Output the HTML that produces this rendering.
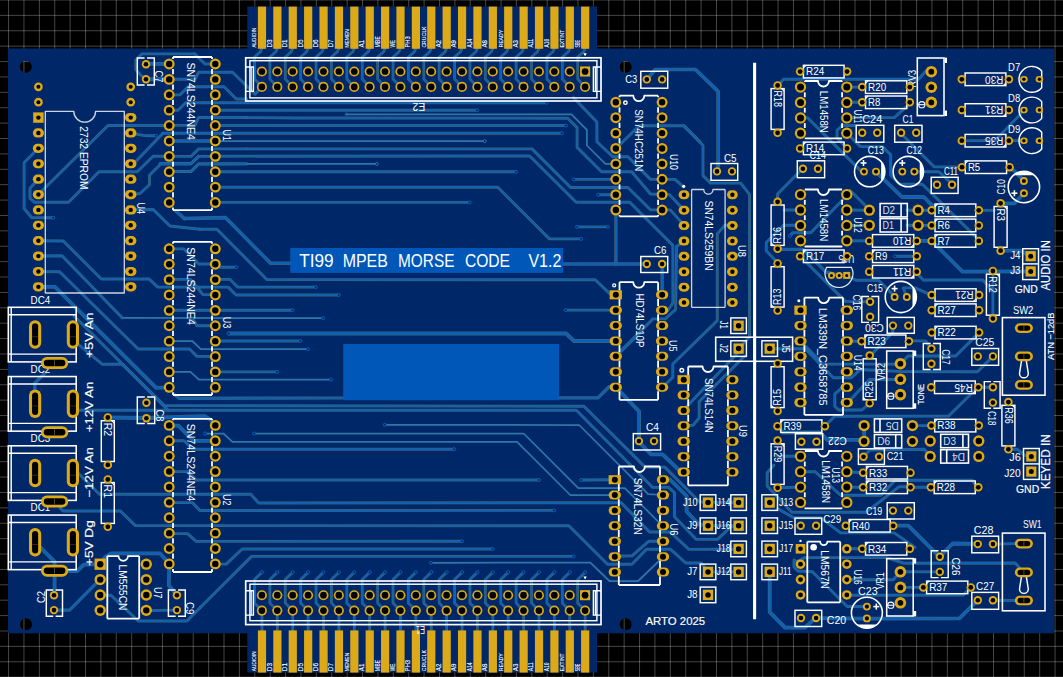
<!DOCTYPE html>
<html lang="en"><head><meta charset="utf-8"><title>TI99 MPEB MORSE CODE V1.2 - PCB</title>
<style>html,body{margin:0;padding:0;background:#000;overflow:hidden}svg{display:block}</style>
</head><body>
<svg width="1063" height="677" viewBox="0 0 1063 677">
<rect width="1063" height="677" fill="#000"/>
<g stroke="#fff" stroke-opacity="0.27" stroke-width="1">
<line x1="8.55" y1="0" x2="8.55" y2="677"/>
<line x1="23.94" y1="0" x2="23.94" y2="677"/>
<line x1="39.33" y1="0" x2="39.33" y2="677"/>
<line x1="54.72" y1="0" x2="54.72" y2="677"/>
<line x1="70.11" y1="0" x2="70.11" y2="677"/>
<line x1="85.5" y1="0" x2="85.5" y2="677"/>
<line x1="100.89" y1="0" x2="100.89" y2="677"/>
<line x1="116.28" y1="0" x2="116.28" y2="677"/>
<line x1="131.67" y1="0" x2="131.67" y2="677"/>
<line x1="147.06" y1="0" x2="147.06" y2="677"/>
<line x1="162.45" y1="0" x2="162.45" y2="677"/>
<line x1="177.84" y1="0" x2="177.84" y2="677"/>
<line x1="193.23" y1="0" x2="193.23" y2="677"/>
<line x1="208.62" y1="0" x2="208.62" y2="677"/>
<line x1="224.01" y1="0" x2="224.01" y2="677"/>
<line x1="239.4" y1="0" x2="239.4" y2="677"/>
<line x1="254.79" y1="0" x2="254.79" y2="677"/>
<line x1="270.18" y1="0" x2="270.18" y2="677"/>
<line x1="285.57" y1="0" x2="285.57" y2="677"/>
<line x1="300.96" y1="0" x2="300.96" y2="677"/>
<line x1="316.35" y1="0" x2="316.35" y2="677"/>
<line x1="331.74" y1="0" x2="331.74" y2="677"/>
<line x1="347.13" y1="0" x2="347.13" y2="677"/>
<line x1="362.52" y1="0" x2="362.52" y2="677"/>
<line x1="377.91" y1="0" x2="377.91" y2="677"/>
<line x1="393.3" y1="0" x2="393.3" y2="677"/>
<line x1="408.69" y1="0" x2="408.69" y2="677"/>
<line x1="424.08" y1="0" x2="424.08" y2="677"/>
<line x1="439.47" y1="0" x2="439.47" y2="677"/>
<line x1="454.86" y1="0" x2="454.86" y2="677"/>
<line x1="470.25" y1="0" x2="470.25" y2="677"/>
<line x1="485.64" y1="0" x2="485.64" y2="677"/>
<line x1="501.03" y1="0" x2="501.03" y2="677"/>
<line x1="516.42" y1="0" x2="516.42" y2="677"/>
<line x1="531.81" y1="0" x2="531.81" y2="677"/>
<line x1="547.2" y1="0" x2="547.2" y2="677"/>
<line x1="562.59" y1="0" x2="562.59" y2="677"/>
<line x1="577.98" y1="0" x2="577.98" y2="677"/>
<line x1="593.37" y1="0" x2="593.37" y2="677"/>
<line x1="608.76" y1="0" x2="608.76" y2="677"/>
<line x1="624.15" y1="0" x2="624.15" y2="677"/>
<line x1="639.54" y1="0" x2="639.54" y2="677"/>
<line x1="654.93" y1="0" x2="654.93" y2="677"/>
<line x1="670.32" y1="0" x2="670.32" y2="677"/>
<line x1="685.71" y1="0" x2="685.71" y2="677"/>
<line x1="701.1" y1="0" x2="701.1" y2="677"/>
<line x1="716.49" y1="0" x2="716.49" y2="677"/>
<line x1="731.88" y1="0" x2="731.88" y2="677"/>
<line x1="747.27" y1="0" x2="747.27" y2="677"/>
<line x1="762.66" y1="0" x2="762.66" y2="677"/>
<line x1="778.05" y1="0" x2="778.05" y2="677"/>
<line x1="793.44" y1="0" x2="793.44" y2="677"/>
<line x1="808.83" y1="0" x2="808.83" y2="677"/>
<line x1="824.22" y1="0" x2="824.22" y2="677"/>
<line x1="839.61" y1="0" x2="839.61" y2="677"/>
<line x1="855" y1="0" x2="855" y2="677"/>
<line x1="870.39" y1="0" x2="870.39" y2="677"/>
<line x1="885.78" y1="0" x2="885.78" y2="677"/>
<line x1="901.17" y1="0" x2="901.17" y2="677"/>
<line x1="916.56" y1="0" x2="916.56" y2="677"/>
<line x1="931.95" y1="0" x2="931.95" y2="677"/>
<line x1="947.34" y1="0" x2="947.34" y2="677"/>
<line x1="962.73" y1="0" x2="962.73" y2="677"/>
<line x1="978.12" y1="0" x2="978.12" y2="677"/>
<line x1="993.51" y1="0" x2="993.51" y2="677"/>
<line x1="1008.9" y1="0" x2="1008.9" y2="677"/>
<line x1="1024.29" y1="0" x2="1024.29" y2="677"/>
<line x1="1039.68" y1="0" x2="1039.68" y2="677"/>
<line x1="1055.07" y1="0" x2="1055.07" y2="677"/>
<line x1="0" y1="0" x2="1063" y2="0"/>
<line x1="0" y1="15.39" x2="1063" y2="15.39"/>
<line x1="0" y1="30.78" x2="1063" y2="30.78"/>
<line x1="0" y1="46.17" x2="1063" y2="46.17"/>
<line x1="0" y1="61.56" x2="1063" y2="61.56"/>
<line x1="0" y1="76.95" x2="1063" y2="76.95"/>
<line x1="0" y1="92.34" x2="1063" y2="92.34"/>
<line x1="0" y1="107.73" x2="1063" y2="107.73"/>
<line x1="0" y1="123.12" x2="1063" y2="123.12"/>
<line x1="0" y1="138.51" x2="1063" y2="138.51"/>
<line x1="0" y1="153.9" x2="1063" y2="153.9"/>
<line x1="0" y1="169.29" x2="1063" y2="169.29"/>
<line x1="0" y1="184.68" x2="1063" y2="184.68"/>
<line x1="0" y1="200.07" x2="1063" y2="200.07"/>
<line x1="0" y1="215.46" x2="1063" y2="215.46"/>
<line x1="0" y1="230.85" x2="1063" y2="230.85"/>
<line x1="0" y1="246.24" x2="1063" y2="246.24"/>
<line x1="0" y1="261.63" x2="1063" y2="261.63"/>
<line x1="0" y1="277.02" x2="1063" y2="277.02"/>
<line x1="0" y1="292.41" x2="1063" y2="292.41"/>
<line x1="0" y1="307.8" x2="1063" y2="307.8"/>
<line x1="0" y1="323.19" x2="1063" y2="323.19"/>
<line x1="0" y1="338.58" x2="1063" y2="338.58"/>
<line x1="0" y1="353.97" x2="1063" y2="353.97"/>
<line x1="0" y1="369.36" x2="1063" y2="369.36"/>
<line x1="0" y1="384.75" x2="1063" y2="384.75"/>
<line x1="0" y1="400.14" x2="1063" y2="400.14"/>
<line x1="0" y1="415.53" x2="1063" y2="415.53"/>
<line x1="0" y1="430.92" x2="1063" y2="430.92"/>
<line x1="0" y1="446.31" x2="1063" y2="446.31"/>
<line x1="0" y1="461.7" x2="1063" y2="461.7"/>
<line x1="0" y1="477.09" x2="1063" y2="477.09"/>
<line x1="0" y1="492.48" x2="1063" y2="492.48"/>
<line x1="0" y1="507.87" x2="1063" y2="507.87"/>
<line x1="0" y1="523.26" x2="1063" y2="523.26"/>
<line x1="0" y1="538.65" x2="1063" y2="538.65"/>
<line x1="0" y1="554.04" x2="1063" y2="554.04"/>
<line x1="0" y1="569.43" x2="1063" y2="569.43"/>
<line x1="0" y1="584.82" x2="1063" y2="584.82"/>
<line x1="0" y1="600.21" x2="1063" y2="600.21"/>
<line x1="0" y1="615.6" x2="1063" y2="615.6"/>
<line x1="0" y1="630.99" x2="1063" y2="630.99"/>
<line x1="0" y1="646.38" x2="1063" y2="646.38"/>
<line x1="0" y1="661.77" x2="1063" y2="661.77"/>
<line x1="0" y1="677.16" x2="1063" y2="677.16"/>
</g>
<path d="M8 48.6 H247.3 V6.6 H597 V48.6 H1054.2 V633.2 H597 V672.6 H247.3 V633.2 H8 Z" fill="#002868"/>
<g id="halo" fill="none" stroke="#4a7886" stroke-opacity="0.75" stroke-linejoin="round" stroke-linecap="round">
<polyline points="146.38,79.24 140.73,75.1 135.84,69.46 135.84,60.05 142.05,53.84 194.73,53.84" stroke-width="2.9"/>
<polyline points="194.7,53.8 205,64 215.3,64" stroke-width="2.9"/>
<polyline points="146.38,63.81 169.33,63.81" stroke-width="3.8"/>
<polyline points="146.38,79.24 169.33,79.24" stroke-width="3.8"/>
<polyline points="169.13,79.24 194.91,79.24 198.67,72.28 232.54,72.28 255.12,94.29 261.7,87.14" stroke-width="2.9"/>
<polyline points="169.13,94.86 179.86,94.86 188.33,86.77 224.07,86.77 236.3,99 246.65,99" stroke-width="2.9"/>
<polyline points="169.13,110.29 177.98,110.29 185.69,102.69 246.65,102.69" stroke-width="2.9"/>
<polyline points="169.13,125.34 194.91,125.34 198.67,117.44 246.65,117.44" stroke-width="2.9"/>
<polyline points="169.13,156.38 191.15,156.38 198.67,148.86 246.65,148.86" stroke-width="2.9"/>
<polyline points="160.1,163.53 191.15,163.53 198.67,156.38 215.61,156.38" stroke-width="2.9"/>
<polyline points="169.13,171.43 191.15,171.43 198.67,163.91 246.65,163.91" stroke-width="2.9"/>
<polyline points="169.13,140.95 215.61,140.95" stroke-width="2.9"/>
<polyline points="262,48 260.5,51.8 254.5,57 254.5,79 261.9,86.9" stroke-width="2.76"/>
<polyline points="262,572.2 254.5,579.5 254.5,603 261.9,610.6 262,631" stroke-width="2.76"/>
<polyline points="277.39,48 275.89,51.8 269.89,57 269.89,79 277.29,86.9" stroke-width="2.76"/>
<polyline points="277.39,572.2 269.89,579.5 269.89,603 277.29,610.6 277.39,631" stroke-width="2.76"/>
<polyline points="292.78,48 291.28,51.8 285.28,57 285.28,79 292.68,86.9" stroke-width="2.76"/>
<polyline points="292.78,572.2 285.28,579.5 285.28,603 292.68,610.6 292.78,631" stroke-width="2.76"/>
<polyline points="308.17,48 306.67,51.8 300.67,57 300.67,79 308.07,86.9" stroke-width="2.76"/>
<polyline points="308.17,572.2 300.67,579.5 300.67,603 308.07,610.6 308.17,631" stroke-width="2.76"/>
<polyline points="323.56,48 322.06,51.8 316.06,57 316.06,79 323.46,86.9" stroke-width="2.76"/>
<polyline points="323.56,572.2 316.06,579.5 316.06,603 323.46,610.6 323.56,631" stroke-width="2.76"/>
<polyline points="338.95,48 337.45,51.8 331.45,57 331.45,79 338.85,86.9" stroke-width="2.76"/>
<polyline points="338.95,572.2 331.45,579.5 331.45,603 338.85,610.6 338.95,631" stroke-width="2.76"/>
<polyline points="354.34,48 352.84,51.8 346.84,57 346.84,79 354.24,86.9" stroke-width="2.76"/>
<polyline points="354.34,572.2 346.84,579.5 346.84,603 354.24,610.6 354.34,631" stroke-width="2.76"/>
<polyline points="369.73,48 368.23,51.8 362.23,57 362.23,79 369.63,86.9" stroke-width="2.76"/>
<polyline points="369.73,572.2 362.23,579.5 362.23,603 369.63,610.6 369.73,631" stroke-width="2.76"/>
<polyline points="385.12,48 383.62,51.8 377.62,57 377.62,79 385.02,86.9" stroke-width="2.76"/>
<polyline points="385.12,572.2 377.62,579.5 377.62,603 385.02,610.6 385.12,631" stroke-width="2.76"/>
<polyline points="400.51,48 399.01,51.8 393.01,57 393.01,79 400.41,86.9" stroke-width="2.76"/>
<polyline points="400.51,572.2 393.01,579.5 393.01,603 400.41,610.6 400.51,631" stroke-width="2.76"/>
<polyline points="415.9,48 414.4,51.8 408.4,57 408.4,79 415.8,86.9" stroke-width="2.76"/>
<polyline points="415.9,572.2 408.4,579.5 408.4,603 415.8,610.6 415.9,631" stroke-width="2.76"/>
<polyline points="431.29,48 429.79,51.8 423.79,57 423.79,79 431.19,86.9" stroke-width="2.76"/>
<polyline points="431.29,572.2 423.79,579.5 423.79,603 431.19,610.6 431.29,631" stroke-width="2.76"/>
<polyline points="446.68,48 445.18,51.8 439.18,57 439.18,79 446.58,86.9" stroke-width="2.76"/>
<polyline points="446.68,572.2 439.18,579.5 439.18,603 446.58,610.6 446.68,631" stroke-width="2.76"/>
<polyline points="462.07,48 460.57,51.8 454.57,57 454.57,79 461.97,86.9" stroke-width="2.76"/>
<polyline points="462.07,572.2 454.57,579.5 454.57,603 461.97,610.6 462.07,631" stroke-width="2.76"/>
<polyline points="477.46,48 475.96,51.8 469.96,57 469.96,79 477.36,86.9" stroke-width="2.76"/>
<polyline points="477.46,572.2 469.96,579.5 469.96,603 477.36,610.6 477.46,631" stroke-width="2.76"/>
<polyline points="492.85,48 491.35,51.8 485.35,57 485.35,79 492.75,86.9" stroke-width="2.76"/>
<polyline points="492.85,572.2 485.35,579.5 485.35,603 492.75,610.6 492.85,631" stroke-width="2.76"/>
<polyline points="508.24,48 506.74,51.8 500.74,57 500.74,79 508.14,86.9" stroke-width="2.76"/>
<polyline points="508.24,572.2 500.74,579.5 500.74,603 508.14,610.6 508.24,631" stroke-width="2.76"/>
<polyline points="523.63,48 522.13,51.8 516.13,57 516.13,79 523.53,86.9" stroke-width="2.76"/>
<polyline points="523.63,572.2 516.13,579.5 516.13,603 523.53,610.6 523.63,631" stroke-width="2.76"/>
<polyline points="539.02,48 537.52,51.8 531.52,57 531.52,79 538.92,86.9" stroke-width="2.76"/>
<polyline points="539.02,572.2 531.52,579.5 531.52,603 538.92,610.6 539.02,631" stroke-width="2.76"/>
<polyline points="554.41,48 552.91,51.8 546.91,57 546.91,79 554.31,86.9" stroke-width="2.76"/>
<polyline points="554.41,572.2 546.91,579.5 546.91,603 554.31,610.6 554.41,631" stroke-width="2.76"/>
<polyline points="569.8,48 568.3,51.8 562.3,57 562.3,79 569.7,86.9" stroke-width="2.76"/>
<polyline points="569.8,572.2 562.3,579.5 562.3,603 569.7,610.6 569.8,631" stroke-width="2.76"/>
<polyline points="585.19,48 583.69,51.8 577.69,57 577.69,79 585.09,86.9" stroke-width="2.76"/>
<polyline points="585.19,572.2 577.69,579.5 577.69,603 585.09,610.6 585.19,631" stroke-width="2.76"/>
<polyline points="246.6,102.7 546.7,102.7" stroke-width="2.9"/>
<polyline points="215.3,110.3 477,110.3" stroke-width="2.9"/>
<polyline points="215.3,125.5 565.9,125.5" stroke-width="2.9"/>
<polyline points="162.9,133.2 561.7,133.2" stroke-width="2.9"/>
<polyline points="215.3,171.8 516,171.8" stroke-width="2.9"/>
<polyline points="215.3,202.4 469.6,202.4" stroke-width="2.9"/>
<polyline points="573.38,97.53 596.9,121.98 596.9,141.74 612.89,156.79 627.94,156.79 650.52,179.37 662.18,179.37" stroke-width="2.9"/>
<polyline points="246.6,117.6 300,118 567.7,118.2 577.1,127.6 577.1,147.4 601.6,171.8 631.7,171.8 650.5,194 662.1,194.4" stroke-width="2.9"/>
<polyline points="246.6,148.9 532,148.9 570.6,187.5 627.9,187.5 650.5,209.8 662.1,209.9" stroke-width="2.9"/>
<polyline points="215.3,156.2 529.7,156 576.2,202.3 629.8,202.3 672.9,245.4 672.9,303 667.8,310.5 662.1,310.5" stroke-width="2.9"/>
<polyline points="215.3,187.3 497.8,187.3 549.4,238.9 581.1,238.9" stroke-width="2.9"/>
<polyline points="573.94,179.37 615.71,179.37" stroke-width="2.9"/>
<polyline points="598.21,194.8 615.71,194.8" stroke-width="2.9"/>
<polyline points="615.71,148.7 639.23,125.75 683.44,125.75 700,141.74" stroke-width="2.9"/>
<polyline points="662.18,179.37 674.98,179.37 683.44,186.9" stroke-width="2.9"/>
<polyline points="662.18,194.42 669.33,194.42 683.44,209.47" stroke-width="2.9"/>
<polyline points="662.18,209.85 670.27,209.85 683.44,224.52" stroke-width="2.9"/>
<polyline points="577,226.9 608,226.9" stroke-width="2.9"/>
<polyline points="615.9,209.8 615.9,264" stroke-width="3.34"/>
<polyline points="563.2,264 646.8,264" stroke-width="3.57"/>
<polyline points="184.3,218.5 225.4,217.6 270.6,263.2 290.3,263.2" stroke-width="3.57"/>
<polyline points="175.8,211 184.3,218.5" stroke-width="3.57"/>
<polyline points="200,229.2 216.9,229.2 266.8,279.6 595.2,279.8 610.3,294.1 615.8,294.8" stroke-width="2.9"/>
<polyline points="215.3,264.2 220,267.2 236.3,267.2" stroke-width="2.9"/>
<polyline points="215.4,279.4 230.1,279.4 237.6,287.1 315.7,287.1" stroke-width="2.9"/>
<polyline points="200,287.1 228.2,287.1 236.1,295 338.9,295" stroke-width="2.9"/>
<polyline points="215.4,310.2 292.6,310.2" stroke-width="2.9"/>
<polyline points="565.7,310.1 615.9,310.1" stroke-width="2.9"/>
<polyline points="228.6,333.5 566.1,333.5 574,341 615.9,341" stroke-width="3.8"/>
<polyline points="215.4,341 300.3,341" stroke-width="2.9"/>
<polyline points="192,318.2 195.2,322.6 197,325.8 215.5,325.8" stroke-width="2.9"/>
<polyline points="215.4,371.9 277.1,371.9" stroke-width="2.9"/>
<polyline points="173.7,394 179.4,398.4 343.2,398" stroke-width="3.22"/>
<polyline points="558.9,397.8 598,397.8 609.3,386.5 615.9,387.1" stroke-width="3.22"/>
<polyline points="615.9,387.1 628.1,400 639.1,411.3 639.1,440" stroke-width="3.8"/>
<polyline points="615.9,356.4 620.6,351.7 640,333" stroke-width="2.9"/>
<polyline points="74,316 164.3,405.6 583.9,406.2 645.2,467.1 664.8,467.1 699.4,501.7 708,502.6" stroke-width="2.9"/>
<polyline points="73,340 102.5,364.3 122.3,364.3 168.2,410.2 576.4,410.2 652.7,487.4 668.5,487.4 674.5,492.7 674.5,516.8 696.4,539.4 717.5,539.4 731,526.6 738.6,525.7" stroke-width="2.9"/>
<polyline points="73,410.2 168.2,410.2" stroke-width="3"/>
<polyline points="169.2,440.8 184.1,440.8 192.5,449.2 454.1,449.2" stroke-width="2.9"/>
<polyline points="169.2,471.6 187.8,471.6 196.3,480 538.8,480" stroke-width="2.9"/>
<polyline points="581.1,480 614.8,479.7" stroke-width="2.9"/>
<polyline points="74,469 99.4,494.2 250.8,494.2 258.6,503 621,502.6 649.6,532 670.3,532 688.9,549.4 738.6,549.2" stroke-width="2.9"/>
<polyline points="169.4,502.6 192.3,502.6 199.9,510.5 554.2,510.4" stroke-width="2.9"/>
<polyline points="60.2,508.2 63,511 120.4,511 135.5,525.6 568.9,525.7 607.5,564.3 631.9,564.3 646.5,549.2 670.3,549.2 685.8,563 701.3,563 708,571.7" stroke-width="2.9"/>
<polyline points="169.4,533.6 187.6,533.6 196.1,541.4 462,541.3" stroke-width="2.9"/>
<polyline points="215.5,564.1 226.2,564.1 242.2,549 492.7,549" stroke-width="2.9"/>
<polyline points="200.8,607 251.6,556.4 573.6,556.4" stroke-width="2.9"/>
<polyline points="614.9,556.2 632,555.8 648.6,541.3 663,541.3" stroke-width="2.9"/>
<polyline points="107.8,417.5 146.4,418 204.8,416.2 211,420 215.4,425.8" stroke-width="3.8"/>
<polyline points="169.2,425.7 178.4,425.7 193.5,440.8 215.4,440.8" stroke-width="3.8"/>
<polyline points="99.9,564.2 105.4,557 111,553.3 159.9,553.3 169.4,564.1 168.8,585.4 176.9,595.2" stroke-width="3.8"/>
<polyline points="38.3,194.5 108,125.5 169.2,125.5" stroke-width="2.9"/>
<polyline points="38.3,179.3 30,188.2 30,198.4 34.3,202.2 68.5,202.2 99,171.7 137.2,171.7 153.2,156.2 169.2,156.3" stroke-width="2.9"/>
<polyline points="38.3,148.3 24.1,162.8 24.1,208.5 31.7,217.6 53.3,217.8" stroke-width="2.9"/>
<polyline points="130.8,133.2 145,135.6 156,135.7" stroke-width="2.9"/>
<polyline points="130.8,163.8 136.3,161 162.9,133.2" stroke-width="2.9"/>
<polyline points="130.8,194.6 140,193.5 149.5,184.7 149.5,175.3 160.8,164 190.9,164 198.4,156.4" stroke-width="2.9"/>
<polyline points="169.2,171.6 190.9,171.6 198.4,164 246.6,163.9" stroke-width="2.9"/>
<polyline points="169.2,141 215.3,141" stroke-width="2.9"/>
<polyline points="130.8,209.8 153.2,209.5 170,226 200,229.2" stroke-width="2.9"/>
<polyline points="38.3,240.8 63.3,241 101.3,279 149.1,279 157.7,287.1 200,287.1" stroke-width="2.9"/>
<polyline points="169.4,279.4 190.5,279.4 200,291 203,294.6 215.5,294.6" stroke-width="2.9"/>
<polyline points="169.4,248.9 183.9,248.9 198.9,264 215.5,264" stroke-width="2.9"/>
<polyline points="169.4,310.2 215.5,310.2" stroke-width="2.9"/>
<polyline points="38.3,256 62,255.8 122.2,317.8" stroke-width="2.9"/>
<polyline points="38.3,271.6 59.6,271.7 138.1,349 189.6,349 197,356.4 215.3,356.5" stroke-width="2.9"/>
<polyline points="38.3,286.9 55,286.9 156.2,387.8 169.2,387.3" stroke-width="3.8"/>
<polyline points="45.2,372.8 34.8,383.1 34.8,392" stroke-width="3.18"/>
<polyline points="40.5,547.6 54.6,561.7 54.6,591" stroke-width="3.8"/>
<polyline points="68.1,571.1 77.1,571.1 83.7,564.6 99.9,564.2" stroke-width="3.8"/>
<polyline points="54,610.1 69.6,610.1 94.1,585.3 99.9,580.5" stroke-width="3.18"/>
<polyline points="99.9,595.2 111,595.2 138.3,621 187,621 200.8,607" stroke-width="2.9"/>
<polyline points="146.4,610.6 176.9,610.1" stroke-width="2.9"/>
<polyline points="647,79.4 655.3,69.5 695.5,69.5 718.1,91.4 718.1,171.8" stroke-width="3.68"/>
<polyline points="684.2,125.8 703,145.4 703,175.6 710.6,183.1 740.7,183.1 749.5,194.4 749.5,337 744,343 738.6,348.6" stroke-width="2.9"/>
<polyline points="662.1,264 662.1,294.8" stroke-width="3.34"/>
<polyline points="615.8,356.4 620.1,351.8 653,318.9 665.3,318.9 675.6,309.5 676.6,246.5 684.2,241" stroke-width="2.9"/>
<polyline points="732.4,225.1 724.9,225.1 717.3,233.9 717.3,320.6 672.8,364 672.8,377.2 668,382 662.1,387.1" stroke-width="2.9"/>
<polyline points="738.6,352 689.2,404 683.7,410.3" stroke-width="2.9"/>
<polyline points="744.5,356.3 699.2,401.5 699.2,417.8 693,425.4 683.7,425.4" stroke-width="2.9"/>
<polyline points="639.2,442.3 651.2,454.3 662.5,454.3 678.3,469.4 683.6,471.6" stroke-width="3.8"/>
<polyline points="663,479.5 670,479.5 686.6,496 686.6,511.5 698.6,524.3 708.1,525.5" stroke-width="3.8"/>
<polyline points="708,502.4 738.6,502.4" stroke-width="2.76"/>
<polyline points="708,525.6 738.6,525.6" stroke-width="2.76"/>
<polyline points="708,571.8 738.6,571.8" stroke-width="2.76"/>
<polyline points="777.6,85.9 783.6,79.1 918.6,79.2 926.2,70.7 931.3,71.7" stroke-width="2.9"/>
<polyline points="846.8,87.1 862.2,87.1" stroke-width="2.9"/>
<polyline points="846.8,102.3 862.2,102.3" stroke-width="2.9"/>
<polyline points="846.6,117.6 894.3,117.6 907.1,106.2 909.8,102.3" stroke-width="2.9"/>
<polyline points="800.5,117.7 807.6,117.7 850,160.1 861.5,171.6" stroke-width="2.9"/>
<polyline points="854.4,125.5 842.3,125.5 837.1,130.3 837.1,137.8 847.1,148.4" stroke-width="2.9"/>
<polyline points="846.6,133 860.5,146.6 882.4,146.6 890.7,154.8 890.7,175.2 899.7,184.2 922.3,184.2 975.3,236.4 978.8,240.9" stroke-width="2.9"/>
<polyline points="900.5,133 934.3,166.9 962.2,166.9" stroke-width="2.9"/>
<polyline points="914.5,171.7 938.9,171.7 952.4,184.2" stroke-width="2.9"/>
<polyline points="875.9,171.7 902,197 923.8,197 934.3,207.6 931.3,209.8" stroke-width="3.8"/>
<polyline points="802.6,168.6 777.6,194 777.6,201.5" stroke-width="2.9"/>
<polyline points="850,190.2 866.6,206.8 869.3,210.2" stroke-width="2.9"/>
<polyline points="916.8,240.9 931.7,240.9 962.5,271.7 1030.7,271.4" stroke-width="3.8"/>
<polyline points="800.2,225.2 783.6,225.2 766.3,242.5 766.3,250.8 777.6,262.8" stroke-width="2.9"/>
<polyline points="800.5,210 784,210" stroke-width="2.9"/>
<polyline points="789.9,236 792.7,232.7 810.7,232.7 841.6,201.1 846.6,194.6" stroke-width="2.9"/>
<polyline points="777.6,249.3 803.2,249.3 825.8,271.9 839.2,275.4" stroke-width="3.22"/>
<polyline points="800.2,256.1 806.2,262.3 845.4,301.4 869.5,301.9" stroke-width="2.9"/>
<polyline points="846.8,210 869.3,210.2" stroke-width="2.9"/>
<polyline points="846.8,225.4 869.3,225.3" stroke-width="2.9"/>
<polyline points="846.8,240.8 869.2,240.9" stroke-width="2.9"/>
<polyline points="907,210.2 931.7,210.3" stroke-width="2.9"/>
<polyline points="907,225.3 931.7,225.4" stroke-width="2.9"/>
<polyline points="895.1,256.3 916.8,256.3" stroke-width="2.9"/>
<polyline points="846.9,275.5 855.9,280.3 878.5,280.3 893.6,295.4" stroke-width="2.9"/>
<polyline points="906.7,296.9 903.3,287.9 915,287.9 931.7,295.1" stroke-width="2.9"/>
<polyline points="846.8,341.2 861.6,341.3" stroke-width="2.9"/>
<polyline points="892.8,325.8 892.8,332.3 874,351.9 869.8,356.4" stroke-width="2.9"/>
<polyline points="769.6,348.7 803.2,348.7" stroke-width="2.9"/>
<polyline points="800.2,341.5 805.5,346 822.8,364.1 899.6,364.1" stroke-width="2.9"/>
<polyline points="805.5,349 833.3,377.7 851.4,377.7 860.4,369.5 903,371.6 977.5,371.8 992.9,356.4" stroke-width="2.9"/>
<polyline points="869.8,403 861.9,410 838.6,410 834.8,406.3 834.8,394.2 843.1,386.7 846.6,387.1" stroke-width="2.9"/>
<polyline points="846.6,402.2 851.4,398.7 869.5,379.5 899.6,379.5" stroke-width="2.9"/>
<polyline points="824.6,426.3 834.8,416.2 948.7,416 973.8,391.3 978.3,387.3" stroke-width="2.9"/>
<polyline points="777.5,426.2 783,432.5 820,432.5 827.4,439.8 864.1,439.8" stroke-width="3.8"/>
<polyline points="864.1,425.6 864.1,441.3" stroke-width="3.8"/>
<polyline points="773.8,465.2 767.2,472.7 767.2,485.9 791.7,512.2 866,512.2 898.9,486.8 910.2,486.8" stroke-width="2.9"/>
<polyline points="800.2,471.7 815.2,471.7 840.6,495.3 881.1,495.3 895.2,480.2 972.3,480.1 975.3,484.6" stroke-width="2.9"/>
<polyline points="863.7,456.7 869.8,450.1 924.3,449.2 930,455.7" stroke-width="2.9"/>
<polyline points="846.8,471.7 863.1,472.7" stroke-width="2.9"/>
<polyline points="846.8,487.1 863.1,487.3" stroke-width="2.9"/>
<polyline points="910.5,487.3 930.9,487.3" stroke-width="2.9"/>
<polyline points="912.4,425.6 931.4,425.6" stroke-width="2.9"/>
<polyline points="800.5,456.3 777.6,456.3" stroke-width="2.9"/>
<polyline points="800.5,487.1 777.6,487.8" stroke-width="2.9"/>
<polyline points="893.7,525.7 908.3,525.7 930,547.4 939.9,556.9" stroke-width="3.8"/>
<polyline points="777.6,508.4 793.6,517.8 820.9,517.8 840.6,532.9 894.2,532.9 915,547.4" stroke-width="2.9"/>
<polyline points="769.7,571.7 769.7,612.2 785.1,627.6 804.9,627.6 815.6,617.8" stroke-width="3.8"/>
<polyline points="815.6,618.2 866.9,618.6 959.5,618.4 973.8,604 977.8,600.2" stroke-width="3.8"/>
<polyline points="800.5,564.2 794,560 794,567 798,571 812.4,571.7 847.2,606.5 866.9,606.5" stroke-width="2.9"/>
<polyline points="798,561 804.9,557.6 886.7,557.6 903.6,563.2 1015.2,563 1019.7,567.9" stroke-width="2.9"/>
<polyline points="846.6,579.8 893.3,579.8 898,574.6" stroke-width="2.9"/>
<polyline points="846.6,595.2 963.2,595 967.8,590.5" stroke-width="2.9"/>
<polyline points="900.4,571.8 939.8,571.9" stroke-width="2.9"/>
<polyline points="900.4,587.4 923.3,587.4" stroke-width="2.9"/>
<polyline points="846.8,548.8 862.2,548.8" stroke-width="2.9"/>
<polyline points="939.8,556.7 952.7,543.5 977.8,543.8" stroke-width="3.8"/>
<polyline points="992.9,544.1 1015,543.6" stroke-width="2.9"/>
<polyline points="992.9,600.2 1015,600.5" stroke-width="2.9"/>
<polyline points="966.3,140.6 994.9,140.6 1019.7,115 1023.5,110" stroke-width="2.76"/>
<polyline points="1008.9,140.7 1023.5,140.7" stroke-width="2.76"/>
<polyline points="1009.6,167.2 1015,171.5 1023.9,181" stroke-width="3.8"/>
<polyline points="1023.9,193.2 1014.5,203.3 1000.6,203.3" stroke-width="3.8"/>
<polyline points="978.8,210.4 994.4,210.4" stroke-width="2.9"/>
<polyline points="1000.6,250.7 1020.5,250.7 1030.7,256.2" stroke-width="3.8"/>
<polyline points="992.9,274.8 992.9,318.6" stroke-width="2.76"/>
<polyline points="915.8,271.7 923.3,280 982.8,280 992.9,291.3" stroke-width="2.9"/>
<polyline points="909,340.9 925.6,340.9 930.9,348.5" stroke-width="2.9"/>
<polyline points="900.4,363.7 908,356 955.7,356 975.3,336.4 978.8,332.6" stroke-width="2.9"/>
<polyline points="978.3,387.3 992.9,387.2" stroke-width="2.9"/>
<polyline points="1008.4,449.3 1017.4,449.3 1025,455.3 1031.3,456.4" stroke-width="2.9"/>
</g>
<g id="traces">
<rect x="290.2" y="248" width="272.9" height="24.9" fill="#0057b8"/>
<rect x="343.2" y="344" width="215.9" height="56.2" fill="#0057b8"/>
<polyline points="146.38,79.24 140.73,75.1 135.84,69.46 135.84,60.05 142.05,53.84 194.73,53.84" fill="none" stroke="#0a60ba" stroke-width="1.4" stroke-linejoin="round" stroke-linecap="round"/>
<polyline points="194.7,53.8 205,64 215.3,64" fill="none" stroke="#0a60ba" stroke-width="1.4" stroke-linejoin="round" stroke-linecap="round"/>
<polyline points="146.38,63.81 169.33,63.81" fill="none" stroke="#0a60ba" stroke-width="2.3" stroke-linejoin="round" stroke-linecap="round"/>
<polyline points="146.38,79.24 169.33,79.24" fill="none" stroke="#0a60ba" stroke-width="2.3" stroke-linejoin="round" stroke-linecap="round"/>
<polyline points="169.13,79.24 194.91,79.24 198.67,72.28 232.54,72.28 255.12,94.29 261.7,87.14" fill="none" stroke="#0a60ba" stroke-width="1.4" stroke-linejoin="round" stroke-linecap="round"/>
<polyline points="169.13,94.86 179.86,94.86 188.33,86.77 224.07,86.77 236.3,99 246.65,99" fill="none" stroke="#0a60ba" stroke-width="1.4" stroke-linejoin="round" stroke-linecap="round"/>
<polyline points="169.13,110.29 177.98,110.29 185.69,102.69 246.65,102.69" fill="none" stroke="#0a60ba" stroke-width="1.4" stroke-linejoin="round" stroke-linecap="round"/>
<polyline points="169.13,125.34 194.91,125.34 198.67,117.44 246.65,117.44" fill="none" stroke="#0a60ba" stroke-width="1.4" stroke-linejoin="round" stroke-linecap="round"/>
<polyline points="169.13,156.38 191.15,156.38 198.67,148.86 246.65,148.86" fill="none" stroke="#0a60ba" stroke-width="1.4" stroke-linejoin="round" stroke-linecap="round"/>
<polyline points="160.1,163.53 191.15,163.53 198.67,156.38 215.61,156.38" fill="none" stroke="#0a60ba" stroke-width="1.4" stroke-linejoin="round" stroke-linecap="round"/>
<polyline points="169.13,171.43 191.15,171.43 198.67,163.91 246.65,163.91" fill="none" stroke="#0a60ba" stroke-width="1.4" stroke-linejoin="round" stroke-linecap="round"/>
<polyline points="169.13,140.95 215.61,140.95" fill="none" stroke="#0a60ba" stroke-width="1.4" stroke-linejoin="round" stroke-linecap="round"/>
<polyline points="262,48 260.5,51.8 254.5,57 254.5,79 261.9,86.9" fill="none" stroke="#0a60ba" stroke-width="1.26" stroke-linejoin="round" stroke-linecap="round"/>
<polyline points="262,572.2 254.5,579.5 254.5,603 261.9,610.6 262,631" fill="none" stroke="#0a60ba" stroke-width="1.26" stroke-linejoin="round" stroke-linecap="round"/>
<circle cx="262" cy="572.2" r="1.5" fill="#002868" stroke="#0a60ba" stroke-width="0.9"/>
<polyline points="277.39,48 275.89,51.8 269.89,57 269.89,79 277.29,86.9" fill="none" stroke="#0a60ba" stroke-width="1.26" stroke-linejoin="round" stroke-linecap="round"/>
<polyline points="277.39,572.2 269.89,579.5 269.89,603 277.29,610.6 277.39,631" fill="none" stroke="#0a60ba" stroke-width="1.26" stroke-linejoin="round" stroke-linecap="round"/>
<circle cx="277.39" cy="572.2" r="1.5" fill="#002868" stroke="#0a60ba" stroke-width="0.9"/>
<polyline points="292.78,48 291.28,51.8 285.28,57 285.28,79 292.68,86.9" fill="none" stroke="#0a60ba" stroke-width="1.26" stroke-linejoin="round" stroke-linecap="round"/>
<polyline points="292.78,572.2 285.28,579.5 285.28,603 292.68,610.6 292.78,631" fill="none" stroke="#0a60ba" stroke-width="1.26" stroke-linejoin="round" stroke-linecap="round"/>
<circle cx="292.78" cy="572.2" r="1.5" fill="#002868" stroke="#0a60ba" stroke-width="0.9"/>
<polyline points="308.17,48 306.67,51.8 300.67,57 300.67,79 308.07,86.9" fill="none" stroke="#0a60ba" stroke-width="1.26" stroke-linejoin="round" stroke-linecap="round"/>
<polyline points="308.17,572.2 300.67,579.5 300.67,603 308.07,610.6 308.17,631" fill="none" stroke="#0a60ba" stroke-width="1.26" stroke-linejoin="round" stroke-linecap="round"/>
<circle cx="308.17" cy="572.2" r="1.5" fill="#002868" stroke="#0a60ba" stroke-width="0.9"/>
<polyline points="323.56,48 322.06,51.8 316.06,57 316.06,79 323.46,86.9" fill="none" stroke="#0a60ba" stroke-width="1.26" stroke-linejoin="round" stroke-linecap="round"/>
<polyline points="323.56,572.2 316.06,579.5 316.06,603 323.46,610.6 323.56,631" fill="none" stroke="#0a60ba" stroke-width="1.26" stroke-linejoin="round" stroke-linecap="round"/>
<circle cx="323.56" cy="572.2" r="1.5" fill="#002868" stroke="#0a60ba" stroke-width="0.9"/>
<polyline points="338.95,48 337.45,51.8 331.45,57 331.45,79 338.85,86.9" fill="none" stroke="#0a60ba" stroke-width="1.26" stroke-linejoin="round" stroke-linecap="round"/>
<polyline points="338.95,572.2 331.45,579.5 331.45,603 338.85,610.6 338.95,631" fill="none" stroke="#0a60ba" stroke-width="1.26" stroke-linejoin="round" stroke-linecap="round"/>
<circle cx="338.95" cy="572.2" r="1.5" fill="#002868" stroke="#0a60ba" stroke-width="0.9"/>
<polyline points="354.34,48 352.84,51.8 346.84,57 346.84,79 354.24,86.9" fill="none" stroke="#0a60ba" stroke-width="1.26" stroke-linejoin="round" stroke-linecap="round"/>
<polyline points="354.34,572.2 346.84,579.5 346.84,603 354.24,610.6 354.34,631" fill="none" stroke="#0a60ba" stroke-width="1.26" stroke-linejoin="round" stroke-linecap="round"/>
<circle cx="354.34" cy="572.2" r="1.5" fill="#002868" stroke="#0a60ba" stroke-width="0.9"/>
<polyline points="369.73,48 368.23,51.8 362.23,57 362.23,79 369.63,86.9" fill="none" stroke="#0a60ba" stroke-width="1.26" stroke-linejoin="round" stroke-linecap="round"/>
<polyline points="369.73,572.2 362.23,579.5 362.23,603 369.63,610.6 369.73,631" fill="none" stroke="#0a60ba" stroke-width="1.26" stroke-linejoin="round" stroke-linecap="round"/>
<circle cx="369.73" cy="572.2" r="1.5" fill="#002868" stroke="#0a60ba" stroke-width="0.9"/>
<polyline points="385.12,48 383.62,51.8 377.62,57 377.62,79 385.02,86.9" fill="none" stroke="#0a60ba" stroke-width="1.26" stroke-linejoin="round" stroke-linecap="round"/>
<polyline points="385.12,572.2 377.62,579.5 377.62,603 385.02,610.6 385.12,631" fill="none" stroke="#0a60ba" stroke-width="1.26" stroke-linejoin="round" stroke-linecap="round"/>
<circle cx="385.12" cy="572.2" r="1.5" fill="#002868" stroke="#0a60ba" stroke-width="0.9"/>
<polyline points="400.51,48 399.01,51.8 393.01,57 393.01,79 400.41,86.9" fill="none" stroke="#0a60ba" stroke-width="1.26" stroke-linejoin="round" stroke-linecap="round"/>
<polyline points="400.51,572.2 393.01,579.5 393.01,603 400.41,610.6 400.51,631" fill="none" stroke="#0a60ba" stroke-width="1.26" stroke-linejoin="round" stroke-linecap="round"/>
<circle cx="400.51" cy="572.2" r="1.5" fill="#002868" stroke="#0a60ba" stroke-width="0.9"/>
<polyline points="415.9,48 414.4,51.8 408.4,57 408.4,79 415.8,86.9" fill="none" stroke="#0a60ba" stroke-width="1.26" stroke-linejoin="round" stroke-linecap="round"/>
<polyline points="415.9,572.2 408.4,579.5 408.4,603 415.8,610.6 415.9,631" fill="none" stroke="#0a60ba" stroke-width="1.26" stroke-linejoin="round" stroke-linecap="round"/>
<circle cx="415.9" cy="572.2" r="1.5" fill="#002868" stroke="#0a60ba" stroke-width="0.9"/>
<polyline points="431.29,48 429.79,51.8 423.79,57 423.79,79 431.19,86.9" fill="none" stroke="#0a60ba" stroke-width="1.26" stroke-linejoin="round" stroke-linecap="round"/>
<polyline points="431.29,572.2 423.79,579.5 423.79,603 431.19,610.6 431.29,631" fill="none" stroke="#0a60ba" stroke-width="1.26" stroke-linejoin="round" stroke-linecap="round"/>
<circle cx="431.29" cy="572.2" r="1.5" fill="#002868" stroke="#0a60ba" stroke-width="0.9"/>
<polyline points="446.68,48 445.18,51.8 439.18,57 439.18,79 446.58,86.9" fill="none" stroke="#0a60ba" stroke-width="1.26" stroke-linejoin="round" stroke-linecap="round"/>
<polyline points="446.68,572.2 439.18,579.5 439.18,603 446.58,610.6 446.68,631" fill="none" stroke="#0a60ba" stroke-width="1.26" stroke-linejoin="round" stroke-linecap="round"/>
<circle cx="446.68" cy="572.2" r="1.5" fill="#002868" stroke="#0a60ba" stroke-width="0.9"/>
<polyline points="462.07,48 460.57,51.8 454.57,57 454.57,79 461.97,86.9" fill="none" stroke="#0a60ba" stroke-width="1.26" stroke-linejoin="round" stroke-linecap="round"/>
<polyline points="462.07,572.2 454.57,579.5 454.57,603 461.97,610.6 462.07,631" fill="none" stroke="#0a60ba" stroke-width="1.26" stroke-linejoin="round" stroke-linecap="round"/>
<circle cx="462.07" cy="572.2" r="1.5" fill="#002868" stroke="#0a60ba" stroke-width="0.9"/>
<polyline points="477.46,48 475.96,51.8 469.96,57 469.96,79 477.36,86.9" fill="none" stroke="#0a60ba" stroke-width="1.26" stroke-linejoin="round" stroke-linecap="round"/>
<polyline points="477.46,572.2 469.96,579.5 469.96,603 477.36,610.6 477.46,631" fill="none" stroke="#0a60ba" stroke-width="1.26" stroke-linejoin="round" stroke-linecap="round"/>
<circle cx="477.46" cy="572.2" r="1.5" fill="#002868" stroke="#0a60ba" stroke-width="0.9"/>
<polyline points="492.85,48 491.35,51.8 485.35,57 485.35,79 492.75,86.9" fill="none" stroke="#0a60ba" stroke-width="1.26" stroke-linejoin="round" stroke-linecap="round"/>
<polyline points="492.85,572.2 485.35,579.5 485.35,603 492.75,610.6 492.85,631" fill="none" stroke="#0a60ba" stroke-width="1.26" stroke-linejoin="round" stroke-linecap="round"/>
<circle cx="492.85" cy="572.2" r="1.5" fill="#002868" stroke="#0a60ba" stroke-width="0.9"/>
<polyline points="508.24,48 506.74,51.8 500.74,57 500.74,79 508.14,86.9" fill="none" stroke="#0a60ba" stroke-width="1.26" stroke-linejoin="round" stroke-linecap="round"/>
<polyline points="508.24,572.2 500.74,579.5 500.74,603 508.14,610.6 508.24,631" fill="none" stroke="#0a60ba" stroke-width="1.26" stroke-linejoin="round" stroke-linecap="round"/>
<circle cx="508.24" cy="572.2" r="1.5" fill="#002868" stroke="#0a60ba" stroke-width="0.9"/>
<polyline points="523.63,48 522.13,51.8 516.13,57 516.13,79 523.53,86.9" fill="none" stroke="#0a60ba" stroke-width="1.26" stroke-linejoin="round" stroke-linecap="round"/>
<polyline points="523.63,572.2 516.13,579.5 516.13,603 523.53,610.6 523.63,631" fill="none" stroke="#0a60ba" stroke-width="1.26" stroke-linejoin="round" stroke-linecap="round"/>
<circle cx="523.63" cy="572.2" r="1.5" fill="#002868" stroke="#0a60ba" stroke-width="0.9"/>
<polyline points="539.02,48 537.52,51.8 531.52,57 531.52,79 538.92,86.9" fill="none" stroke="#0a60ba" stroke-width="1.26" stroke-linejoin="round" stroke-linecap="round"/>
<polyline points="539.02,572.2 531.52,579.5 531.52,603 538.92,610.6 539.02,631" fill="none" stroke="#0a60ba" stroke-width="1.26" stroke-linejoin="round" stroke-linecap="round"/>
<circle cx="539.02" cy="572.2" r="1.5" fill="#002868" stroke="#0a60ba" stroke-width="0.9"/>
<polyline points="554.41,48 552.91,51.8 546.91,57 546.91,79 554.31,86.9" fill="none" stroke="#0a60ba" stroke-width="1.26" stroke-linejoin="round" stroke-linecap="round"/>
<polyline points="554.41,572.2 546.91,579.5 546.91,603 554.31,610.6 554.41,631" fill="none" stroke="#0a60ba" stroke-width="1.26" stroke-linejoin="round" stroke-linecap="round"/>
<circle cx="554.41" cy="572.2" r="1.5" fill="#002868" stroke="#0a60ba" stroke-width="0.9"/>
<polyline points="569.8,48 568.3,51.8 562.3,57 562.3,79 569.7,86.9" fill="none" stroke="#0a60ba" stroke-width="1.26" stroke-linejoin="round" stroke-linecap="round"/>
<polyline points="569.8,572.2 562.3,579.5 562.3,603 569.7,610.6 569.8,631" fill="none" stroke="#0a60ba" stroke-width="1.26" stroke-linejoin="round" stroke-linecap="round"/>
<circle cx="569.8" cy="572.2" r="1.5" fill="#002868" stroke="#0a60ba" stroke-width="0.9"/>
<polyline points="585.19,48 583.69,51.8 577.69,57 577.69,79 585.09,86.9" fill="none" stroke="#0a60ba" stroke-width="1.26" stroke-linejoin="round" stroke-linecap="round"/>
<polyline points="585.19,572.2 577.69,579.5 577.69,603 585.09,610.6 585.19,631" fill="none" stroke="#0a60ba" stroke-width="1.26" stroke-linejoin="round" stroke-linecap="round"/>
<circle cx="585.19" cy="572.2" r="1.5" fill="#002868" stroke="#0a60ba" stroke-width="0.9"/>
<polyline points="246.6,102.7 546.7,102.7" fill="none" stroke="#0a60ba" stroke-width="1.4" stroke-linejoin="round" stroke-linecap="round"/>
<circle cx="546.7" cy="102.7" r="1.5" fill="#002868" stroke="#0a60ba" stroke-width="0.9"/>
<polyline points="215.3,110.3 477,110.3" fill="none" stroke="#0a60ba" stroke-width="1.4" stroke-linejoin="round" stroke-linecap="round"/>
<circle cx="477" cy="110.3" r="1.5" fill="#002868" stroke="#0a60ba" stroke-width="0.9"/>
<polyline points="215.3,125.5 565.9,125.5" fill="none" stroke="#0a60ba" stroke-width="1.4" stroke-linejoin="round" stroke-linecap="round"/>
<circle cx="565.9" cy="125.5" r="1.5" fill="#002868" stroke="#0a60ba" stroke-width="0.9"/>
<polyline points="162.9,133.2 561.7,133.2" fill="none" stroke="#0a60ba" stroke-width="1.4" stroke-linejoin="round" stroke-linecap="round"/>
<circle cx="561.7" cy="133.2" r="1.5" fill="#002868" stroke="#0a60ba" stroke-width="0.9"/>
<polyline points="215.3,141.1 484.7,141.1" fill="none" stroke="#3175a6" stroke-width="1.75" stroke-linejoin="round" stroke-linecap="round"/>
<circle cx="484.7" cy="141.1" r="1.5" fill="#002868" stroke="#3175a6" stroke-width="0.9"/>
<polyline points="246.6,163.9 376.9,163.9" fill="none" stroke="#3175a6" stroke-width="1.75" stroke-linejoin="round" stroke-linecap="round"/>
<circle cx="376.9" cy="163.9" r="1.5" fill="#002868" stroke="#3175a6" stroke-width="0.9"/>
<polyline points="215.3,171.8 516,171.8" fill="none" stroke="#0a60ba" stroke-width="1.4" stroke-linejoin="round" stroke-linecap="round"/>
<circle cx="516" cy="171.8" r="1.5" fill="#002868" stroke="#0a60ba" stroke-width="0.9"/>
<polyline points="215.3,202.4 469.6,202.4" fill="none" stroke="#0a60ba" stroke-width="1.4" stroke-linejoin="round" stroke-linecap="round"/>
<circle cx="469.6" cy="202.4" r="1.5" fill="#002868" stroke="#0a60ba" stroke-width="0.9"/>
<circle cx="346.4" cy="114.2" r="1.5" fill="#002868" stroke="#0a60ba" stroke-width="0.9"/>
<polyline points="573.38,97.53 596.9,121.98 596.9,141.74 612.89,156.79 627.94,156.79 650.52,179.37 662.18,179.37" fill="none" stroke="#0a60ba" stroke-width="1.4" stroke-linejoin="round" stroke-linecap="round"/>
<polyline points="346.4,114.4 571.5,114.4 586.9,129.9 586.9,145.5 605.4,163.9 615.8,163.9" fill="none" stroke="#3175a6" stroke-width="1.75" stroke-linejoin="round" stroke-linecap="round"/>
<polyline points="246.6,117.6 300,118 567.7,118.2 577.1,127.6 577.1,147.4 601.6,171.8 631.7,171.8 650.5,194 662.1,194.4" fill="none" stroke="#0a60ba" stroke-width="1.4" stroke-linejoin="round" stroke-linecap="round"/>
<polyline points="246.6,148.9 532,148.9 570.6,187.5 627.9,187.5 650.5,209.8 662.1,209.9" fill="none" stroke="#0a60ba" stroke-width="1.4" stroke-linejoin="round" stroke-linecap="round"/>
<polyline points="215.3,156.2 529.7,156 576.2,202.3 629.8,202.3 672.9,245.4 672.9,303 667.8,310.5 662.1,310.5" fill="none" stroke="#0a60ba" stroke-width="1.4" stroke-linejoin="round" stroke-linecap="round"/>
<polyline points="215.3,187.3 497.8,187.3 549.4,238.9 581.1,238.9" fill="none" stroke="#0a60ba" stroke-width="1.4" stroke-linejoin="round" stroke-linecap="round"/>
<polyline points="573.94,179.37 615.71,179.37" fill="none" stroke="#0a60ba" stroke-width="1.4" stroke-linejoin="round" stroke-linecap="round"/>
<circle cx="573.9" cy="179.4" r="1.5" fill="#002868" stroke="#0a60ba" stroke-width="0.9"/>
<polyline points="598.21,194.8 615.71,194.8" fill="none" stroke="#0a60ba" stroke-width="1.4" stroke-linejoin="round" stroke-linecap="round"/>
<circle cx="598.2" cy="194.8" r="1.5" fill="#002868" stroke="#0a60ba" stroke-width="0.9"/>
<polyline points="615.71,148.7 639.23,125.75 683.44,125.75 700,141.74" fill="none" stroke="#0a60ba" stroke-width="1.4" stroke-linejoin="round" stroke-linecap="round"/>
<polyline points="662.18,179.37 674.98,179.37 683.44,186.9" fill="none" stroke="#0a60ba" stroke-width="1.4" stroke-linejoin="round" stroke-linecap="round"/>
<polyline points="662.18,194.42 669.33,194.42 683.44,209.47" fill="none" stroke="#0a60ba" stroke-width="1.4" stroke-linejoin="round" stroke-linecap="round"/>
<polyline points="662.18,209.85 670.27,209.85 683.44,224.52" fill="none" stroke="#0a60ba" stroke-width="1.4" stroke-linejoin="round" stroke-linecap="round"/>
<circle cx="581.1" cy="238.9" r="1.5" fill="#002868" stroke="#0a60ba" stroke-width="0.9"/>
<polyline points="577,226.9 608,226.9" fill="none" stroke="#0a60ba" stroke-width="1.4" stroke-linejoin="round" stroke-linecap="round"/>
<circle cx="577" cy="226.9" r="1.5" fill="#002868" stroke="#0a60ba" stroke-width="0.9"/>
<circle cx="608" cy="226.9" r="1.5" fill="#002868" stroke="#0a60ba" stroke-width="0.9"/>
<polyline points="615.9,209.8 615.9,264" fill="none" stroke="#0a60ba" stroke-width="1.84" stroke-linejoin="round" stroke-linecap="round"/>
<polyline points="563.2,264 646.8,264" fill="none" stroke="#0a60ba" stroke-width="2.07" stroke-linejoin="round" stroke-linecap="round"/>
<polyline points="184.3,218.5 225.4,217.6 270.6,263.2 290.3,263.2" fill="none" stroke="#0a60ba" stroke-width="2.07" stroke-linejoin="round" stroke-linecap="round"/>
<polyline points="175.8,211 184.3,218.5" fill="none" stroke="#0a60ba" stroke-width="2.07" stroke-linejoin="round" stroke-linecap="round"/>
<polyline points="200,229.2 216.9,229.2 266.8,279.6 595.2,279.8 610.3,294.1 615.8,294.8" fill="none" stroke="#0a60ba" stroke-width="1.4" stroke-linejoin="round" stroke-linecap="round"/>
<polyline points="215.3,264.2 220,267.2 236.3,267.2" fill="none" stroke="#0a60ba" stroke-width="1.4" stroke-linejoin="round" stroke-linecap="round"/>
<circle cx="236.3" cy="267.2" r="1.5" fill="#002868" stroke="#0a60ba" stroke-width="0.9"/>
<polyline points="215.4,279.4 230.1,279.4 237.6,287.1 315.7,287.1" fill="none" stroke="#0a60ba" stroke-width="1.4" stroke-linejoin="round" stroke-linecap="round"/>
<circle cx="315.7" cy="287.1" r="1.5" fill="#002868" stroke="#0a60ba" stroke-width="0.9"/>
<polyline points="200,287.1 228.2,287.1 236.1,295 338.9,295" fill="none" stroke="#0a60ba" stroke-width="1.4" stroke-linejoin="round" stroke-linecap="round"/>
<circle cx="338.9" cy="295" r="1.5" fill="#002868" stroke="#0a60ba" stroke-width="0.9"/>
<polyline points="215.4,310.2 292.6,310.2" fill="none" stroke="#0a60ba" stroke-width="1.4" stroke-linejoin="round" stroke-linecap="round"/>
<circle cx="292.6" cy="310.2" r="1.5" fill="#002868" stroke="#0a60ba" stroke-width="0.9"/>
<polyline points="122.2,317.8 323.2,318.2" fill="none" stroke="#3175a6" stroke-width="1.75" stroke-linejoin="round" stroke-linecap="round"/>
<circle cx="323.2" cy="318.2" r="1.5" fill="#002868" stroke="#0a60ba" stroke-width="0.9"/>
<polyline points="565.7,310.1 615.9,310.1" fill="none" stroke="#0a60ba" stroke-width="1.4" stroke-linejoin="round" stroke-linecap="round"/>
<circle cx="565.7" cy="310.1" r="1.5" fill="#002868" stroke="#0a60ba" stroke-width="0.9"/>
<polyline points="228.6,333.5 566.1,333.5 574,341 615.9,341" fill="none" stroke="#0a60ba" stroke-width="2.3" stroke-linejoin="round" stroke-linecap="round"/>
<circle cx="228.6" cy="333.5" r="1.5" fill="#002868" stroke="#0a60ba" stroke-width="0.9"/>
<polyline points="215.4,341 300.3,341" fill="none" stroke="#0a60ba" stroke-width="1.4" stroke-linejoin="round" stroke-linecap="round"/>
<circle cx="300.3" cy="341" r="1.5" fill="#002868" stroke="#0a60ba" stroke-width="0.9"/>
<polyline points="169.4,341 192.3,341 200.8,349.2 307.8,349.2" fill="none" stroke="#3175a6" stroke-width="1.75" stroke-linejoin="round" stroke-linecap="round"/>
<circle cx="307.8" cy="349.2" r="1.5" fill="#002868" stroke="#0a60ba" stroke-width="0.9"/>
<polyline points="192,318.2 195.2,322.6 197,325.8 215.5,325.8" fill="none" stroke="#0a60ba" stroke-width="1.4" stroke-linejoin="round" stroke-linecap="round"/>
<polyline points="215.4,371.9 277.1,371.9" fill="none" stroke="#0a60ba" stroke-width="1.4" stroke-linejoin="round" stroke-linecap="round"/>
<circle cx="277.1" cy="371.9" r="1.5" fill="#002868" stroke="#0a60ba" stroke-width="0.9"/>
<polyline points="169.4,371.9 190.5,371.9 198.9,379.6 331.1,379.6" fill="none" stroke="#3175a6" stroke-width="1.75" stroke-linejoin="round" stroke-linecap="round"/>
<circle cx="331.1" cy="379.6" r="1.5" fill="#002868" stroke="#0a60ba" stroke-width="0.9"/>
<polyline points="173.7,394 179.4,398.4 343.2,398" fill="none" stroke="#0a60ba" stroke-width="1.72" stroke-linejoin="round" stroke-linecap="round"/>
<polyline points="558.9,397.8 598,397.8 609.3,386.5 615.9,387.1" fill="none" stroke="#0a60ba" stroke-width="1.72" stroke-linejoin="round" stroke-linecap="round"/>
<polyline points="615.9,387.1 628.1,400 639.1,411.3 639.1,440" fill="none" stroke="#0a60ba" stroke-width="2.3" stroke-linejoin="round" stroke-linecap="round"/>
<polyline points="615.9,356.4 620.6,351.7 640,333" fill="none" stroke="#0a60ba" stroke-width="1.4" stroke-linejoin="round" stroke-linecap="round"/>
<polyline points="74,316 164.3,405.6 583.9,406.2 645.2,467.1 664.8,467.1 699.4,501.7 708,502.6" fill="none" stroke="#0a60ba" stroke-width="1.4" stroke-linejoin="round" stroke-linecap="round"/>
<polyline points="73,340 102.5,364.3 122.3,364.3 168.2,410.2 576.4,410.2 652.7,487.4 668.5,487.4 674.5,492.7 674.5,516.8 696.4,539.4 717.5,539.4 731,526.6 738.6,525.7" fill="none" stroke="#0a60ba" stroke-width="1.4" stroke-linejoin="round" stroke-linecap="round"/>
<polyline points="73,410.2 168.2,410.2" fill="none" stroke="#0a60ba" stroke-width="1.49" stroke-linejoin="round" stroke-linecap="round"/>
<polyline points="384.8,424.8 579.2,425 648.2,494.2 663,495" fill="none" stroke="#3175a6" stroke-width="1.75" stroke-linejoin="round" stroke-linecap="round"/>
<circle cx="384.8" cy="424.8" r="1.5" fill="#002868" stroke="#0a60ba" stroke-width="0.9"/>
<polyline points="254,433.5 523.7,433.5 578.3,488.1 624.8,488.2 658.7,522.1 663,525.9" fill="none" stroke="#3175a6" stroke-width="1.75" stroke-linejoin="round" stroke-linecap="round"/>
<circle cx="254" cy="433.5" r="1.5" fill="#002868" stroke="#0a60ba" stroke-width="0.9"/>
<polyline points="205.1,433.5 223.5,433.5 232.4,441.8 517.1,441.8 570.2,495 615,495" fill="none" stroke="#3175a6" stroke-width="1.75" stroke-linejoin="round" stroke-linecap="round"/>
<circle cx="205.1" cy="433.5" r="1.5" fill="#002868" stroke="#0a60ba" stroke-width="0.9"/>
<polyline points="169.2,440.8 184.1,440.8 192.5,449.2 454.1,449.2" fill="none" stroke="#0a60ba" stroke-width="1.4" stroke-linejoin="round" stroke-linecap="round"/>
<circle cx="454.1" cy="449.2" r="1.5" fill="#002868" stroke="#0a60ba" stroke-width="0.9"/>
<polyline points="169.2,471.6 187.8,471.6 196.3,480 538.8,480" fill="none" stroke="#0a60ba" stroke-width="1.4" stroke-linejoin="round" stroke-linecap="round"/>
<circle cx="538.8" cy="480" r="1.5" fill="#002868" stroke="#0a60ba" stroke-width="0.9"/>
<polyline points="581.1,480 614.8,479.7" fill="none" stroke="#0a60ba" stroke-width="1.4" stroke-linejoin="round" stroke-linecap="round"/>
<circle cx="581.1" cy="480" r="1.5" fill="#002868" stroke="#0a60ba" stroke-width="0.9"/>
<polyline points="74,469 99.4,494.2 250.8,494.2 258.6,503 621,502.6 649.6,532 670.3,532 688.9,549.4 738.6,549.2" fill="none" stroke="#0a60ba" stroke-width="1.4" stroke-linejoin="round" stroke-linecap="round"/>
<polyline points="169.4,502.6 192.3,502.6 199.9,510.5 554.2,510.4" fill="none" stroke="#0a60ba" stroke-width="1.4" stroke-linejoin="round" stroke-linecap="round"/>
<circle cx="554.2" cy="510.4" r="1.5" fill="#002868" stroke="#0a60ba" stroke-width="0.9"/>
<polyline points="60.2,508.2 63,511 120.4,511 135.5,525.6 568.9,525.7 607.5,564.3 631.9,564.3 646.5,549.2 670.3,549.2 685.8,563 701.3,563 708,571.7" fill="none" stroke="#0a60ba" stroke-width="1.4" stroke-linejoin="round" stroke-linecap="round"/>
<polyline points="169.4,533.6 187.6,533.6 196.1,541.4 462,541.3" fill="none" stroke="#0a60ba" stroke-width="1.4" stroke-linejoin="round" stroke-linecap="round"/>
<circle cx="462" cy="541.3" r="1.5" fill="#002868" stroke="#0a60ba" stroke-width="0.9"/>
<polyline points="215.5,564.1 226.2,564.1 242.2,549 492.7,549" fill="none" stroke="#0a60ba" stroke-width="1.4" stroke-linejoin="round" stroke-linecap="round"/>
<circle cx="492.7" cy="549" r="1.5" fill="#002868" stroke="#0a60ba" stroke-width="0.9"/>
<polyline points="200.8,607 251.6,556.4 573.6,556.4" fill="none" stroke="#0a60ba" stroke-width="1.4" stroke-linejoin="round" stroke-linecap="round"/>
<circle cx="573.6" cy="556.4" r="1.5" fill="#002868" stroke="#0a60ba" stroke-width="0.9"/>
<polyline points="430.9,562.8 590.3,562.6 609.5,581 638.2,581 660,560 663,556.2" fill="none" stroke="#3175a6" stroke-width="1.75" stroke-linejoin="round" stroke-linecap="round"/>
<circle cx="430.9" cy="562.8" r="1.5" fill="#002868" stroke="#0a60ba" stroke-width="0.9"/>
<polyline points="614.9,556.2 632,555.8 648.6,541.3 663,541.3" fill="none" stroke="#0a60ba" stroke-width="1.4" stroke-linejoin="round" stroke-linecap="round"/>
<polyline points="107.8,417.5 146.4,418 204.8,416.2 211,420 215.4,425.8" fill="none" stroke="#0a60ba" stroke-width="2.3" stroke-linejoin="round" stroke-linecap="round"/>
<polyline points="169.2,425.7 178.4,425.7 193.5,440.8 215.4,440.8" fill="none" stroke="#0a60ba" stroke-width="2.3" stroke-linejoin="round" stroke-linecap="round"/>
<polyline points="99.9,564.2 105.4,557 111,553.3 159.9,553.3 169.4,564.1 168.8,585.4 176.9,595.2" fill="none" stroke="#0a60ba" stroke-width="2.3" stroke-linejoin="round" stroke-linecap="round"/>
<polyline points="38.3,194.5 108,125.5 169.2,125.5" fill="none" stroke="#0a60ba" stroke-width="1.4" stroke-linejoin="round" stroke-linecap="round"/>
<polyline points="38.3,179.3 30,188.2 30,198.4 34.3,202.2 68.5,202.2 99,171.7 137.2,171.7 153.2,156.2 169.2,156.3" fill="none" stroke="#0a60ba" stroke-width="1.4" stroke-linejoin="round" stroke-linecap="round"/>
<polyline points="38.3,148.3 24.1,162.8 24.1,208.5 31.7,217.6 53.3,217.8" fill="none" stroke="#0a60ba" stroke-width="1.4" stroke-linejoin="round" stroke-linecap="round"/>
<circle cx="53.3" cy="217.8" r="1.5" fill="#002868" stroke="#0a60ba" stroke-width="0.9"/>
<polyline points="130.8,133.2 145,135.6 156,135.7" fill="none" stroke="#0a60ba" stroke-width="1.4" stroke-linejoin="round" stroke-linecap="round"/>
<circle cx="156" cy="135.7" r="1.5" fill="#002868" stroke="#0a60ba" stroke-width="0.9"/>
<polyline points="130.8,163.8 136.3,161 162.9,133.2" fill="none" stroke="#0a60ba" stroke-width="1.4" stroke-linejoin="round" stroke-linecap="round"/>
<polyline points="130.8,194.6 140,193.5 149.5,184.7 149.5,175.3 160.8,164 190.9,164 198.4,156.4" fill="none" stroke="#0a60ba" stroke-width="1.4" stroke-linejoin="round" stroke-linecap="round"/>
<polyline points="169.2,171.6 190.9,171.6 198.4,164 246.6,163.9" fill="none" stroke="#0a60ba" stroke-width="1.4" stroke-linejoin="round" stroke-linecap="round"/>
<polyline points="169.2,141 215.3,141" fill="none" stroke="#0a60ba" stroke-width="1.4" stroke-linejoin="round" stroke-linecap="round"/>
<polyline points="130.8,209.8 153.2,209.5 170,226 200,229.2" fill="none" stroke="#0a60ba" stroke-width="1.4" stroke-linejoin="round" stroke-linecap="round"/>
<polyline points="38.3,240.8 63.3,241 101.3,279 149.1,279 157.7,287.1 200,287.1" fill="none" stroke="#0a60ba" stroke-width="1.4" stroke-linejoin="round" stroke-linecap="round"/>
<polyline points="169.4,279.4 190.5,279.4 200,291 203,294.6 215.5,294.6" fill="none" stroke="#0a60ba" stroke-width="1.4" stroke-linejoin="round" stroke-linecap="round"/>
<polyline points="169.4,248.9 183.9,248.9 198.9,264 215.5,264" fill="none" stroke="#0a60ba" stroke-width="1.4" stroke-linejoin="round" stroke-linecap="round"/>
<polyline points="169.4,310.2 215.5,310.2" fill="none" stroke="#0a60ba" stroke-width="1.4" stroke-linejoin="round" stroke-linecap="round"/>
<polyline points="38.3,256 62,255.8 122.2,317.8" fill="none" stroke="#0a60ba" stroke-width="1.4" stroke-linejoin="round" stroke-linecap="round"/>
<polyline points="38.3,271.6 59.6,271.7 138.1,349 189.6,349 197,356.4 215.3,356.5" fill="none" stroke="#0a60ba" stroke-width="1.4" stroke-linejoin="round" stroke-linecap="round"/>
<polyline points="38.3,286.9 55,286.9 156.2,387.8 169.2,387.3" fill="none" stroke="#0a60ba" stroke-width="2.3" stroke-linejoin="round" stroke-linecap="round"/>
<polyline points="45.2,372.8 34.8,383.1 34.8,392" fill="none" stroke="#0a60ba" stroke-width="1.68" stroke-linejoin="round" stroke-linecap="round"/>
<polyline points="40.5,547.6 54.6,561.7 54.6,591" fill="none" stroke="#0a60ba" stroke-width="2.3" stroke-linejoin="round" stroke-linecap="round"/>
<polyline points="68.1,571.1 77.1,571.1 83.7,564.6 99.9,564.2" fill="none" stroke="#0a60ba" stroke-width="2.3" stroke-linejoin="round" stroke-linecap="round"/>
<polyline points="54,610.1 69.6,610.1 94.1,585.3 99.9,580.5" fill="none" stroke="#0a60ba" stroke-width="1.68" stroke-linejoin="round" stroke-linecap="round"/>
<polyline points="99.9,595.2 111,595.2 138.3,621 187,621 200.8,607" fill="none" stroke="#0a60ba" stroke-width="1.4" stroke-linejoin="round" stroke-linecap="round"/>
<polyline points="146.4,610.6 176.9,610.1" fill="none" stroke="#0a60ba" stroke-width="1.4" stroke-linejoin="round" stroke-linecap="round"/>
<polyline points="647,79.4 655.3,69.5 695.5,69.5 718.1,91.4 718.1,171.8" fill="none" stroke="#0a60ba" stroke-width="2.18" stroke-linejoin="round" stroke-linecap="round"/>
<polyline points="684.2,125.8 703,145.4 703,175.6 710.6,183.1 740.7,183.1 749.5,194.4 749.5,337 744,343 738.6,348.6" fill="none" stroke="#0a60ba" stroke-width="1.4" stroke-linejoin="round" stroke-linecap="round"/>
<polyline points="662.1,264 662.1,294.8" fill="none" stroke="#0a60ba" stroke-width="1.84" stroke-linejoin="round" stroke-linecap="round"/>
<polyline points="615.8,356.4 620.1,351.8 653,318.9 665.3,318.9 675.6,309.5 676.6,246.5 684.2,241" fill="none" stroke="#0a60ba" stroke-width="1.4" stroke-linejoin="round" stroke-linecap="round"/>
<polyline points="732.4,225.1 724.9,225.1 717.3,233.9 717.3,320.6 672.8,364 672.8,377.2 668,382 662.1,387.1" fill="none" stroke="#0a60ba" stroke-width="1.4" stroke-linejoin="round" stroke-linecap="round"/>
<polyline points="738.6,352 689.2,404 683.7,410.3" fill="none" stroke="#0a60ba" stroke-width="1.4" stroke-linejoin="round" stroke-linecap="round"/>
<polyline points="744.5,356.3 699.2,401.5 699.2,417.8 693,425.4 683.7,425.4" fill="none" stroke="#0a60ba" stroke-width="1.4" stroke-linejoin="round" stroke-linecap="round"/>
<polyline points="639.2,442.3 651.2,454.3 662.5,454.3 678.3,469.4 683.6,471.6" fill="none" stroke="#0a60ba" stroke-width="2.3" stroke-linejoin="round" stroke-linecap="round"/>
<polyline points="663,479.5 670,479.5 686.6,496 686.6,511.5 698.6,524.3 708.1,525.5" fill="none" stroke="#0a60ba" stroke-width="2.3" stroke-linejoin="round" stroke-linecap="round"/>
<polyline points="708,502.4 738.6,502.4" fill="none" stroke="#0a60ba" stroke-width="1.26" stroke-linejoin="round" stroke-linecap="round"/>
<polyline points="708,525.6 738.6,525.6" fill="none" stroke="#0a60ba" stroke-width="1.26" stroke-linejoin="round" stroke-linecap="round"/>
<polyline points="708,571.8 738.6,571.8" fill="none" stroke="#0a60ba" stroke-width="1.26" stroke-linejoin="round" stroke-linecap="round"/>
<polyline points="777.6,85.9 783.6,79.1 918.6,79.2 926.2,70.7 931.3,71.7" fill="none" stroke="#0a60ba" stroke-width="1.4" stroke-linejoin="round" stroke-linecap="round"/>
<polyline points="846.8,87.1 862.2,87.1" fill="none" stroke="#0a60ba" stroke-width="1.4" stroke-linejoin="round" stroke-linecap="round"/>
<polyline points="846.8,102.3 862.2,102.3" fill="none" stroke="#0a60ba" stroke-width="1.4" stroke-linejoin="round" stroke-linecap="round"/>
<polyline points="846.6,117.6 894.3,117.6 907.1,106.2 909.8,102.3" fill="none" stroke="#0a60ba" stroke-width="1.4" stroke-linejoin="round" stroke-linecap="round"/>
<polyline points="800.5,117.7 807.6,117.7 850,160.1 861.5,171.6" fill="none" stroke="#0a60ba" stroke-width="1.4" stroke-linejoin="round" stroke-linecap="round"/>
<polyline points="854.4,125.5 842.3,125.5 837.1,130.3 837.1,137.8 847.1,148.4" fill="none" stroke="#0a60ba" stroke-width="1.4" stroke-linejoin="round" stroke-linecap="round"/>
<polyline points="846.6,133 860.5,146.6 882.4,146.6 890.7,154.8 890.7,175.2 899.7,184.2 922.3,184.2 975.3,236.4 978.8,240.9" fill="none" stroke="#0a60ba" stroke-width="1.4" stroke-linejoin="round" stroke-linecap="round"/>
<polyline points="900.5,133 934.3,166.9 962.2,166.9" fill="none" stroke="#0a60ba" stroke-width="1.4" stroke-linejoin="round" stroke-linecap="round"/>
<polyline points="914.5,171.7 938.9,171.7 952.4,184.2" fill="none" stroke="#0a60ba" stroke-width="1.4" stroke-linejoin="round" stroke-linecap="round"/>
<polyline points="875.9,171.7 902,197 923.8,197 934.3,207.6 931.3,209.8" fill="none" stroke="#0a60ba" stroke-width="2.3" stroke-linejoin="round" stroke-linecap="round"/>
<polyline points="802.6,168.6 777.6,194 777.6,201.5" fill="none" stroke="#0a60ba" stroke-width="1.4" stroke-linejoin="round" stroke-linecap="round"/>
<polyline points="850,190.2 866.6,206.8 869.3,210.2" fill="none" stroke="#0a60ba" stroke-width="1.4" stroke-linejoin="round" stroke-linecap="round"/>
<polyline points="916.8,240.9 931.7,240.9 962.5,271.7 1030.7,271.4" fill="none" stroke="#0a60ba" stroke-width="2.3" stroke-linejoin="round" stroke-linecap="round"/>
<polyline points="800.2,225.2 783.6,225.2 766.3,242.5 766.3,250.8 777.6,262.8" fill="none" stroke="#0a60ba" stroke-width="1.4" stroke-linejoin="round" stroke-linecap="round"/>
<polyline points="800.5,210 784,210" fill="none" stroke="#0a60ba" stroke-width="1.4" stroke-linejoin="round" stroke-linecap="round"/>
<polyline points="789.9,236 792.7,232.7 810.7,232.7 841.6,201.1 846.6,194.6" fill="none" stroke="#0a60ba" stroke-width="1.4" stroke-linejoin="round" stroke-linecap="round"/>
<circle cx="789.9" cy="236" r="1.5" fill="#002868" stroke="#0a60ba" stroke-width="0.9"/>
<polyline points="777.6,249.3 803.2,249.3 825.8,271.9 839.2,275.4" fill="none" stroke="#0a60ba" stroke-width="1.72" stroke-linejoin="round" stroke-linecap="round"/>
<polyline points="800.2,256.1 806.2,262.3 845.4,301.4 869.5,301.9" fill="none" stroke="#0a60ba" stroke-width="1.4" stroke-linejoin="round" stroke-linecap="round"/>
<polyline points="846.8,210 869.3,210.2" fill="none" stroke="#0a60ba" stroke-width="1.4" stroke-linejoin="round" stroke-linecap="round"/>
<polyline points="846.8,225.4 869.3,225.3" fill="none" stroke="#0a60ba" stroke-width="1.4" stroke-linejoin="round" stroke-linecap="round"/>
<polyline points="846.8,240.8 869.2,240.9" fill="none" stroke="#0a60ba" stroke-width="1.4" stroke-linejoin="round" stroke-linecap="round"/>
<polyline points="907,210.2 931.7,210.3" fill="none" stroke="#0a60ba" stroke-width="1.4" stroke-linejoin="round" stroke-linecap="round"/>
<polyline points="907,225.3 931.7,225.4" fill="none" stroke="#0a60ba" stroke-width="1.4" stroke-linejoin="round" stroke-linecap="round"/>
<polyline points="895.1,256.3 916.8,256.3" fill="none" stroke="#0a60ba" stroke-width="1.4" stroke-linejoin="round" stroke-linecap="round"/>
<circle cx="895.1" cy="256.3" r="1.5" fill="#002868" stroke="#0a60ba" stroke-width="0.9"/>
<polyline points="846.9,275.5 855.9,280.3 878.5,280.3 893.6,295.4" fill="none" stroke="#0a60ba" stroke-width="1.4" stroke-linejoin="round" stroke-linecap="round"/>
<polyline points="906.7,296.9 903.3,287.9 915,287.9 931.7,295.1" fill="none" stroke="#0a60ba" stroke-width="1.4" stroke-linejoin="round" stroke-linecap="round"/>
<polyline points="846.8,341.2 861.6,341.3" fill="none" stroke="#0a60ba" stroke-width="1.4" stroke-linejoin="round" stroke-linecap="round"/>
<polyline points="892.8,325.8 892.8,332.3 874,351.9 869.8,356.4" fill="none" stroke="#0a60ba" stroke-width="1.4" stroke-linejoin="round" stroke-linecap="round"/>
<polyline points="769.6,348.7 803.2,348.7" fill="none" stroke="#0a60ba" stroke-width="1.4" stroke-linejoin="round" stroke-linecap="round"/>
<polyline points="800.2,341.5 805.5,346 822.8,364.1 899.6,364.1" fill="none" stroke="#0a60ba" stroke-width="1.4" stroke-linejoin="round" stroke-linecap="round"/>
<polyline points="805.5,349 833.3,377.7 851.4,377.7 860.4,369.5 903,371.6 977.5,371.8 992.9,356.4" fill="none" stroke="#0a60ba" stroke-width="1.4" stroke-linejoin="round" stroke-linecap="round"/>
<polyline points="869.8,403 861.9,410 838.6,410 834.8,406.3 834.8,394.2 843.1,386.7 846.6,387.1" fill="none" stroke="#0a60ba" stroke-width="1.4" stroke-linejoin="round" stroke-linecap="round"/>
<polyline points="846.6,402.2 851.4,398.7 869.5,379.5 899.6,379.5" fill="none" stroke="#0a60ba" stroke-width="1.4" stroke-linejoin="round" stroke-linecap="round"/>
<polyline points="824.6,426.3 834.8,416.2 948.7,416 973.8,391.3 978.3,387.3" fill="none" stroke="#0a60ba" stroke-width="1.4" stroke-linejoin="round" stroke-linecap="round"/>
<polyline points="777.5,426.2 783,432.5 820,432.5 827.4,439.8 864.1,439.8" fill="none" stroke="#0a60ba" stroke-width="2.3" stroke-linejoin="round" stroke-linecap="round"/>
<polyline points="864.1,425.6 864.1,441.3" fill="none" stroke="#0a60ba" stroke-width="2.3" stroke-linejoin="round" stroke-linecap="round"/>
<polyline points="773.8,465.2 767.2,472.7 767.2,485.9 791.7,512.2 866,512.2 898.9,486.8 910.2,486.8" fill="none" stroke="#0a60ba" stroke-width="1.4" stroke-linejoin="round" stroke-linecap="round"/>
<polyline points="800.2,471.7 815.2,471.7 840.6,495.3 881.1,495.3 895.2,480.2 972.3,480.1 975.3,484.6" fill="none" stroke="#0a60ba" stroke-width="1.4" stroke-linejoin="round" stroke-linecap="round"/>
<polyline points="863.7,456.7 869.8,450.1 924.3,449.2 930,455.7" fill="none" stroke="#0a60ba" stroke-width="1.4" stroke-linejoin="round" stroke-linecap="round"/>
<polyline points="846.8,471.7 863.1,472.7" fill="none" stroke="#0a60ba" stroke-width="1.4" stroke-linejoin="round" stroke-linecap="round"/>
<polyline points="846.8,487.1 863.1,487.3" fill="none" stroke="#0a60ba" stroke-width="1.4" stroke-linejoin="round" stroke-linecap="round"/>
<polyline points="910.5,487.3 930.9,487.3" fill="none" stroke="#0a60ba" stroke-width="1.4" stroke-linejoin="round" stroke-linecap="round"/>
<polyline points="912.4,425.6 931.4,425.6" fill="none" stroke="#0a60ba" stroke-width="1.4" stroke-linejoin="round" stroke-linecap="round"/>
<polyline points="800.5,456.3 777.6,456.3" fill="none" stroke="#0a60ba" stroke-width="1.4" stroke-linejoin="round" stroke-linecap="round"/>
<polyline points="800.5,487.1 777.6,487.8" fill="none" stroke="#0a60ba" stroke-width="1.4" stroke-linejoin="round" stroke-linecap="round"/>
<polyline points="893.7,525.7 908.3,525.7 930,547.4 939.9,556.9" fill="none" stroke="#0a60ba" stroke-width="2.3" stroke-linejoin="round" stroke-linecap="round"/>
<polyline points="777.6,508.4 793.6,517.8 820.9,517.8 840.6,532.9 894.2,532.9 915,547.4" fill="none" stroke="#0a60ba" stroke-width="1.4" stroke-linejoin="round" stroke-linecap="round"/>
<polyline points="769.7,571.7 769.7,612.2 785.1,627.6 804.9,627.6 815.6,617.8" fill="none" stroke="#0a60ba" stroke-width="2.3" stroke-linejoin="round" stroke-linecap="round"/>
<polyline points="815.6,618.2 866.9,618.6 959.5,618.4 973.8,604 977.8,600.2" fill="none" stroke="#0a60ba" stroke-width="2.3" stroke-linejoin="round" stroke-linecap="round"/>
<polyline points="800.5,564.2 794,560 794,567 798,571 812.4,571.7 847.2,606.5 866.9,606.5" fill="none" stroke="#0a60ba" stroke-width="1.4" stroke-linejoin="round" stroke-linecap="round"/>
<polyline points="798,561 804.9,557.6 886.7,557.6 903.6,563.2 1015.2,563 1019.7,567.9" fill="none" stroke="#0a60ba" stroke-width="1.4" stroke-linejoin="round" stroke-linecap="round"/>
<polyline points="846.6,579.8 893.3,579.8 898,574.6" fill="none" stroke="#0a60ba" stroke-width="1.4" stroke-linejoin="round" stroke-linecap="round"/>
<polyline points="846.6,595.2 963.2,595 967.8,590.5" fill="none" stroke="#0a60ba" stroke-width="1.4" stroke-linejoin="round" stroke-linecap="round"/>
<polyline points="900.4,571.8 939.8,571.9" fill="none" stroke="#0a60ba" stroke-width="1.4" stroke-linejoin="round" stroke-linecap="round"/>
<polyline points="900.4,587.4 923.3,587.4" fill="none" stroke="#0a60ba" stroke-width="1.4" stroke-linejoin="round" stroke-linecap="round"/>
<polyline points="846.8,548.8 862.2,548.8" fill="none" stroke="#0a60ba" stroke-width="1.4" stroke-linejoin="round" stroke-linecap="round"/>
<polyline points="939.8,556.7 952.7,543.5 977.8,543.8" fill="none" stroke="#0a60ba" stroke-width="2.3" stroke-linejoin="round" stroke-linecap="round"/>
<polyline points="992.9,544.1 1015,543.6" fill="none" stroke="#0a60ba" stroke-width="1.4" stroke-linejoin="round" stroke-linecap="round"/>
<polyline points="992.9,600.2 1015,600.5" fill="none" stroke="#0a60ba" stroke-width="1.4" stroke-linejoin="round" stroke-linecap="round"/>
<polyline points="966.3,140.6 994.9,140.6 1019.7,115 1023.5,110" fill="none" stroke="#0a60ba" stroke-width="1.26" stroke-linejoin="round" stroke-linecap="round"/>
<polyline points="1008.9,140.7 1023.5,140.7" fill="none" stroke="#0a60ba" stroke-width="1.26" stroke-linejoin="round" stroke-linecap="round"/>
<polyline points="1009.6,167.2 1015,171.5 1023.9,181" fill="none" stroke="#0a60ba" stroke-width="2.3" stroke-linejoin="round" stroke-linecap="round"/>
<polyline points="1023.9,193.2 1014.5,203.3 1000.6,203.3" fill="none" stroke="#0a60ba" stroke-width="2.3" stroke-linejoin="round" stroke-linecap="round"/>
<polyline points="978.8,210.4 994.4,210.4" fill="none" stroke="#0a60ba" stroke-width="1.4" stroke-linejoin="round" stroke-linecap="round"/>
<polyline points="1000.6,250.7 1020.5,250.7 1030.7,256.2" fill="none" stroke="#0a60ba" stroke-width="2.3" stroke-linejoin="round" stroke-linecap="round"/>
<polyline points="992.9,274.8 992.9,318.6" fill="none" stroke="#0a60ba" stroke-width="1.26" stroke-linejoin="round" stroke-linecap="round"/>
<polyline points="915.8,271.7 923.3,280 982.8,280 992.9,291.3" fill="none" stroke="#0a60ba" stroke-width="1.4" stroke-linejoin="round" stroke-linecap="round"/>
<polyline points="909,340.9 925.6,340.9 930.9,348.5" fill="none" stroke="#0a60ba" stroke-width="1.4" stroke-linejoin="round" stroke-linecap="round"/>
<polyline points="900.4,363.7 908,356 955.7,356 975.3,336.4 978.8,332.6" fill="none" stroke="#0a60ba" stroke-width="1.4" stroke-linejoin="round" stroke-linecap="round"/>
<polyline points="978.3,387.3 992.9,387.2" fill="none" stroke="#0a60ba" stroke-width="1.4" stroke-linejoin="round" stroke-linecap="round"/>
<polyline points="1008.4,449.3 1017.4,449.3 1025,455.3 1031.3,456.4" fill="none" stroke="#0a60ba" stroke-width="1.4" stroke-linejoin="round" stroke-linecap="round"/>
</g>
<g id="silk">
<rect x="245.7" y="57.8" width="355.3" height="43.2" fill="none" stroke="#ffffff" stroke-width="1.68"/>
<rect x="249.9" y="60.7" width="347" height="37.2" fill="none" stroke="#ffffff" stroke-width="1.44"/>
<path d="M245.7 67 H253.4 V91.4 H245.7" fill="none" stroke="#ffffff" stroke-width="1.44" stroke-linejoin="miter"/>
<line x1="251.2" y1="67" x2="251.2" y2="91.4" stroke="#ffffff" stroke-width="1.2"/>
<path d="M601 67 H593.4 V91.4 H601" fill="none" stroke="#ffffff" stroke-width="1.44" stroke-linejoin="miter"/>
<line x1="595.4" y1="67" x2="595.4" y2="91.4" stroke="#ffffff" stroke-width="1.2"/>
<path d="M583.39 53.2 h3.4 l-1.7 3 z" fill="#fff"/>
<rect x="245.7" y="581" width="355.3" height="43.6" fill="none" stroke="#ffffff" stroke-width="1.68"/>
<rect x="249.9" y="584.2" width="347" height="36.5" fill="none" stroke="#ffffff" stroke-width="1.44"/>
<path d="M245.7 590.7 H253.4 V615.1 H245.7" fill="none" stroke="#ffffff" stroke-width="1.44" stroke-linejoin="miter"/>
<line x1="251.2" y1="590.7" x2="251.2" y2="615.1" stroke="#ffffff" stroke-width="1.2"/>
<path d="M601 590.7 H593.4 V615.1 H601" fill="none" stroke="#ffffff" stroke-width="1.44" stroke-linejoin="miter"/>
<line x1="595.4" y1="590.7" x2="595.4" y2="615.1" stroke="#ffffff" stroke-width="1.2"/>
<path d="M583.39 576.4 h3.4 l-1.7 3 z" fill="#fff"/>
<path d="M45.3 293 V111.3 H73.8 A10.9 10.9 0 0 0 95.6 111.3 H124.3 V293 Z" fill="none" stroke="#ffffff" stroke-width="1.32" stroke-linejoin="round" stroke-opacity="0.8"/>
<path d="M144.6 58 H137.3 V85 H144.6 M147 58 H154.3 V85 H147" fill="none" stroke="#ffffff" stroke-width="1.44" stroke-linejoin="miter"/>
<line x1="173" y1="57" x2="212" y2="57" stroke="#ffffff" stroke-width="1.8"/>
<line x1="173" y1="210.2" x2="212" y2="210.2" stroke="#ffffff" stroke-width="1.8"/>
<line x1="173" y1="57" x2="173" y2="58.95" stroke="#ffffff" stroke-width="1.8"/>
<line x1="173" y1="69.05" x2="173" y2="74.34" stroke="#ffffff" stroke-width="1.8"/>
<line x1="173" y1="84.44" x2="173" y2="89.73" stroke="#ffffff" stroke-width="1.8"/>
<line x1="173" y1="99.83" x2="173" y2="105.12" stroke="#ffffff" stroke-width="1.8"/>
<line x1="173" y1="115.22" x2="173" y2="120.51" stroke="#ffffff" stroke-width="1.8"/>
<line x1="173" y1="130.61" x2="173" y2="135.9" stroke="#ffffff" stroke-width="1.8"/>
<line x1="173" y1="146" x2="173" y2="151.29" stroke="#ffffff" stroke-width="1.8"/>
<line x1="173" y1="161.39" x2="173" y2="166.68" stroke="#ffffff" stroke-width="1.8"/>
<line x1="173" y1="176.78" x2="173" y2="182.07" stroke="#ffffff" stroke-width="1.8"/>
<line x1="173" y1="192.17" x2="173" y2="197.46" stroke="#ffffff" stroke-width="1.8"/>
<line x1="173" y1="207.56" x2="173" y2="210.2" stroke="#ffffff" stroke-width="1.8"/>
<line x1="212" y1="57" x2="212" y2="58.95" stroke="#ffffff" stroke-width="1.8"/>
<line x1="212" y1="69.05" x2="212" y2="74.34" stroke="#ffffff" stroke-width="1.8"/>
<line x1="212" y1="84.44" x2="212" y2="89.73" stroke="#ffffff" stroke-width="1.8"/>
<line x1="212" y1="99.83" x2="212" y2="105.12" stroke="#ffffff" stroke-width="1.8"/>
<line x1="212" y1="115.22" x2="212" y2="120.51" stroke="#ffffff" stroke-width="1.8"/>
<line x1="212" y1="130.61" x2="212" y2="135.9" stroke="#ffffff" stroke-width="1.8"/>
<line x1="212" y1="146" x2="212" y2="151.29" stroke="#ffffff" stroke-width="1.8"/>
<line x1="212" y1="161.39" x2="212" y2="166.68" stroke="#ffffff" stroke-width="1.8"/>
<line x1="212" y1="176.78" x2="212" y2="182.07" stroke="#ffffff" stroke-width="1.8"/>
<line x1="212" y1="192.17" x2="212" y2="197.46" stroke="#ffffff" stroke-width="1.8"/>
<line x1="212" y1="207.56" x2="212" y2="210.2" stroke="#ffffff" stroke-width="1.8"/>
<line x1="173" y1="241.8" x2="212" y2="241.8" stroke="#ffffff" stroke-width="1.8"/>
<line x1="173" y1="395" x2="212" y2="395" stroke="#ffffff" stroke-width="1.8"/>
<line x1="173" y1="241.8" x2="173" y2="243.75" stroke="#ffffff" stroke-width="1.8"/>
<line x1="173" y1="253.85" x2="173" y2="259.14" stroke="#ffffff" stroke-width="1.8"/>
<line x1="173" y1="269.24" x2="173" y2="274.53" stroke="#ffffff" stroke-width="1.8"/>
<line x1="173" y1="284.63" x2="173" y2="289.92" stroke="#ffffff" stroke-width="1.8"/>
<line x1="173" y1="300.02" x2="173" y2="305.31" stroke="#ffffff" stroke-width="1.8"/>
<line x1="173" y1="315.41" x2="173" y2="320.7" stroke="#ffffff" stroke-width="1.8"/>
<line x1="173" y1="330.8" x2="173" y2="336.09" stroke="#ffffff" stroke-width="1.8"/>
<line x1="173" y1="346.19" x2="173" y2="351.48" stroke="#ffffff" stroke-width="1.8"/>
<line x1="173" y1="361.58" x2="173" y2="366.87" stroke="#ffffff" stroke-width="1.8"/>
<line x1="173" y1="376.97" x2="173" y2="382.26" stroke="#ffffff" stroke-width="1.8"/>
<line x1="173" y1="392.36" x2="173" y2="395" stroke="#ffffff" stroke-width="1.8"/>
<line x1="212" y1="241.8" x2="212" y2="243.75" stroke="#ffffff" stroke-width="1.8"/>
<line x1="212" y1="253.85" x2="212" y2="259.14" stroke="#ffffff" stroke-width="1.8"/>
<line x1="212" y1="269.24" x2="212" y2="274.53" stroke="#ffffff" stroke-width="1.8"/>
<line x1="212" y1="284.63" x2="212" y2="289.92" stroke="#ffffff" stroke-width="1.8"/>
<line x1="212" y1="300.02" x2="212" y2="305.31" stroke="#ffffff" stroke-width="1.8"/>
<line x1="212" y1="315.41" x2="212" y2="320.7" stroke="#ffffff" stroke-width="1.8"/>
<line x1="212" y1="330.8" x2="212" y2="336.09" stroke="#ffffff" stroke-width="1.8"/>
<line x1="212" y1="346.19" x2="212" y2="351.48" stroke="#ffffff" stroke-width="1.8"/>
<line x1="212" y1="361.58" x2="212" y2="366.87" stroke="#ffffff" stroke-width="1.8"/>
<line x1="212" y1="376.97" x2="212" y2="382.26" stroke="#ffffff" stroke-width="1.8"/>
<line x1="212" y1="392.36" x2="212" y2="395" stroke="#ffffff" stroke-width="1.8"/>
<line x1="173" y1="418.8" x2="212" y2="418.8" stroke="#ffffff" stroke-width="1.8"/>
<line x1="173" y1="572" x2="212" y2="572" stroke="#ffffff" stroke-width="1.8"/>
<line x1="173" y1="418.8" x2="173" y2="420.35" stroke="#ffffff" stroke-width="1.8"/>
<line x1="173" y1="430.45" x2="173" y2="435.74" stroke="#ffffff" stroke-width="1.8"/>
<line x1="173" y1="445.84" x2="173" y2="451.13" stroke="#ffffff" stroke-width="1.8"/>
<line x1="173" y1="461.23" x2="173" y2="466.52" stroke="#ffffff" stroke-width="1.8"/>
<line x1="173" y1="476.62" x2="173" y2="481.91" stroke="#ffffff" stroke-width="1.8"/>
<line x1="173" y1="492.01" x2="173" y2="497.3" stroke="#ffffff" stroke-width="1.8"/>
<line x1="173" y1="507.4" x2="173" y2="512.69" stroke="#ffffff" stroke-width="1.8"/>
<line x1="173" y1="522.79" x2="173" y2="528.08" stroke="#ffffff" stroke-width="1.8"/>
<line x1="173" y1="538.18" x2="173" y2="543.47" stroke="#ffffff" stroke-width="1.8"/>
<line x1="173" y1="553.57" x2="173" y2="558.86" stroke="#ffffff" stroke-width="1.8"/>
<line x1="173" y1="568.96" x2="173" y2="572" stroke="#ffffff" stroke-width="1.8"/>
<line x1="212" y1="418.8" x2="212" y2="420.35" stroke="#ffffff" stroke-width="1.8"/>
<line x1="212" y1="430.45" x2="212" y2="435.74" stroke="#ffffff" stroke-width="1.8"/>
<line x1="212" y1="445.84" x2="212" y2="451.13" stroke="#ffffff" stroke-width="1.8"/>
<line x1="212" y1="461.23" x2="212" y2="466.52" stroke="#ffffff" stroke-width="1.8"/>
<line x1="212" y1="476.62" x2="212" y2="481.91" stroke="#ffffff" stroke-width="1.8"/>
<line x1="212" y1="492.01" x2="212" y2="497.3" stroke="#ffffff" stroke-width="1.8"/>
<line x1="212" y1="507.4" x2="212" y2="512.69" stroke="#ffffff" stroke-width="1.8"/>
<line x1="212" y1="522.79" x2="212" y2="528.08" stroke="#ffffff" stroke-width="1.8"/>
<line x1="212" y1="538.18" x2="212" y2="543.47" stroke="#ffffff" stroke-width="1.8"/>
<line x1="212" y1="553.57" x2="212" y2="558.86" stroke="#ffffff" stroke-width="1.8"/>
<line x1="212" y1="568.96" x2="212" y2="572" stroke="#ffffff" stroke-width="1.8"/>
<rect x="8.3" y="307.3" width="67.9" height="54.6" fill="none" stroke="#ffffff" stroke-width="1.56"/>
<line x1="11.2" y1="307.3" x2="11.2" y2="361.9" stroke="#ffffff" stroke-width="1.44"/>
<line x1="8.3" y1="314.7" x2="76.2" y2="314.7" stroke="#ffffff" stroke-width="1.44"/>
<line x1="8.3" y1="354.1" x2="76.2" y2="354.1" stroke="#ffffff" stroke-width="1.44"/>
<rect x="8.3" y="376.55" width="67.9" height="54.6" fill="none" stroke="#ffffff" stroke-width="1.56"/>
<line x1="11.2" y1="376.55" x2="11.2" y2="431.15" stroke="#ffffff" stroke-width="1.44"/>
<line x1="8.3" y1="383.95" x2="76.2" y2="383.95" stroke="#ffffff" stroke-width="1.44"/>
<line x1="8.3" y1="423.35" x2="76.2" y2="423.35" stroke="#ffffff" stroke-width="1.44"/>
<rect x="8.3" y="445.8" width="67.9" height="54.6" fill="none" stroke="#ffffff" stroke-width="1.56"/>
<line x1="11.2" y1="445.8" x2="11.2" y2="500.4" stroke="#ffffff" stroke-width="1.44"/>
<line x1="8.3" y1="453.2" x2="76.2" y2="453.2" stroke="#ffffff" stroke-width="1.44"/>
<line x1="8.3" y1="492.6" x2="76.2" y2="492.6" stroke="#ffffff" stroke-width="1.44"/>
<rect x="8.3" y="515.05" width="67.9" height="54.6" fill="none" stroke="#ffffff" stroke-width="1.56"/>
<line x1="11.2" y1="515.05" x2="11.2" y2="569.65" stroke="#ffffff" stroke-width="1.44"/>
<line x1="8.3" y1="522.45" x2="76.2" y2="522.45" stroke="#ffffff" stroke-width="1.44"/>
<line x1="8.3" y1="561.85" x2="76.2" y2="561.85" stroke="#ffffff" stroke-width="1.44"/>
<rect x="101.3" y="420.7" width="13" height="40.8" fill="none" stroke="#ffffff" stroke-width="1.44"/>
<line x1="111.8" y1="420.7" x2="114.3" y2="423.2" stroke="#ffffff" stroke-width="1.2"/>
<rect x="101.3" y="482.6" width="13" height="40.8" fill="none" stroke="#ffffff" stroke-width="1.44"/>
<line x1="111.8" y1="482.6" x2="114.3" y2="485.1" stroke="#ffffff" stroke-width="1.2"/>
<path d="M144.8 397 H137.3 V423.5 H144.8 M147.2 397 H154.7 V423.5 H147.2" fill="none" stroke="#ffffff" stroke-width="1.44" stroke-linejoin="miter"/>
<path d="M53.2 590 H46.3 V616.3 H53.2 M55.6 590 H62.5 V616.3 H55.6" fill="none" stroke="#ffffff" stroke-width="1.44" stroke-linejoin="miter"/>
<path d="M107.3 556.1 H118.55 A4.7 4.7 0 0 0 127.95 556.1 H139.2" fill="none" stroke="#ffffff" stroke-width="1.8" stroke-linejoin="round"/>
<line x1="107.3" y1="618.6" x2="139.2" y2="618.6" stroke="#ffffff" stroke-width="1.8"/>
<line x1="107.3" y1="556.1" x2="107.3" y2="618.6" stroke="#ffffff" stroke-width="1.8"/>
<line x1="139.2" y1="556.1" x2="139.2" y2="618.6" stroke="#ffffff" stroke-width="1.8"/>
<path d="M175.65 590 H168.4 V616.3 H175.65 M178.05 590 H185.3 V616.3 H178.05" fill="none" stroke="#ffffff" stroke-width="1.44" stroke-linejoin="miter"/>
<rect x="640.8" y="71.3" width="26.9" height="16.9" fill="none" stroke="#ffffff" stroke-width="1.44"/>
<path d="M619.5 95.7 H633.3 A5.5 5.5 0 0 0 644.3 95.7 H658.1" fill="none" stroke="#ffffff" stroke-width="1.8" stroke-linejoin="round"/>
<line x1="619.5" y1="216.4" x2="658.1" y2="216.4" stroke="#ffffff" stroke-width="1.8"/>
<line x1="619.5" y1="95.7" x2="619.5" y2="97.25" stroke="#ffffff" stroke-width="1.8"/>
<line x1="619.5" y1="107.35" x2="619.5" y2="112.64" stroke="#ffffff" stroke-width="1.8"/>
<line x1="619.5" y1="122.74" x2="619.5" y2="128.03" stroke="#ffffff" stroke-width="1.8"/>
<line x1="619.5" y1="138.13" x2="619.5" y2="143.42" stroke="#ffffff" stroke-width="1.8"/>
<line x1="619.5" y1="153.52" x2="619.5" y2="158.81" stroke="#ffffff" stroke-width="1.8"/>
<line x1="619.5" y1="168.91" x2="619.5" y2="174.2" stroke="#ffffff" stroke-width="1.8"/>
<line x1="619.5" y1="184.3" x2="619.5" y2="189.59" stroke="#ffffff" stroke-width="1.8"/>
<line x1="619.5" y1="199.69" x2="619.5" y2="204.98" stroke="#ffffff" stroke-width="1.8"/>
<line x1="619.5" y1="215.08" x2="619.5" y2="216.4" stroke="#ffffff" stroke-width="1.8"/>
<line x1="658.1" y1="95.7" x2="658.1" y2="97.25" stroke="#ffffff" stroke-width="1.8"/>
<line x1="658.1" y1="107.35" x2="658.1" y2="112.64" stroke="#ffffff" stroke-width="1.8"/>
<line x1="658.1" y1="122.74" x2="658.1" y2="128.03" stroke="#ffffff" stroke-width="1.8"/>
<line x1="658.1" y1="138.13" x2="658.1" y2="143.42" stroke="#ffffff" stroke-width="1.8"/>
<line x1="658.1" y1="153.52" x2="658.1" y2="158.81" stroke="#ffffff" stroke-width="1.8"/>
<line x1="658.1" y1="168.91" x2="658.1" y2="174.2" stroke="#ffffff" stroke-width="1.8"/>
<line x1="658.1" y1="184.3" x2="658.1" y2="189.59" stroke="#ffffff" stroke-width="1.8"/>
<line x1="658.1" y1="199.69" x2="658.1" y2="204.98" stroke="#ffffff" stroke-width="1.8"/>
<line x1="658.1" y1="215.08" x2="658.1" y2="216.4" stroke="#ffffff" stroke-width="1.8"/>
<circle cx="625.4" cy="102.7" r="1.7" fill="none" stroke="#ffffff" stroke-width="1.44"/>
<rect x="711" y="163.5" width="26.7" height="16.8" fill="none" stroke="#ffffff" stroke-width="1.44"/>
<path d="M691.6 189.5 H703.75 A4.6 4.6 0 0 0 712.95 189.5 H725.1" fill="none" stroke="#ffffff" stroke-width="1.32" stroke-linejoin="round" stroke-opacity="0.8"/>
<line x1="691.6" y1="307.3" x2="725.1" y2="307.3" stroke="#ffffff" stroke-width="1.32" stroke-opacity="0.8"/>
<line x1="691.6" y1="189.5" x2="691.6" y2="307.3" stroke="#ffffff" stroke-width="1.32" stroke-opacity="0.8"/>
<line x1="725.1" y1="189.5" x2="725.1" y2="307.3" stroke="#ffffff" stroke-width="1.32" stroke-opacity="0.8"/>
<circle cx="683.7" cy="186.3" r="1.6" fill="#fff"/>
<rect x="640.8" y="256.5" width="26.9" height="16" fill="none" stroke="#ffffff" stroke-width="1.44"/>
<path d="M619.5 282.2 H633.3 A5.5 5.5 0 0 0 644.3 282.2 H658.1" fill="none" stroke="#ffffff" stroke-width="1.8" stroke-linejoin="round"/>
<line x1="619.5" y1="399.8" x2="658.1" y2="399.8" stroke="#ffffff" stroke-width="1.8"/>
<line x1="619.5" y1="282.2" x2="619.5" y2="290.7" stroke="#ffffff" stroke-width="1.8"/>
<line x1="619.5" y1="298.9" x2="619.5" y2="306.09" stroke="#ffffff" stroke-width="1.8"/>
<line x1="619.5" y1="314.29" x2="619.5" y2="321.48" stroke="#ffffff" stroke-width="1.8"/>
<line x1="619.5" y1="329.68" x2="619.5" y2="336.87" stroke="#ffffff" stroke-width="1.8"/>
<line x1="619.5" y1="345.07" x2="619.5" y2="352.26" stroke="#ffffff" stroke-width="1.8"/>
<line x1="619.5" y1="360.46" x2="619.5" y2="367.65" stroke="#ffffff" stroke-width="1.8"/>
<line x1="619.5" y1="375.85" x2="619.5" y2="383.04" stroke="#ffffff" stroke-width="1.8"/>
<line x1="619.5" y1="391.24" x2="619.5" y2="399.8" stroke="#ffffff" stroke-width="1.8"/>
<line x1="658.1" y1="282.2" x2="658.1" y2="290.7" stroke="#ffffff" stroke-width="1.8"/>
<line x1="658.1" y1="298.9" x2="658.1" y2="306.09" stroke="#ffffff" stroke-width="1.8"/>
<line x1="658.1" y1="314.29" x2="658.1" y2="321.48" stroke="#ffffff" stroke-width="1.8"/>
<line x1="658.1" y1="329.68" x2="658.1" y2="336.87" stroke="#ffffff" stroke-width="1.8"/>
<line x1="658.1" y1="345.07" x2="658.1" y2="352.26" stroke="#ffffff" stroke-width="1.8"/>
<line x1="658.1" y1="360.46" x2="658.1" y2="367.65" stroke="#ffffff" stroke-width="1.8"/>
<line x1="658.1" y1="375.85" x2="658.1" y2="383.04" stroke="#ffffff" stroke-width="1.8"/>
<line x1="658.1" y1="391.24" x2="658.1" y2="399.8" stroke="#ffffff" stroke-width="1.8"/>
<circle cx="614.2" cy="285.4" r="1.5" fill="none" stroke="#ffffff" stroke-width="1.32"/>
<rect x="730.8" y="317.9" width="15.6" height="15.6" fill="none" stroke="#ffffff" stroke-width="1.44"/>
<rect x="730.8" y="340.8" width="15.6" height="15.6" fill="none" stroke="#ffffff" stroke-width="1.44"/>
<rect x="761.9" y="340.8" width="15.6" height="15.6" fill="none" stroke="#ffffff" stroke-width="1.44"/>
<rect x="715.7" y="337.2" width="76.9" height="24.1" fill="none" stroke="#ffffff" stroke-width="1.56"/>
<path d="M688.2 366.5 H702.55 A5.5 5.5 0 0 0 713.55 366.5 H727.9" fill="none" stroke="#ffffff" stroke-width="1.8" stroke-linejoin="round"/>
<line x1="688.2" y1="485.4" x2="727.9" y2="485.4" stroke="#ffffff" stroke-width="1.8"/>
<line x1="688.2" y1="366.5" x2="688.2" y2="375.6" stroke="#ffffff" stroke-width="1.8"/>
<line x1="688.2" y1="383.8" x2="688.2" y2="390.99" stroke="#ffffff" stroke-width="1.8"/>
<line x1="688.2" y1="399.19" x2="688.2" y2="406.38" stroke="#ffffff" stroke-width="1.8"/>
<line x1="688.2" y1="414.58" x2="688.2" y2="421.77" stroke="#ffffff" stroke-width="1.8"/>
<line x1="688.2" y1="429.97" x2="688.2" y2="437.16" stroke="#ffffff" stroke-width="1.8"/>
<line x1="688.2" y1="445.36" x2="688.2" y2="452.55" stroke="#ffffff" stroke-width="1.8"/>
<line x1="688.2" y1="460.75" x2="688.2" y2="467.94" stroke="#ffffff" stroke-width="1.8"/>
<line x1="688.2" y1="476.14" x2="688.2" y2="485.4" stroke="#ffffff" stroke-width="1.8"/>
<line x1="727.9" y1="366.5" x2="727.9" y2="375.6" stroke="#ffffff" stroke-width="1.8"/>
<line x1="727.9" y1="383.8" x2="727.9" y2="390.99" stroke="#ffffff" stroke-width="1.8"/>
<line x1="727.9" y1="399.19" x2="727.9" y2="406.38" stroke="#ffffff" stroke-width="1.8"/>
<line x1="727.9" y1="414.58" x2="727.9" y2="421.77" stroke="#ffffff" stroke-width="1.8"/>
<line x1="727.9" y1="429.97" x2="727.9" y2="437.16" stroke="#ffffff" stroke-width="1.8"/>
<line x1="727.9" y1="445.36" x2="727.9" y2="452.55" stroke="#ffffff" stroke-width="1.8"/>
<line x1="727.9" y1="460.75" x2="727.9" y2="467.94" stroke="#ffffff" stroke-width="1.8"/>
<line x1="727.9" y1="476.14" x2="727.9" y2="485.4" stroke="#ffffff" stroke-width="1.8"/>
<circle cx="681.8" cy="370.3" r="1.8" fill="none" stroke="#ffffff" stroke-width="1.44"/>
<rect x="633.3" y="433.6" width="27.3" height="16.4" fill="none" stroke="#ffffff" stroke-width="1.44"/>
<path d="M618.8 466.5 H633.9 A5.5 5.5 0 0 0 644.9 466.5 H660" fill="none" stroke="#ffffff" stroke-width="1.8" stroke-linejoin="round"/>
<line x1="618.8" y1="585" x2="660" y2="585" stroke="#ffffff" stroke-width="1.8"/>
<line x1="618.8" y1="466.5" x2="618.8" y2="475.6" stroke="#ffffff" stroke-width="1.8"/>
<line x1="618.8" y1="483.8" x2="618.8" y2="490.99" stroke="#ffffff" stroke-width="1.8"/>
<line x1="618.8" y1="499.19" x2="618.8" y2="506.38" stroke="#ffffff" stroke-width="1.8"/>
<line x1="618.8" y1="514.58" x2="618.8" y2="521.77" stroke="#ffffff" stroke-width="1.8"/>
<line x1="618.8" y1="529.97" x2="618.8" y2="537.16" stroke="#ffffff" stroke-width="1.8"/>
<line x1="618.8" y1="545.36" x2="618.8" y2="552.55" stroke="#ffffff" stroke-width="1.8"/>
<line x1="618.8" y1="560.75" x2="618.8" y2="567.94" stroke="#ffffff" stroke-width="1.8"/>
<line x1="618.8" y1="576.14" x2="618.8" y2="585" stroke="#ffffff" stroke-width="1.8"/>
<line x1="660" y1="466.5" x2="660" y2="475.6" stroke="#ffffff" stroke-width="1.8"/>
<line x1="660" y1="483.8" x2="660" y2="490.99" stroke="#ffffff" stroke-width="1.8"/>
<line x1="660" y1="499.19" x2="660" y2="506.38" stroke="#ffffff" stroke-width="1.8"/>
<line x1="660" y1="514.58" x2="660" y2="521.77" stroke="#ffffff" stroke-width="1.8"/>
<line x1="660" y1="529.97" x2="660" y2="537.16" stroke="#ffffff" stroke-width="1.8"/>
<line x1="660" y1="545.36" x2="660" y2="552.55" stroke="#ffffff" stroke-width="1.8"/>
<line x1="660" y1="560.75" x2="660" y2="567.94" stroke="#ffffff" stroke-width="1.8"/>
<line x1="660" y1="576.14" x2="660" y2="585" stroke="#ffffff" stroke-width="1.8"/>
<rect x="700.2" y="494.8" width="15.6" height="15.6" fill="none" stroke="#ffffff" stroke-width="1.44"/>
<rect x="730.8" y="494.8" width="15.6" height="15.6" fill="none" stroke="#ffffff" stroke-width="1.44"/>
<rect x="761.9" y="494.8" width="15.6" height="15.6" fill="none" stroke="#ffffff" stroke-width="1.44"/>
<rect x="700.2" y="517.9" width="15.6" height="15.6" fill="none" stroke="#ffffff" stroke-width="1.44"/>
<rect x="730.8" y="517.9" width="15.6" height="15.6" fill="none" stroke="#ffffff" stroke-width="1.44"/>
<rect x="761.9" y="517.9" width="15.6" height="15.6" fill="none" stroke="#ffffff" stroke-width="1.44"/>
<rect x="730.8" y="541.1" width="15.6" height="15.6" fill="none" stroke="#ffffff" stroke-width="1.44"/>
<rect x="761.9" y="541.1" width="15.6" height="15.6" fill="none" stroke="#ffffff" stroke-width="1.44"/>
<rect x="700.2" y="564.1" width="15.6" height="15.6" fill="none" stroke="#ffffff" stroke-width="1.44"/>
<rect x="730.8" y="564.1" width="15.6" height="15.6" fill="none" stroke="#ffffff" stroke-width="1.44"/>
<rect x="761.9" y="564.1" width="15.6" height="15.6" fill="none" stroke="#ffffff" stroke-width="1.44"/>
<rect x="700.2" y="587.1" width="15.6" height="15.6" fill="none" stroke="#ffffff" stroke-width="1.44"/>
<line x1="754.6" y1="62.8" x2="754.6" y2="619.3" stroke="#ffffff" stroke-width="3.12"/>
<rect x="771.1" y="88.6" width="13" height="40.8" fill="none" stroke="#ffffff" stroke-width="1.44"/>
<line x1="781.6" y1="88.6" x2="784.1" y2="91.1" stroke="#ffffff" stroke-width="1.2"/>
<rect x="771.1" y="205" width="13" height="40.4" fill="none" stroke="#ffffff" stroke-width="1.44"/>
<line x1="771.1" y1="242.9" x2="773.6" y2="245.4" stroke="#ffffff" stroke-width="1.2"/>
<rect x="771.1" y="266.7" width="13" height="40.4" fill="none" stroke="#ffffff" stroke-width="1.44"/>
<line x1="771.1" y1="304.6" x2="773.6" y2="307.1" stroke="#ffffff" stroke-width="1.2"/>
<rect x="771.1" y="366.7" width="13" height="40.9" fill="none" stroke="#ffffff" stroke-width="1.44"/>
<line x1="771.1" y1="405.1" x2="773.6" y2="407.6" stroke="#ffffff" stroke-width="1.2"/>
<rect x="771.1" y="443.8" width="13" height="40.6" fill="none" stroke="#ffffff" stroke-width="1.44"/>
<line x1="781.6" y1="443.8" x2="784.1" y2="446.3" stroke="#ffffff" stroke-width="1.2"/>
<rect x="803.4" y="65.3" width="40.7" height="12.6" fill="none" stroke="#ffffff" stroke-width="1.44"/>
<line x1="803.4" y1="67.8" x2="805.9" y2="65.3" stroke="#ffffff" stroke-width="1.2"/>
<path d="M804.8 81 H817.95 A5.5 5.5 0 0 0 828.95 81 H842.1" fill="none" stroke="#ffffff" stroke-width="1.8" stroke-linejoin="round"/>
<line x1="804.8" y1="138.4" x2="842.1" y2="138.4" stroke="#ffffff" stroke-width="1.8"/>
<line x1="804.8" y1="81" x2="804.8" y2="81.85" stroke="#ffffff" stroke-width="1.8"/>
<line x1="804.8" y1="92.35" x2="804.8" y2="97.24" stroke="#ffffff" stroke-width="1.8"/>
<line x1="804.8" y1="107.74" x2="804.8" y2="112.63" stroke="#ffffff" stroke-width="1.8"/>
<line x1="804.8" y1="123.13" x2="804.8" y2="128.02" stroke="#ffffff" stroke-width="1.8"/>
<line x1="842.1" y1="81" x2="842.1" y2="81.85" stroke="#ffffff" stroke-width="1.8"/>
<line x1="842.1" y1="92.35" x2="842.1" y2="97.24" stroke="#ffffff" stroke-width="1.8"/>
<line x1="842.1" y1="107.74" x2="842.1" y2="112.63" stroke="#ffffff" stroke-width="1.8"/>
<line x1="842.1" y1="123.13" x2="842.1" y2="128.02" stroke="#ffffff" stroke-width="1.8"/>
<rect x="865.5" y="80.8" width="41.3" height="12.6" fill="none" stroke="#ffffff" stroke-width="1.44"/>
<line x1="865.5" y1="83.3" x2="868" y2="80.8" stroke="#ffffff" stroke-width="1.2"/>
<rect x="865.5" y="96" width="41.3" height="12.6" fill="none" stroke="#ffffff" stroke-width="1.44"/>
<line x1="865.5" y1="98.5" x2="868" y2="96" stroke="#ffffff" stroke-width="1.2"/>
<rect x="917.3" y="58" width="26.7" height="57.6" fill="none" stroke="#ffffff" stroke-width="1.56"/>
<rect x="944.6" y="57.6" width="2.4" height="5.4" fill="#ffffff"/>
<rect x="944.6" y="110.6" width="2.4" height="5.4" fill="#ffffff"/>
<circle cx="921.8" cy="104.7" r="3.1" fill="none" stroke="#ffffff" stroke-width="1.08"/>
<line x1="918.4" y1="104.7" x2="925.2" y2="104.7" stroke="#ffffff" stroke-width="1.08"/>
<rect x="856.2" y="125.3" width="27.6" height="16.9" fill="none" stroke="#ffffff" stroke-width="1.44"/>
<rect x="894.7" y="125.3" width="27.3" height="16.9" fill="none" stroke="#ffffff" stroke-width="1.44"/>
<rect x="803.4" y="142.1" width="40.7" height="12.6" fill="none" stroke="#ffffff" stroke-width="1.44"/>
<line x1="803.4" y1="144.6" x2="805.9" y2="142.1" stroke="#ffffff" stroke-width="1.2"/>
<rect x="797.3" y="160.8" width="27.3" height="16.9" fill="none" stroke="#ffffff" stroke-width="1.44"/>
<circle cx="869.7" cy="171.6" r="15.2" fill="none" stroke="#ffffff" stroke-width="1.56"/>
<path d="M881.13 161.58 A15.2 15.2 0 0 1 881.13 181.62 Z" fill="#fff"/>
<line x1="860.5" y1="163" x2="866.5" y2="163" stroke="#ffffff" stroke-width="1.56"/>
<line x1="863.5" y1="160" x2="863.5" y2="166" stroke="#ffffff" stroke-width="1.56"/>
<circle cx="908.3" cy="171.6" r="15.2" fill="none" stroke="#ffffff" stroke-width="1.56"/>
<path d="M919.73 161.58 A15.2 15.2 0 0 1 919.73 181.62 Z" fill="#fff"/>
<line x1="899.3" y1="163" x2="905.3" y2="163" stroke="#ffffff" stroke-width="1.56"/>
<line x1="902.3" y1="160" x2="902.3" y2="166" stroke="#ffffff" stroke-width="1.56"/>
<rect x="931.2" y="177.3" width="26.9" height="16.1" fill="none" stroke="#ffffff" stroke-width="1.44"/>
<rect x="965.1" y="73" width="40.8" height="12.6" fill="none" stroke="#ffffff" stroke-width="1.44"/>
<line x1="1003.4" y1="85.6" x2="1005.9" y2="83.1" stroke="#ffffff" stroke-width="1.2"/>
<rect x="965.1" y="103.7" width="40.8" height="12.6" fill="none" stroke="#ffffff" stroke-width="1.44"/>
<line x1="1003.4" y1="116.3" x2="1005.9" y2="113.8" stroke="#ffffff" stroke-width="1.2"/>
<rect x="965.1" y="134.4" width="40.8" height="12.6" fill="none" stroke="#ffffff" stroke-width="1.44"/>
<line x1="1003.4" y1="147" x2="1005.9" y2="144.5" stroke="#ffffff" stroke-width="1.2"/>
<path d="M1041.7 70.91 A12.9 12.9 0 1 0 1041.7 87.69 Z" fill="none" stroke="#ffffff" stroke-width="1.44" stroke-linejoin="round"/>
<path d="M1041.7 101.61 A12.9 12.9 0 1 0 1041.7 118.39 Z" fill="none" stroke="#ffffff" stroke-width="1.44" stroke-linejoin="round"/>
<path d="M1041.7 132.31 A12.9 12.9 0 1 0 1041.7 149.09 Z" fill="none" stroke="#ffffff" stroke-width="1.44" stroke-linejoin="round"/>
<rect x="965.3" y="160.9" width="41.3" height="12.6" fill="none" stroke="#ffffff" stroke-width="1.44"/>
<line x1="965.3" y1="163.4" x2="967.8" y2="160.9" stroke="#ffffff" stroke-width="1.2"/>
<circle cx="1023.9" cy="187" r="15.7" fill="none" stroke="#ffffff" stroke-width="1.56"/>
<path d="M1013.55 175.2 A15.7 15.7 0 0 1 1034.25 175.2 Z" fill="#fff"/>
<line x1="1011.4" y1="193.2" x2="1017.4" y2="193.2" stroke="#ffffff" stroke-width="1.56"/>
<line x1="1014.4" y1="190.2" x2="1014.4" y2="196.2" stroke="#ffffff" stroke-width="1.56"/>
<path d="M804.8 189.5 H817.95 A5.5 5.5 0 0 0 828.95 189.5 H842.1" fill="none" stroke="#ffffff" stroke-width="1.8" stroke-linejoin="round"/>
<line x1="804.8" y1="246.5" x2="842.1" y2="246.5" stroke="#ffffff" stroke-width="1.8"/>
<line x1="804.8" y1="199.85" x2="804.8" y2="204.74" stroke="#ffffff" stroke-width="1.8"/>
<line x1="804.8" y1="215.24" x2="804.8" y2="220.13" stroke="#ffffff" stroke-width="1.8"/>
<line x1="804.8" y1="230.63" x2="804.8" y2="235.52" stroke="#ffffff" stroke-width="1.8"/>
<line x1="804.8" y1="246.02" x2="804.8" y2="246.5" stroke="#ffffff" stroke-width="1.8"/>
<line x1="842.1" y1="199.85" x2="842.1" y2="204.74" stroke="#ffffff" stroke-width="1.8"/>
<line x1="842.1" y1="215.24" x2="842.1" y2="220.13" stroke="#ffffff" stroke-width="1.8"/>
<line x1="842.1" y1="230.63" x2="842.1" y2="235.52" stroke="#ffffff" stroke-width="1.8"/>
<line x1="842.1" y1="246.02" x2="842.1" y2="246.5" stroke="#ffffff" stroke-width="1.8"/>
<rect x="880.1" y="203.5" width="27.2" height="13.4" fill="none" stroke="#ffffff" stroke-width="1.56"/>
<line x1="901.1" y1="203.5" x2="901.1" y2="216.9" stroke="#ffffff" stroke-width="1.56"/>
<rect x="880.1" y="218.6" width="27.2" height="13.4" fill="none" stroke="#ffffff" stroke-width="1.56"/>
<line x1="901.1" y1="218.6" x2="901.1" y2="232" stroke="#ffffff" stroke-width="1.56"/>
<rect x="935" y="204" width="40.8" height="12.6" fill="none" stroke="#ffffff" stroke-width="1.44"/>
<line x1="935" y1="206.5" x2="937.5" y2="204" stroke="#ffffff" stroke-width="1.2"/>
<rect x="935" y="219.1" width="40.8" height="12.6" fill="none" stroke="#ffffff" stroke-width="1.44"/>
<line x1="935" y1="221.6" x2="937.5" y2="219.1" stroke="#ffffff" stroke-width="1.2"/>
<rect x="935" y="234.6" width="40.8" height="12.6" fill="none" stroke="#ffffff" stroke-width="1.44"/>
<line x1="935" y1="237.1" x2="937.5" y2="234.6" stroke="#ffffff" stroke-width="1.2"/>
<rect x="872.5" y="234.6" width="41.3" height="12.6" fill="none" stroke="#ffffff" stroke-width="1.44"/>
<line x1="911.3" y1="247.2" x2="913.8" y2="244.7" stroke="#ffffff" stroke-width="1.2"/>
<rect x="872.5" y="250" width="41.3" height="12.6" fill="none" stroke="#ffffff" stroke-width="1.44"/>
<line x1="872.5" y1="252.5" x2="875" y2="250" stroke="#ffffff" stroke-width="1.2"/>
<rect x="872.5" y="265.4" width="41.3" height="12.6" fill="none" stroke="#ffffff" stroke-width="1.44"/>
<line x1="911.3" y1="278" x2="913.8" y2="275.5" stroke="#ffffff" stroke-width="1.2"/>
<rect x="803.4" y="250" width="40.7" height="12.6" fill="none" stroke="#ffffff" stroke-width="1.44"/>
<line x1="803.4" y1="252.5" x2="805.9" y2="250" stroke="#ffffff" stroke-width="1.2"/>
<rect x="994.1" y="206.5" width="13" height="40.8" fill="none" stroke="#ffffff" stroke-width="1.44"/>
<line x1="1004.6" y1="206.5" x2="1007.1" y2="209" stroke="#ffffff" stroke-width="1.2"/>
<rect x="1022.7" y="248.7" width="15.8" height="30.9" fill="none" stroke="#ffffff" stroke-width="1.44"/>
<line x1="1022.7" y1="263.9" x2="1038.5" y2="263.9" stroke="#ffffff" stroke-width="1.44"/>
<rect x="986.4" y="274.2" width="13" height="41" fill="none" stroke="#ffffff" stroke-width="1.44"/>
<line x1="996.9" y1="274.2" x2="999.4" y2="276.7" stroke="#ffffff" stroke-width="1.2"/>
<path d="M826.6 267.3 H851.4 A13.9 13.9 0 1 1 826.6 267.3 Z" fill="none" stroke="#ffffff" stroke-width="1.2" stroke-linejoin="round" stroke-opacity="0.9"/>
<circle cx="900.8" cy="297" r="15.6" fill="none" stroke="#ffffff" stroke-width="1.56"/>
<path d="M912.53 286.71 A15.6 15.6 0 0 1 912.53 307.29 Z" fill="#fff"/>
<line x1="891.6" y1="288.6" x2="897.6" y2="288.6" stroke="#ffffff" stroke-width="1.56"/>
<line x1="894.6" y1="285.6" x2="894.6" y2="291.6" stroke="#ffffff" stroke-width="1.56"/>
<path d="M869 296.5 H861.8 V322.4 H869 M871.4 296.5 H878.6 V322.4 H871.4" fill="none" stroke="#ffffff" stroke-width="1.44" stroke-linejoin="miter"/>
<rect x="887.2" y="317.4" width="27.1" height="15.9" fill="none" stroke="#ffffff" stroke-width="1.44"/>
<rect x="935" y="288.8" width="41.1" height="12.6" fill="none" stroke="#ffffff" stroke-width="1.44"/>
<line x1="973.6" y1="301.4" x2="976.1" y2="298.9" stroke="#ffffff" stroke-width="1.2"/>
<rect x="935" y="303.9" width="41.1" height="12.6" fill="none" stroke="#ffffff" stroke-width="1.44"/>
<line x1="935" y1="306.4" x2="937.5" y2="303.9" stroke="#ffffff" stroke-width="1.2"/>
<rect x="935" y="326.3" width="41.1" height="12.6" fill="none" stroke="#ffffff" stroke-width="1.44"/>
<line x1="935" y1="328.8" x2="937.5" y2="326.3" stroke="#ffffff" stroke-width="1.2"/>
<path d="M804.4 297.6 H818.2 A5.5 5.5 0 0 0 829.2 297.6 H843" fill="none" stroke="#ffffff" stroke-width="1.8" stroke-linejoin="round"/>
<line x1="804.4" y1="414.9" x2="843" y2="414.9" stroke="#ffffff" stroke-width="1.8"/>
<line x1="804.4" y1="297.6" x2="804.4" y2="306" stroke="#ffffff" stroke-width="1.8"/>
<line x1="804.4" y1="314.4" x2="804.4" y2="321.39" stroke="#ffffff" stroke-width="1.8"/>
<line x1="804.4" y1="329.79" x2="804.4" y2="336.78" stroke="#ffffff" stroke-width="1.8"/>
<line x1="804.4" y1="345.18" x2="804.4" y2="352.17" stroke="#ffffff" stroke-width="1.8"/>
<line x1="804.4" y1="360.57" x2="804.4" y2="367.56" stroke="#ffffff" stroke-width="1.8"/>
<line x1="804.4" y1="375.96" x2="804.4" y2="382.95" stroke="#ffffff" stroke-width="1.8"/>
<line x1="804.4" y1="391.35" x2="804.4" y2="398.34" stroke="#ffffff" stroke-width="1.8"/>
<line x1="804.4" y1="406.74" x2="804.4" y2="414.9" stroke="#ffffff" stroke-width="1.8"/>
<line x1="843" y1="297.6" x2="843" y2="306" stroke="#ffffff" stroke-width="1.8"/>
<line x1="843" y1="314.4" x2="843" y2="321.39" stroke="#ffffff" stroke-width="1.8"/>
<line x1="843" y1="329.79" x2="843" y2="336.78" stroke="#ffffff" stroke-width="1.8"/>
<line x1="843" y1="345.18" x2="843" y2="352.17" stroke="#ffffff" stroke-width="1.8"/>
<line x1="843" y1="360.57" x2="843" y2="367.56" stroke="#ffffff" stroke-width="1.8"/>
<line x1="843" y1="375.96" x2="843" y2="382.95" stroke="#ffffff" stroke-width="1.8"/>
<line x1="843" y1="391.35" x2="843" y2="398.34" stroke="#ffffff" stroke-width="1.8"/>
<line x1="843" y1="406.74" x2="843" y2="414.9" stroke="#ffffff" stroke-width="1.8"/>
<circle cx="798.8" cy="300.8" r="1.5" fill="#fff"/>
<rect x="864.9" y="335" width="41" height="12.6" fill="none" stroke="#ffffff" stroke-width="1.44"/>
<line x1="864.9" y1="337.5" x2="867.4" y2="335" stroke="#ffffff" stroke-width="1.2"/>
<path d="M930.6 343.5 H923.3 V369.5 H930.6 M933 343.5 H940.3 V369.5 H933" fill="none" stroke="#ffffff" stroke-width="1.44" stroke-linejoin="miter"/>
<rect x="971.8" y="348.5" width="26.8" height="16.8" fill="none" stroke="#ffffff" stroke-width="1.44"/>
<rect x="1002.4" y="317.6" width="42.6" height="77.6" fill="none" stroke="#ffffff" stroke-width="1.56"/>
<path d="M1021.5 360.8 L1019.5 373.4 A4.4 4.4 0 0 0 1028.3 373.4 L1026.3 360.8" fill="none" stroke="#ffffff" stroke-width="1.44" stroke-linejoin="round"/>
<rect x="863.2" y="358.8" width="13" height="41" fill="none" stroke="#ffffff" stroke-width="1.44"/>
<line x1="863.2" y1="397.3" x2="865.7" y2="399.8" stroke="#ffffff" stroke-width="1.2"/>
<rect x="886.7" y="351" width="26.5" height="57.3" fill="none" stroke="#ffffff" stroke-width="1.56"/>
<rect x="913.8" y="350.6" width="2.4" height="5.4" fill="#ffffff"/>
<rect x="913.8" y="403.3" width="2.4" height="5.4" fill="#ffffff"/>
<circle cx="890.8" cy="396.2" r="3.1" fill="none" stroke="#ffffff" stroke-width="1.08"/>
<line x1="887.4" y1="396.2" x2="894.2" y2="396.2" stroke="#ffffff" stroke-width="1.08"/>
<rect x="934.5" y="381" width="40.8" height="12.6" fill="none" stroke="#ffffff" stroke-width="1.44"/>
<line x1="972.8" y1="393.6" x2="975.3" y2="391.1" stroke="#ffffff" stroke-width="1.2"/>
<path d="M991 381.6 H984.3 V408.3 H991 M993.4 381.6 H1000.1 V408.3 H993.4" fill="none" stroke="#ffffff" stroke-width="1.44" stroke-linejoin="miter"/>
<rect x="1001.9" y="405.3" width="13" height="40.6" fill="none" stroke="#ffffff" stroke-width="1.44"/>
<line x1="1012.4" y1="405.3" x2="1014.9" y2="407.8" stroke="#ffffff" stroke-width="1.2"/>
<rect x="780.8" y="419.9" width="41.1" height="12.6" fill="none" stroke="#ffffff" stroke-width="1.44"/>
<line x1="780.8" y1="422.4" x2="783.3" y2="419.9" stroke="#ffffff" stroke-width="1.2"/>
<rect x="795.4" y="433.7" width="27.3" height="15.5" fill="none" stroke="#ffffff" stroke-width="1.44"/>
<rect x="874.4" y="418.9" width="27.3" height="13.4" fill="none" stroke="#ffffff" stroke-width="1.56"/>
<line x1="880" y1="418.9" x2="880" y2="432.3" stroke="#ffffff" stroke-width="1.56"/>
<rect x="874.4" y="434.6" width="27.3" height="13.4" fill="none" stroke="#ffffff" stroke-width="1.56"/>
<line x1="895.7" y1="434.6" x2="895.7" y2="448" stroke="#ffffff" stroke-width="1.56"/>
<rect x="934.7" y="419.3" width="41.1" height="12.6" fill="none" stroke="#ffffff" stroke-width="1.44"/>
<line x1="934.7" y1="421.8" x2="937.2" y2="419.3" stroke="#ffffff" stroke-width="1.2"/>
<rect x="940.7" y="434.3" width="27.8" height="13.4" fill="none" stroke="#ffffff" stroke-width="1.56"/>
<line x1="962.9" y1="434.3" x2="962.9" y2="447.7" stroke="#ffffff" stroke-width="1.56"/>
<rect x="940.7" y="449.7" width="27.8" height="13.4" fill="none" stroke="#ffffff" stroke-width="1.56"/>
<line x1="946.7" y1="449.7" x2="946.7" y2="463.1" stroke="#ffffff" stroke-width="1.56"/>
<rect x="858.4" y="448.8" width="26" height="15.6" fill="none" stroke="#ffffff" stroke-width="1.44"/>
<path d="M804.8 451 H817.95 A5.5 5.5 0 0 0 828.95 451 H842.1" fill="none" stroke="#ffffff" stroke-width="1.8" stroke-linejoin="round"/>
<line x1="804.8" y1="508.3" x2="842.1" y2="508.3" stroke="#ffffff" stroke-width="1.8"/>
<line x1="804.8" y1="451" x2="804.8" y2="451.05" stroke="#ffffff" stroke-width="1.8"/>
<line x1="804.8" y1="461.55" x2="804.8" y2="466.44" stroke="#ffffff" stroke-width="1.8"/>
<line x1="804.8" y1="476.94" x2="804.8" y2="481.83" stroke="#ffffff" stroke-width="1.8"/>
<line x1="804.8" y1="492.33" x2="804.8" y2="497.22" stroke="#ffffff" stroke-width="1.8"/>
<line x1="804.8" y1="507.72" x2="804.8" y2="508.3" stroke="#ffffff" stroke-width="1.8"/>
<line x1="842.1" y1="451" x2="842.1" y2="451.05" stroke="#ffffff" stroke-width="1.8"/>
<line x1="842.1" y1="461.55" x2="842.1" y2="466.44" stroke="#ffffff" stroke-width="1.8"/>
<line x1="842.1" y1="476.94" x2="842.1" y2="481.83" stroke="#ffffff" stroke-width="1.8"/>
<line x1="842.1" y1="492.33" x2="842.1" y2="497.22" stroke="#ffffff" stroke-width="1.8"/>
<line x1="842.1" y1="507.72" x2="842.1" y2="508.3" stroke="#ffffff" stroke-width="1.8"/>
<rect x="866.4" y="466.4" width="41.1" height="12.6" fill="none" stroke="#ffffff" stroke-width="1.44"/>
<line x1="866.4" y1="468.9" x2="868.9" y2="466.4" stroke="#ffffff" stroke-width="1.2"/>
<rect x="866.4" y="481" width="41.1" height="12.6" fill="none" stroke="#ffffff" stroke-width="1.44"/>
<line x1="866.4" y1="483.5" x2="868.9" y2="481" stroke="#ffffff" stroke-width="1.2"/>
<rect x="934.2" y="481" width="41.1" height="12.6" fill="none" stroke="#ffffff" stroke-width="1.44"/>
<line x1="934.2" y1="483.5" x2="936.7" y2="481" stroke="#ffffff" stroke-width="1.2"/>
<rect x="1023.5" y="448.5" width="15.8" height="30.9" fill="none" stroke="#ffffff" stroke-width="1.44"/>
<line x1="1023.5" y1="463.9" x2="1039.3" y2="463.9" stroke="#ffffff" stroke-width="1.44"/>
<rect x="887.2" y="502.7" width="27.1" height="16.3" fill="none" stroke="#ffffff" stroke-width="1.44"/>
<rect x="795" y="518.1" width="26.7" height="16.2" fill="none" stroke="#ffffff" stroke-width="1.44"/>
<rect x="849.1" y="519.5" width="41.1" height="12.6" fill="none" stroke="#ffffff" stroke-width="1.44"/>
<line x1="849.1" y1="522" x2="851.6" y2="519.5" stroke="#ffffff" stroke-width="1.2"/>
<rect x="865.5" y="542.5" width="41.3" height="12.6" fill="none" stroke="#ffffff" stroke-width="1.44"/>
<line x1="865.5" y1="545" x2="868" y2="542.5" stroke="#ffffff" stroke-width="1.2"/>
<path d="M807.3 541.6 H820.15 A3.6 3.6 0 0 0 827.35 541.6 H840.2" fill="none" stroke="#ffffff" stroke-width="1.8" stroke-linejoin="round"/>
<line x1="807.3" y1="602.4" x2="840.2" y2="602.4" stroke="#ffffff" stroke-width="1.8"/>
<line x1="807.3" y1="541.6" x2="807.3" y2="602.4" stroke="#ffffff" stroke-width="1.8"/>
<line x1="840.2" y1="541.6" x2="840.2" y2="602.4" stroke="#ffffff" stroke-width="1.8"/>
<circle cx="813.6" cy="547.3" r="3.3" fill="#fff"/>
<circle cx="800.5" cy="540.9" r="1.2" fill="#fff"/>
<rect x="886.7" y="558.6" width="26.5" height="57.4" fill="none" stroke="#ffffff" stroke-width="1.56"/>
<rect x="913.8" y="558.2" width="2.4" height="5.4" fill="#ffffff"/>
<rect x="913.8" y="611" width="2.4" height="5.4" fill="#ffffff"/>
<circle cx="890.8" cy="605.2" r="3.1" fill="none" stroke="#ffffff" stroke-width="1.08"/>
<line x1="887.4" y1="605.2" x2="894.2" y2="605.2" stroke="#ffffff" stroke-width="1.08"/>
<circle cx="866.9" cy="612.8" r="15.5" fill="none" stroke="#ffffff" stroke-width="1.56"/>
<path d="M877.12 624.45 A15.5 15.5 0 0 1 856.68 624.45 Z" fill="#fff"/>
<line x1="873.3" y1="606.6" x2="879.3" y2="606.6" stroke="#ffffff" stroke-width="1.56"/>
<line x1="876.3" y1="603.6" x2="876.3" y2="609.6" stroke="#ffffff" stroke-width="1.56"/>
<rect x="795" y="610.3" width="26.7" height="16.2" fill="none" stroke="#ffffff" stroke-width="1.44"/>
<rect x="926.6" y="581.1" width="41.2" height="12.6" fill="none" stroke="#ffffff" stroke-width="1.44"/>
<line x1="926.6" y1="583.6" x2="929.1" y2="581.1" stroke="#ffffff" stroke-width="1.2"/>
<path d="M938.5 550.8 H931.2 V577.6 H938.5 M940.9 550.8 H948.2 V577.6 H940.9" fill="none" stroke="#ffffff" stroke-width="1.44" stroke-linejoin="miter"/>
<rect x="971.8" y="536.2" width="26.8" height="16.6" fill="none" stroke="#ffffff" stroke-width="1.44"/>
<rect x="971.8" y="592.4" width="26.8" height="16.9" fill="none" stroke="#ffffff" stroke-width="1.44"/>
<rect x="1002.4" y="533.1" width="42.6" height="77.7" fill="none" stroke="#ffffff" stroke-width="1.56"/>
<path d="M1021.5 576.4 L1019.5 589 A4.4 4.4 0 0 0 1028.3 589 L1026.3 576.4" fill="none" stroke="#ffffff" stroke-width="1.44" stroke-linejoin="round"/>
</g>
<g id="labels" fill="#fff" font-family="'Liberation Sans', Arial, sans-serif">
<text font-size="6.2" textLength="19.8" lengthAdjust="spacingAndGlyphs" stroke="#fff" stroke-width="0.09" transform="translate(256.4 47.6) rotate(-90)">AUDIOIN</text>
<text font-size="6.2" textLength="19.8" lengthAdjust="spacingAndGlyphs" stroke="#fff" stroke-width="0.09" transform="translate(256.4 671.2) rotate(-90)">AUDIOIN</text>
<text font-size="6.8" textLength="8.2" lengthAdjust="spacingAndGlyphs" stroke="#fff" stroke-width="0.1" transform="translate(271.79 47.6) rotate(-90)">D3</text>
<text font-size="6.8" textLength="8.2" lengthAdjust="spacingAndGlyphs" stroke="#fff" stroke-width="0.1" transform="translate(271.79 671.2) rotate(-90)">D3</text>
<text font-size="6.8" textLength="8.2" lengthAdjust="spacingAndGlyphs" stroke="#fff" stroke-width="0.1" transform="translate(287.18 47.6) rotate(-90)">D1</text>
<text font-size="6.8" textLength="8.2" lengthAdjust="spacingAndGlyphs" stroke="#fff" stroke-width="0.1" transform="translate(287.18 671.2) rotate(-90)">D1</text>
<text font-size="6.8" textLength="8.2" lengthAdjust="spacingAndGlyphs" stroke="#fff" stroke-width="0.1" transform="translate(302.57 47.6) rotate(-90)">D5</text>
<text font-size="6.8" textLength="8.2" lengthAdjust="spacingAndGlyphs" stroke="#fff" stroke-width="0.1" transform="translate(302.57 671.2) rotate(-90)">D5</text>
<text font-size="6.8" textLength="8.2" lengthAdjust="spacingAndGlyphs" stroke="#fff" stroke-width="0.1" transform="translate(317.96 47.6) rotate(-90)">D6</text>
<text font-size="6.8" textLength="8.2" lengthAdjust="spacingAndGlyphs" stroke="#fff" stroke-width="0.1" transform="translate(317.96 671.2) rotate(-90)">D6</text>
<text font-size="6.8" textLength="8.2" lengthAdjust="spacingAndGlyphs" stroke="#fff" stroke-width="0.1" transform="translate(333.35 47.6) rotate(-90)">D7</text>
<text font-size="6.8" textLength="8.2" lengthAdjust="spacingAndGlyphs" stroke="#fff" stroke-width="0.1" transform="translate(333.35 671.2) rotate(-90)">D7</text>
<text font-size="6.2" textLength="18.4" lengthAdjust="spacingAndGlyphs" stroke="#fff" stroke-width="0.09" transform="translate(348.74 47.6) rotate(-90)">MEMEN</text>
<text font-size="6.2" textLength="18.4" lengthAdjust="spacingAndGlyphs" stroke="#fff" stroke-width="0.09" transform="translate(348.74 671.2) rotate(-90)">MEMEN</text>
<text font-size="6.8" textLength="7.5" lengthAdjust="spacingAndGlyphs" stroke="#fff" stroke-width="0.1" transform="translate(364.13 47.6) rotate(-90)">A1</text>
<text font-size="6.8" textLength="7.5" lengthAdjust="spacingAndGlyphs" stroke="#fff" stroke-width="0.1" transform="translate(364.13 671.2) rotate(-90)">A1</text>
<text font-size="6.8" textLength="11.3" lengthAdjust="spacingAndGlyphs" stroke="#fff" stroke-width="0.1" transform="translate(379.52 47.6) rotate(-90)">MBE</text>
<text font-size="6.8" textLength="11.3" lengthAdjust="spacingAndGlyphs" stroke="#fff" stroke-width="0.1" transform="translate(379.52 671.2) rotate(-90)">MBE</text>
<text font-size="6.8" textLength="7.5" lengthAdjust="spacingAndGlyphs" stroke="#fff" stroke-width="0.1" transform="translate(394.91 47.6) rotate(-90)">WE</text>
<text font-size="6.8" textLength="7.5" lengthAdjust="spacingAndGlyphs" stroke="#fff" stroke-width="0.1" transform="translate(394.91 671.2) rotate(-90)">WE</text>
<text font-size="6.8" textLength="11.3" lengthAdjust="spacingAndGlyphs" stroke="#fff" stroke-width="0.1" transform="translate(410.3 47.6) rotate(-90)">PH3</text>
<text font-size="6.8" textLength="11.3" lengthAdjust="spacingAndGlyphs" stroke="#fff" stroke-width="0.1" transform="translate(410.3 671.2) rotate(-90)">PH3</text>
<text font-size="6.2" textLength="21" lengthAdjust="spacingAndGlyphs" stroke="#fff" stroke-width="0.09" transform="translate(425.69 47.6) rotate(-90)">CRUCLK</text>
<text font-size="6.2" textLength="21" lengthAdjust="spacingAndGlyphs" stroke="#fff" stroke-width="0.09" transform="translate(425.69 671.2) rotate(-90)">CRUCLK</text>
<text font-size="6.8" textLength="7.5" lengthAdjust="spacingAndGlyphs" stroke="#fff" stroke-width="0.1" transform="translate(441.08 47.6) rotate(-90)">A2</text>
<text font-size="6.8" textLength="7.5" lengthAdjust="spacingAndGlyphs" stroke="#fff" stroke-width="0.1" transform="translate(441.08 671.2) rotate(-90)">A2</text>
<text font-size="6.8" textLength="7.5" lengthAdjust="spacingAndGlyphs" stroke="#fff" stroke-width="0.1" transform="translate(456.47 47.6) rotate(-90)">A9</text>
<text font-size="6.8" textLength="7.5" lengthAdjust="spacingAndGlyphs" stroke="#fff" stroke-width="0.1" transform="translate(456.47 671.2) rotate(-90)">A9</text>
<text font-size="6.8" textLength="8.8" lengthAdjust="spacingAndGlyphs" stroke="#fff" stroke-width="0.1" transform="translate(471.86 47.6) rotate(-90)">A14</text>
<text font-size="6.8" textLength="8.8" lengthAdjust="spacingAndGlyphs" stroke="#fff" stroke-width="0.1" transform="translate(471.86 671.2) rotate(-90)">A14</text>
<text font-size="6.8" textLength="7.5" lengthAdjust="spacingAndGlyphs" stroke="#fff" stroke-width="0.1" transform="translate(487.25 47.6) rotate(-90)">A8</text>
<text font-size="6.8" textLength="7.5" lengthAdjust="spacingAndGlyphs" stroke="#fff" stroke-width="0.1" transform="translate(487.25 671.2) rotate(-90)">A8</text>
<text font-size="6.2" textLength="17.9" lengthAdjust="spacingAndGlyphs" stroke="#fff" stroke-width="0.09" transform="translate(502.64 47.6) rotate(-90)">READY</text>
<text font-size="6.2" textLength="17.9" lengthAdjust="spacingAndGlyphs" stroke="#fff" stroke-width="0.09" transform="translate(502.64 671.2) rotate(-90)">READY</text>
<text font-size="6.8" textLength="7.5" lengthAdjust="spacingAndGlyphs" stroke="#fff" stroke-width="0.1" transform="translate(518.03 47.6) rotate(-90)">A3</text>
<text font-size="6.8" textLength="7.5" lengthAdjust="spacingAndGlyphs" stroke="#fff" stroke-width="0.1" transform="translate(518.03 671.2) rotate(-90)">A3</text>
<text font-size="6.8" textLength="8.8" lengthAdjust="spacingAndGlyphs" stroke="#fff" stroke-width="0.1" transform="translate(533.42 47.6) rotate(-90)">A11</text>
<text font-size="6.8" textLength="8.8" lengthAdjust="spacingAndGlyphs" stroke="#fff" stroke-width="0.1" transform="translate(533.42 671.2) rotate(-90)">A11</text>
<text font-size="6.8" textLength="8.8" lengthAdjust="spacingAndGlyphs" stroke="#fff" stroke-width="0.1" transform="translate(548.81 47.6) rotate(-90)">A10</text>
<text font-size="6.8" textLength="8.8" lengthAdjust="spacingAndGlyphs" stroke="#fff" stroke-width="0.1" transform="translate(548.81 671.2) rotate(-90)">A10</text>
<text font-size="6.2" textLength="17.9" lengthAdjust="spacingAndGlyphs" stroke="#fff" stroke-width="0.09" transform="translate(564.2 47.6) rotate(-90)">EXTINT</text>
<text font-size="6.2" textLength="17.9" lengthAdjust="spacingAndGlyphs" stroke="#fff" stroke-width="0.09" transform="translate(564.2 671.2) rotate(-90)">EXTINT</text>
<text font-size="6.8" textLength="7.5" lengthAdjust="spacingAndGlyphs" stroke="#fff" stroke-width="0.1" transform="translate(579.59 47.6) rotate(-90)">SBE</text>
<text font-size="6.8" textLength="7.5" lengthAdjust="spacingAndGlyphs" stroke="#fff" stroke-width="0.1" transform="translate(579.59 671.2) rotate(-90)">SBE</text>
<text font-size="10.5" textLength="12.6" lengthAdjust="spacingAndGlyphs" transform="translate(425.2 103.2) rotate(180)">E2</text>
<text font-size="11.6" textLength="63.4" lengthAdjust="spacingAndGlyphs" transform="translate(80.45 126.2) rotate(90)">2732 EPROM</text>
<text font-size="10.5" textLength="11.6" lengthAdjust="spacingAndGlyphs" transform="translate(136.84 202.4) rotate(90)">U4</text>
<text font-size="10.5" textLength="12" lengthAdjust="spacingAndGlyphs" transform="translate(154.84 70.6) rotate(90)">C7</text>
<text font-size="11.3" textLength="77.6" lengthAdjust="spacingAndGlyphs" transform="translate(187.15 62.4) rotate(90)">SN74LS244NE4</text>
<text font-size="10.5" textLength="11.5" lengthAdjust="spacingAndGlyphs" transform="translate(223.44 129.6) rotate(90)">U1</text>
<text font-size="11.3" textLength="77.6" lengthAdjust="spacingAndGlyphs" transform="translate(187.15 247.2) rotate(90)">SN74LS244NE4</text>
<text font-size="10.5" textLength="11.5" lengthAdjust="spacingAndGlyphs" transform="translate(223.44 316.8) rotate(90)">U3</text>
<text font-size="11.3" textLength="77.6" lengthAdjust="spacingAndGlyphs" transform="translate(187.15 423.8) rotate(90)">SN74LS244NE4</text>
<text font-size="10.5" textLength="11.5" lengthAdjust="spacingAndGlyphs" transform="translate(223.44 494) rotate(90)">U2</text>
<text font-size="10.5" textLength="19.6" lengthAdjust="spacingAndGlyphs" x="30.6" y="303.7">DC4</text>
<text font-size="10.5" textLength="19.6" lengthAdjust="spacingAndGlyphs" x="30.6" y="372.95">DC2</text>
<text font-size="10.5" textLength="19.6" lengthAdjust="spacingAndGlyphs" x="30.6" y="442.2">DC3</text>
<text font-size="10.5" textLength="19.6" lengthAdjust="spacingAndGlyphs" x="30.6" y="511.45">DC1</text>
<text font-size="11" textLength="45.5" lengthAdjust="spacingAndGlyphs" stroke="#fff" stroke-width="0.15" transform="translate(93.39 357.9) rotate(-90)">+5V An</text>
<text font-size="11" textLength="50.6" lengthAdjust="spacingAndGlyphs" stroke="#fff" stroke-width="0.15" transform="translate(93.39 432.3) rotate(-90)">+12V An</text>
<text font-size="11" textLength="50.6" lengthAdjust="spacingAndGlyphs" stroke="#fff" stroke-width="0.15" transform="translate(93.39 497.6) rotate(-90)">−12V An</text>
<text font-size="11" textLength="45.7" lengthAdjust="spacingAndGlyphs" stroke="#fff" stroke-width="0.15" transform="translate(93.39 566) rotate(-90)">+5V Dg</text>
<text font-size="10.5" textLength="13.5" lengthAdjust="spacingAndGlyphs" transform="translate(104.04 422.7) rotate(90)">R2</text>
<text font-size="10.5" textLength="13.5" lengthAdjust="spacingAndGlyphs" transform="translate(104.04 484.6) rotate(90)">R1</text>
<text font-size="10.5" textLength="12" lengthAdjust="spacingAndGlyphs" transform="translate(156.24 409.6) rotate(90)">C8</text>
<text font-size="10.5" textLength="12" lengthAdjust="spacingAndGlyphs" transform="translate(44.96 603) rotate(-90)">C2</text>
<text font-size="11.3" textLength="45.8" lengthAdjust="spacingAndGlyphs" transform="translate(119.35 564.6) rotate(90)">LM555CN</text>
<text font-size="10.5" textLength="11.6" lengthAdjust="spacingAndGlyphs" transform="translate(154.44 587) rotate(90)">U7</text>
<text font-size="10.5" textLength="12.4" lengthAdjust="spacingAndGlyphs" transform="translate(185.84 602) rotate(90)">C9</text>
<text font-size="18.8" textLength="34.4" lengthAdjust="spacingAndGlyphs" x="299.2" y="266.7">TI99</text>
<text font-size="18.8" textLength="45.1" lengthAdjust="spacingAndGlyphs" x="342.7" y="266.7">MPEB</text>
<text font-size="18.8" textLength="56.4" lengthAdjust="spacingAndGlyphs" x="398" y="266.7">MORSE</text>
<text font-size="18.8" textLength="45.1" lengthAdjust="spacingAndGlyphs" x="464.9" y="266.7">CODE</text>
<text font-size="18.8" textLength="33" lengthAdjust="spacingAndGlyphs" x="528.4" y="266.7">V1.2</text>
<text font-size="10.5" textLength="12" lengthAdjust="spacingAndGlyphs" x="625.2" y="83.4">C3</text>
<text font-size="11.3" textLength="62.1" lengthAdjust="spacingAndGlyphs" transform="translate(635.35 109.3) rotate(90)">SN74HC251N</text>
<text font-size="10.5" textLength="15.8" lengthAdjust="spacingAndGlyphs" transform="translate(669.64 154) rotate(90)">U10</text>
<text font-size="10.5" textLength="12.6" lengthAdjust="spacingAndGlyphs" x="724" y="162">C5</text>
<text font-size="11.3" textLength="70.1" lengthAdjust="spacingAndGlyphs" transform="translate(704.75 200.5) rotate(90)">SN74LS259BN</text>
<text font-size="10.5" textLength="12" lengthAdjust="spacingAndGlyphs" transform="translate(737.84 245) rotate(90)">U8</text>
<text font-size="10.5" textLength="12.4" lengthAdjust="spacingAndGlyphs" x="654" y="254">C6</text>
<text font-size="11.3" textLength="54" lengthAdjust="spacingAndGlyphs" transform="translate(636.15 293.5) rotate(90)">HD74LS10P</text>
<text font-size="10.5" textLength="11.4" lengthAdjust="spacingAndGlyphs" transform="translate(669.04 340) rotate(90)">U5</text>
<text font-size="10.5" textLength="8.2" lengthAdjust="spacingAndGlyphs" transform="translate(720.24 320.6) rotate(90)">J1</text>
<text font-size="10.5" textLength="9.4" lengthAdjust="spacingAndGlyphs" transform="translate(720.24 343.4) rotate(90)">J2</text>
<text font-size="10.5" textLength="9.4" lengthAdjust="spacingAndGlyphs" transform="translate(782.24 343.4) rotate(90)">J5</text>
<text font-size="11.3" textLength="55" lengthAdjust="spacingAndGlyphs" transform="translate(704.75 378) rotate(90)">SN74LS14N</text>
<text font-size="10.5" textLength="11.8" lengthAdjust="spacingAndGlyphs" transform="translate(738.64 425) rotate(90)">U9</text>
<text font-size="10.5" textLength="13" lengthAdjust="spacingAndGlyphs" x="646" y="431">C4</text>
<text font-size="11.3" textLength="57.2" lengthAdjust="spacingAndGlyphs" transform="translate(633.55 477.8) rotate(90)">SN74LS32N</text>
<text font-size="10.5" textLength="12" lengthAdjust="spacingAndGlyphs" transform="translate(669.64 523.6) rotate(90)">U6</text>
<text font-size="10.5" textLength="14.6" lengthAdjust="spacingAndGlyphs" x="683" y="506">J10</text>
<text font-size="10.5" textLength="14" lengthAdjust="spacingAndGlyphs" x="716.6" y="506">J14</text>
<text font-size="10.5" textLength="14.2" lengthAdjust="spacingAndGlyphs" x="779" y="506">J13</text>
<text font-size="10.5" textLength="10.4" lengthAdjust="spacingAndGlyphs" x="687.2" y="529.1">J9</text>
<text font-size="10.5" textLength="14" lengthAdjust="spacingAndGlyphs" x="716.6" y="529.1">J16</text>
<text font-size="10.5" textLength="14.2" lengthAdjust="spacingAndGlyphs" x="779" y="529.1">J15</text>
<text font-size="10.5" textLength="14" lengthAdjust="spacingAndGlyphs" x="716.6" y="552.3">J18</text>
<text font-size="10.5" textLength="14.2" lengthAdjust="spacingAndGlyphs" x="779" y="552.3">J17</text>
<text font-size="10.5" textLength="10.4" lengthAdjust="spacingAndGlyphs" x="687.2" y="575.3">J7</text>
<text font-size="10.5" textLength="14" lengthAdjust="spacingAndGlyphs" x="716.6" y="575.3">J12</text>
<text font-size="10.5" textLength="12.6" lengthAdjust="spacingAndGlyphs" x="779" y="575.3">J11</text>
<text font-size="10.5" textLength="10.4" lengthAdjust="spacingAndGlyphs" x="687.2" y="598.3">J8</text>
<text font-size="10.8" textLength="59.6" lengthAdjust="spacingAndGlyphs" stroke="#fff" stroke-width="0.15" x="645.5" y="625">ARTO 2025</text>
<text font-size="10.5" textLength="16.5" lengthAdjust="spacingAndGlyphs" transform="translate(773.84 90.6) rotate(90)">R18</text>
<text font-size="10.5" textLength="16.5" lengthAdjust="spacingAndGlyphs" transform="translate(781.36 243.4) rotate(-90)">R16</text>
<text font-size="10.5" textLength="16.5" lengthAdjust="spacingAndGlyphs" transform="translate(781.36 305.1) rotate(-90)">R13</text>
<text font-size="10.5" textLength="16.5" lengthAdjust="spacingAndGlyphs" transform="translate(781.36 405.6) rotate(-90)">R15</text>
<text font-size="10.5" textLength="16.5" lengthAdjust="spacingAndGlyphs" transform="translate(773.84 445.8) rotate(90)">R29</text>
<text font-size="10.5" textLength="18.2" lengthAdjust="spacingAndGlyphs" x="806" y="75.4">R24</text>
<text font-size="11.3" textLength="42" lengthAdjust="spacingAndGlyphs" transform="translate(819.95 90.8) rotate(90)">LM1458N</text>
<text font-size="10.5" textLength="13.4" lengthAdjust="spacingAndGlyphs" transform="translate(854.24 109.8) rotate(90)">U11</text>
<text font-size="10.5" textLength="18.2" lengthAdjust="spacingAndGlyphs" x="868.1" y="90.9">R20</text>
<text font-size="10.5" textLength="12.3" lengthAdjust="spacingAndGlyphs" x="868.1" y="106.1">R8</text>
<text font-size="10.5" textLength="17.8" lengthAdjust="spacingAndGlyphs" transform="translate(915.76 87.6) rotate(-90)">RV3</text>
<text font-size="10.5" textLength="20.1" lengthAdjust="spacingAndGlyphs" x="862.2" y="123">C24</text>
<text font-size="10.5" textLength="10.8" lengthAdjust="spacingAndGlyphs" x="902.6" y="123">C1</text>
<text font-size="10.5" textLength="18.2" lengthAdjust="spacingAndGlyphs" x="806" y="152.2">R14</text>
<text font-size="10.5" textLength="16.5" lengthAdjust="spacingAndGlyphs" x="809.5" y="159">C14</text>
<text font-size="10.5" textLength="16" lengthAdjust="spacingAndGlyphs" x="867.8" y="154.4">C13</text>
<text font-size="10.5" textLength="15.6" lengthAdjust="spacingAndGlyphs" x="906.4" y="154.4">C12</text>
<text font-size="10.5" textLength="14" lengthAdjust="spacingAndGlyphs" x="944" y="175.4">C11</text>
<text font-size="10.5" textLength="18.2" lengthAdjust="spacingAndGlyphs" transform="translate(1003.3 75.6) rotate(180)">R30</text>
<text font-size="10.5" textLength="18.2" lengthAdjust="spacingAndGlyphs" transform="translate(1003.3 106.3) rotate(180)">R31</text>
<text font-size="10.5" textLength="18.2" lengthAdjust="spacingAndGlyphs" transform="translate(1003.3 137) rotate(180)">R35</text>
<text font-size="10.5" textLength="12.2" lengthAdjust="spacingAndGlyphs" x="1008" y="71.4">D7</text>
<text font-size="10.5" textLength="12.2" lengthAdjust="spacingAndGlyphs" x="1008" y="102.2">D8</text>
<text font-size="10.5" textLength="12.2" lengthAdjust="spacingAndGlyphs" x="1008" y="133.1">D9</text>
<text font-size="10.5" textLength="12.3" lengthAdjust="spacingAndGlyphs" x="967.9" y="171">R5</text>
<text font-size="10.5" textLength="15.2" lengthAdjust="spacingAndGlyphs" transform="translate(1005.16 194.4) rotate(-90)">C10</text>
<text font-size="11.3" textLength="42.3" lengthAdjust="spacingAndGlyphs" transform="translate(819.95 199) rotate(90)">LM1458N</text>
<text font-size="10.5" textLength="15.6" lengthAdjust="spacingAndGlyphs" transform="translate(854.24 217.2) rotate(90)">U12</text>
<text font-size="10.5" textLength="12.8" lengthAdjust="spacingAndGlyphs" fill-opacity="0.85" x="882.4" y="214.1">D2</text>
<text font-size="10.5" textLength="11.6" lengthAdjust="spacingAndGlyphs" fill-opacity="0.85" x="882.4" y="229.2">D1</text>
<text font-size="10.5" textLength="12.3" lengthAdjust="spacingAndGlyphs" x="937.6" y="214.1">R4</text>
<text font-size="10.5" textLength="12.3" lengthAdjust="spacingAndGlyphs" x="937.6" y="229.2">R6</text>
<text font-size="10.5" textLength="12.3" lengthAdjust="spacingAndGlyphs" x="937.6" y="244.7">R7</text>
<text font-size="10.5" textLength="18.2" lengthAdjust="spacingAndGlyphs" transform="translate(911.2 237.2) rotate(180)">R10</text>
<text font-size="10.5" textLength="12.3" lengthAdjust="spacingAndGlyphs" x="875.1" y="260.1">R9</text>
<text font-size="10.5" textLength="18.2" lengthAdjust="spacingAndGlyphs" transform="translate(911.2 268) rotate(180)">R11</text>
<text font-size="10.5" textLength="18.2" lengthAdjust="spacingAndGlyphs" x="806" y="260.1">R17</text>
<text font-size="10.5" textLength="12.5" lengthAdjust="spacingAndGlyphs" transform="translate(996.84 208.5) rotate(90)">R3</text>
<text font-size="10.5" textLength="10.4" lengthAdjust="spacingAndGlyphs" x="1010.2" y="259.2">J4</text>
<text font-size="10.5" textLength="10.4" lengthAdjust="spacingAndGlyphs" x="1010.2" y="274.4">J3</text>
<text font-size="11.6" textLength="23.2" lengthAdjust="spacingAndGlyphs" stroke="#fff" stroke-width="0.16" x="1014.7" y="292.8">GND</text>
<text font-size="12.4" textLength="50.5" lengthAdjust="spacingAndGlyphs" stroke="#fff" stroke-width="0.17" transform="translate(1050.24 290.6) rotate(-90)">AUDIO IN</text>
<text font-size="10.5" textLength="16.5" lengthAdjust="spacingAndGlyphs" transform="translate(989.14 276.2) rotate(90)">R12</text>
<text font-size="10.5" textLength="15.6" lengthAdjust="spacingAndGlyphs" transform="translate(854.2 255.4) rotate(180)">U15</text>
<text font-size="10.5" textLength="16" lengthAdjust="spacingAndGlyphs" x="866.9" y="292.3">C15</text>
<text font-size="10.5" textLength="15.6" lengthAdjust="spacingAndGlyphs" transform="translate(853.24 294.6) rotate(90)">C16</text>
<text font-size="10.5" textLength="18.8" lengthAdjust="spacingAndGlyphs" transform="translate(883.8 324) rotate(180)">C30</text>
<text font-size="10.5" textLength="18.2" lengthAdjust="spacingAndGlyphs" transform="translate(973.5 291.4) rotate(180)">R21</text>
<text font-size="10.5" textLength="18.2" lengthAdjust="spacingAndGlyphs" x="937.6" y="314">R27</text>
<text font-size="10.5" textLength="18.2" lengthAdjust="spacingAndGlyphs" x="937.6" y="336.4">R22</text>
<text font-size="11.3" textLength="97.7" lengthAdjust="spacingAndGlyphs" transform="translate(818.75 307.8) rotate(90)">LM339N_C3658785</text>
<text font-size="10.5" textLength="15.6" lengthAdjust="spacingAndGlyphs" transform="translate(853.84 354.8) rotate(90)">U14</text>
<text font-size="10.5" textLength="18.2" lengthAdjust="spacingAndGlyphs" x="867.5" y="345.1">R23</text>
<text font-size="10.5" textLength="15.6" lengthAdjust="spacingAndGlyphs" transform="translate(941.64 349.2) rotate(90)">C17</text>
<text font-size="10.5" textLength="19.1" lengthAdjust="spacingAndGlyphs" x="975.3" y="346.2">C25</text>
<text font-size="10.5" textLength="20.4" lengthAdjust="spacingAndGlyphs" x="1012.9" y="314.1">SW2</text>
<text font-size="9.6" textLength="47.4" lengthAdjust="spacingAndGlyphs" stroke="#fff" stroke-width="0.13" transform="translate(1053.84 360) rotate(-90)">ATN −12dB</text>
<text font-size="10.5" textLength="16.5" lengthAdjust="spacingAndGlyphs" transform="translate(873.46 397.8) rotate(-90)">R25</text>
<text font-size="10.5" textLength="17.6" lengthAdjust="spacingAndGlyphs" transform="translate(884.76 380.6) rotate(-90)">VR2</text>
<text font-size="9.8" textLength="20.7" lengthAdjust="spacingAndGlyphs" stroke="#fff" stroke-width="0.14" transform="translate(924.11 404.6) rotate(-90)">TONE</text>
<text font-size="10.5" textLength="18.2" lengthAdjust="spacingAndGlyphs" transform="translate(972.7 383.6) rotate(180)">R45</text>
<text font-size="10.5" textLength="14.5" lengthAdjust="spacingAndGlyphs" transform="translate(988.04 410.9) rotate(90)">C18</text>
<text font-size="10.5" textLength="16.5" lengthAdjust="spacingAndGlyphs" transform="translate(1004.64 407.3) rotate(90)">R36</text>
<text font-size="10.5" textLength="18.2" lengthAdjust="spacingAndGlyphs" x="783.4" y="430">R39</text>
<text font-size="10.5" textLength="18.8" lengthAdjust="spacingAndGlyphs" transform="translate(846.8 437.4) rotate(180)">C22</text>
<text font-size="10.5" textLength="13" lengthAdjust="spacingAndGlyphs" fill-opacity="0.85" transform="translate(898.8 421.7) rotate(180)">D5</text>
<text font-size="10.5" textLength="13" lengthAdjust="spacingAndGlyphs" fill-opacity="0.85" x="877.2" y="445.2">D6</text>
<text font-size="10.5" textLength="18.2" lengthAdjust="spacingAndGlyphs" x="937.3" y="429.4">R38</text>
<text font-size="10.5" textLength="12.8" lengthAdjust="spacingAndGlyphs" fill-opacity="0.85" x="943.2" y="444.9">D3</text>
<text font-size="10.5" textLength="13" lengthAdjust="spacingAndGlyphs" fill-opacity="0.85" transform="translate(965 452.5) rotate(180)">D4</text>
<text font-size="10.5" textLength="16.9" lengthAdjust="spacingAndGlyphs" x="886.7" y="460.4">C21</text>
<text font-size="11.3" textLength="42.7" lengthAdjust="spacingAndGlyphs" transform="translate(821.55 460.3) rotate(90)">LM1458N</text>
<text font-size="10.5" textLength="15.7" lengthAdjust="spacingAndGlyphs" transform="translate(831.84 467.3) rotate(90)">U13</text>
<text font-size="10.5" textLength="18.2" lengthAdjust="spacingAndGlyphs" x="869" y="476.5">R33</text>
<text font-size="10.5" textLength="18.2" lengthAdjust="spacingAndGlyphs" x="869" y="491.1">R32</text>
<text font-size="10.5" textLength="18.2" lengthAdjust="spacingAndGlyphs" x="936.8" y="491.1">R28</text>
<text font-size="10.5" textLength="11.6" lengthAdjust="spacingAndGlyphs" x="1009.2" y="461.4">J6</text>
<text font-size="10.5" textLength="16.6" lengthAdjust="spacingAndGlyphs" x="1004.2" y="476.6">J20</text>
<text font-size="11.6" textLength="23.2" lengthAdjust="spacingAndGlyphs" stroke="#fff" stroke-width="0.16" x="1016" y="493.2">GND</text>
<text font-size="12.4" textLength="55" lengthAdjust="spacingAndGlyphs" stroke="#fff" stroke-width="0.17" transform="translate(1050.24 489.2) rotate(-90)">KEYED IN</text>
<text font-size="10.5" textLength="16.3" lengthAdjust="spacingAndGlyphs" x="866" y="514.5">C19</text>
<text font-size="10.5" textLength="18" lengthAdjust="spacingAndGlyphs" x="823.2" y="523.4">C29</text>
<text font-size="10.5" textLength="18.2" lengthAdjust="spacingAndGlyphs" x="851.7" y="529.6">R40</text>
<text font-size="10.5" textLength="18.2" lengthAdjust="spacingAndGlyphs" x="868.1" y="552.6">R34</text>
<text font-size="11.3" textLength="38.7" lengthAdjust="spacingAndGlyphs" transform="translate(820.95 550.3) rotate(90)">LM567N</text>
<text font-size="10.5" textLength="15.1" lengthAdjust="spacingAndGlyphs" transform="translate(853.84 569.5) rotate(90)">U16</text>
<text font-size="10.5" textLength="17" lengthAdjust="spacingAndGlyphs" transform="translate(884.36 589.3) rotate(-90)">VR1</text>
<text font-size="10.5" textLength="19.6" lengthAdjust="spacingAndGlyphs" x="858" y="595">C23</text>
<text font-size="10.5" textLength="19.4" lengthAdjust="spacingAndGlyphs" x="826.8" y="624">C20</text>
<text font-size="10.5" textLength="18.2" lengthAdjust="spacingAndGlyphs" x="929.2" y="591.2">R37</text>
<text font-size="10.5" textLength="18" lengthAdjust="spacingAndGlyphs" transform="translate(952.04 557.4) rotate(90)">C26</text>
<text font-size="10.5" textLength="19.6" lengthAdjust="spacingAndGlyphs" x="973.8" y="534.3">C28</text>
<text font-size="10.5" textLength="18.2" lengthAdjust="spacingAndGlyphs" x="976" y="589.7">C27</text>
<text font-size="10.5" textLength="18.6" lengthAdjust="spacingAndGlyphs" x="1023" y="528.3">SW1</text>
</g>
<g id="pads">
<rect x="257.9" y="6.6" width="8.2" height="42.2" fill="#dcaa18"/>
<rect x="257.9" y="630.4" width="8.2" height="42.2" fill="#dcaa18"/>
<rect x="273.29" y="6.6" width="8.2" height="42.2" fill="#dcaa18"/>
<rect x="273.29" y="630.4" width="8.2" height="42.2" fill="#dcaa18"/>
<rect x="288.68" y="6.6" width="8.2" height="42.2" fill="#dcaa18"/>
<rect x="288.68" y="630.4" width="8.2" height="42.2" fill="#dcaa18"/>
<rect x="304.07" y="6.6" width="8.2" height="42.2" fill="#dcaa18"/>
<rect x="304.07" y="630.4" width="8.2" height="42.2" fill="#dcaa18"/>
<rect x="319.46" y="6.6" width="8.2" height="42.2" fill="#dcaa18"/>
<rect x="319.46" y="630.4" width="8.2" height="42.2" fill="#dcaa18"/>
<rect x="334.85" y="6.6" width="8.2" height="42.2" fill="#dcaa18"/>
<rect x="334.85" y="630.4" width="8.2" height="42.2" fill="#dcaa18"/>
<rect x="350.24" y="6.6" width="8.2" height="42.2" fill="#dcaa18"/>
<rect x="350.24" y="630.4" width="8.2" height="42.2" fill="#dcaa18"/>
<rect x="365.63" y="6.6" width="8.2" height="42.2" fill="#dcaa18"/>
<rect x="365.63" y="630.4" width="8.2" height="42.2" fill="#dcaa18"/>
<rect x="381.02" y="6.6" width="8.2" height="42.2" fill="#dcaa18"/>
<rect x="381.02" y="630.4" width="8.2" height="42.2" fill="#dcaa18"/>
<rect x="396.41" y="6.6" width="8.2" height="42.2" fill="#dcaa18"/>
<rect x="396.41" y="630.4" width="8.2" height="42.2" fill="#dcaa18"/>
<rect x="411.8" y="6.6" width="8.2" height="42.2" fill="#dcaa18"/>
<rect x="411.8" y="630.4" width="8.2" height="42.2" fill="#dcaa18"/>
<rect x="427.19" y="6.6" width="8.2" height="42.2" fill="#dcaa18"/>
<rect x="427.19" y="630.4" width="8.2" height="42.2" fill="#dcaa18"/>
<rect x="442.58" y="6.6" width="8.2" height="42.2" fill="#dcaa18"/>
<rect x="442.58" y="630.4" width="8.2" height="42.2" fill="#dcaa18"/>
<rect x="457.97" y="6.6" width="8.2" height="42.2" fill="#dcaa18"/>
<rect x="457.97" y="630.4" width="8.2" height="42.2" fill="#dcaa18"/>
<rect x="473.36" y="6.6" width="8.2" height="42.2" fill="#dcaa18"/>
<rect x="473.36" y="630.4" width="8.2" height="42.2" fill="#dcaa18"/>
<rect x="488.75" y="6.6" width="8.2" height="42.2" fill="#dcaa18"/>
<rect x="488.75" y="630.4" width="8.2" height="42.2" fill="#dcaa18"/>
<rect x="504.14" y="6.6" width="8.2" height="42.2" fill="#dcaa18"/>
<rect x="504.14" y="630.4" width="8.2" height="42.2" fill="#dcaa18"/>
<rect x="519.53" y="6.6" width="8.2" height="42.2" fill="#dcaa18"/>
<rect x="519.53" y="630.4" width="8.2" height="42.2" fill="#dcaa18"/>
<rect x="534.92" y="6.6" width="8.2" height="42.2" fill="#dcaa18"/>
<rect x="534.92" y="630.4" width="8.2" height="42.2" fill="#dcaa18"/>
<rect x="550.31" y="6.6" width="8.2" height="42.2" fill="#dcaa18"/>
<rect x="550.31" y="630.4" width="8.2" height="42.2" fill="#dcaa18"/>
<rect x="565.7" y="6.6" width="8.2" height="42.2" fill="#dcaa18"/>
<rect x="565.7" y="630.4" width="8.2" height="42.2" fill="#dcaa18"/>
<rect x="581.09" y="6.6" width="8.2" height="42.2" fill="#dcaa18"/>
<rect x="581.09" y="630.4" width="8.2" height="42.2" fill="#dcaa18"/>
<circle cx="261.9" cy="71.5" r="5.05" fill="#dcaa18"/>
<circle cx="261.9" cy="71.5" r="3.35" fill="#000000"/>
<circle cx="261.9" cy="86.9" r="5.05" fill="#dcaa18"/>
<circle cx="261.9" cy="86.9" r="3.35" fill="#000000"/>
<circle cx="277.29" cy="71.5" r="5.05" fill="#dcaa18"/>
<circle cx="277.29" cy="71.5" r="3.35" fill="#000000"/>
<circle cx="277.29" cy="86.9" r="5.05" fill="#dcaa18"/>
<circle cx="277.29" cy="86.9" r="3.35" fill="#000000"/>
<circle cx="292.68" cy="71.5" r="5.05" fill="#dcaa18"/>
<circle cx="292.68" cy="71.5" r="3.35" fill="#000000"/>
<circle cx="292.68" cy="86.9" r="5.05" fill="#dcaa18"/>
<circle cx="292.68" cy="86.9" r="3.35" fill="#000000"/>
<circle cx="308.07" cy="71.5" r="5.05" fill="#dcaa18"/>
<circle cx="308.07" cy="71.5" r="3.35" fill="#000000"/>
<circle cx="308.07" cy="86.9" r="5.05" fill="#dcaa18"/>
<circle cx="308.07" cy="86.9" r="3.35" fill="#000000"/>
<circle cx="323.46" cy="71.5" r="5.05" fill="#dcaa18"/>
<circle cx="323.46" cy="71.5" r="3.35" fill="#000000"/>
<circle cx="323.46" cy="86.9" r="5.05" fill="#dcaa18"/>
<circle cx="323.46" cy="86.9" r="3.35" fill="#000000"/>
<circle cx="338.85" cy="71.5" r="5.05" fill="#dcaa18"/>
<circle cx="338.85" cy="71.5" r="3.35" fill="#000000"/>
<circle cx="338.85" cy="86.9" r="5.05" fill="#dcaa18"/>
<circle cx="338.85" cy="86.9" r="3.35" fill="#000000"/>
<circle cx="354.24" cy="71.5" r="5.05" fill="#dcaa18"/>
<circle cx="354.24" cy="71.5" r="3.35" fill="#000000"/>
<circle cx="354.24" cy="86.9" r="5.05" fill="#dcaa18"/>
<circle cx="354.24" cy="86.9" r="3.35" fill="#000000"/>
<circle cx="369.63" cy="71.5" r="5.05" fill="#dcaa18"/>
<circle cx="369.63" cy="71.5" r="3.35" fill="#000000"/>
<circle cx="369.63" cy="86.9" r="5.05" fill="#dcaa18"/>
<circle cx="369.63" cy="86.9" r="3.35" fill="#000000"/>
<circle cx="385.02" cy="71.5" r="5.05" fill="#dcaa18"/>
<circle cx="385.02" cy="71.5" r="3.35" fill="#000000"/>
<circle cx="385.02" cy="86.9" r="5.05" fill="#dcaa18"/>
<circle cx="385.02" cy="86.9" r="3.35" fill="#000000"/>
<circle cx="400.41" cy="71.5" r="5.05" fill="#dcaa18"/>
<circle cx="400.41" cy="71.5" r="3.35" fill="#000000"/>
<circle cx="400.41" cy="86.9" r="5.05" fill="#dcaa18"/>
<circle cx="400.41" cy="86.9" r="3.35" fill="#000000"/>
<circle cx="415.8" cy="71.5" r="5.05" fill="#dcaa18"/>
<circle cx="415.8" cy="71.5" r="3.35" fill="#000000"/>
<circle cx="415.8" cy="86.9" r="5.05" fill="#dcaa18"/>
<circle cx="415.8" cy="86.9" r="3.35" fill="#000000"/>
<circle cx="431.19" cy="71.5" r="5.05" fill="#dcaa18"/>
<circle cx="431.19" cy="71.5" r="3.35" fill="#000000"/>
<circle cx="431.19" cy="86.9" r="5.05" fill="#dcaa18"/>
<circle cx="431.19" cy="86.9" r="3.35" fill="#000000"/>
<circle cx="446.58" cy="71.5" r="5.05" fill="#dcaa18"/>
<circle cx="446.58" cy="71.5" r="3.35" fill="#000000"/>
<circle cx="446.58" cy="86.9" r="5.05" fill="#dcaa18"/>
<circle cx="446.58" cy="86.9" r="3.35" fill="#000000"/>
<circle cx="461.97" cy="71.5" r="5.05" fill="#dcaa18"/>
<circle cx="461.97" cy="71.5" r="3.35" fill="#000000"/>
<circle cx="461.97" cy="86.9" r="5.05" fill="#dcaa18"/>
<circle cx="461.97" cy="86.9" r="3.35" fill="#000000"/>
<circle cx="477.36" cy="71.5" r="5.05" fill="#dcaa18"/>
<circle cx="477.36" cy="71.5" r="3.35" fill="#000000"/>
<circle cx="477.36" cy="86.9" r="5.05" fill="#dcaa18"/>
<circle cx="477.36" cy="86.9" r="3.35" fill="#000000"/>
<circle cx="492.75" cy="71.5" r="5.05" fill="#dcaa18"/>
<circle cx="492.75" cy="71.5" r="3.35" fill="#000000"/>
<circle cx="492.75" cy="86.9" r="5.05" fill="#dcaa18"/>
<circle cx="492.75" cy="86.9" r="3.35" fill="#000000"/>
<circle cx="508.14" cy="71.5" r="5.05" fill="#dcaa18"/>
<circle cx="508.14" cy="71.5" r="3.35" fill="#000000"/>
<circle cx="508.14" cy="86.9" r="5.05" fill="#dcaa18"/>
<circle cx="508.14" cy="86.9" r="3.35" fill="#000000"/>
<circle cx="523.53" cy="71.5" r="5.05" fill="#dcaa18"/>
<circle cx="523.53" cy="71.5" r="3.35" fill="#000000"/>
<circle cx="523.53" cy="86.9" r="5.05" fill="#dcaa18"/>
<circle cx="523.53" cy="86.9" r="3.35" fill="#000000"/>
<circle cx="538.92" cy="71.5" r="5.05" fill="#dcaa18"/>
<circle cx="538.92" cy="71.5" r="3.35" fill="#000000"/>
<circle cx="538.92" cy="86.9" r="5.05" fill="#dcaa18"/>
<circle cx="538.92" cy="86.9" r="3.35" fill="#000000"/>
<circle cx="554.31" cy="71.5" r="5.05" fill="#dcaa18"/>
<circle cx="554.31" cy="71.5" r="3.35" fill="#000000"/>
<circle cx="554.31" cy="86.9" r="5.05" fill="#dcaa18"/>
<circle cx="554.31" cy="86.9" r="3.35" fill="#000000"/>
<circle cx="569.7" cy="71.5" r="5.05" fill="#dcaa18"/>
<circle cx="569.7" cy="71.5" r="3.35" fill="#000000"/>
<circle cx="569.7" cy="86.9" r="5.05" fill="#dcaa18"/>
<circle cx="569.7" cy="86.9" r="3.35" fill="#000000"/>
<rect x="580.04" y="66.45" width="10.1" height="10.1" fill="#dcaa18"/>
<circle cx="585.09" cy="71.5" r="3.35" fill="#000000"/>
<circle cx="585.09" cy="86.9" r="5.05" fill="#dcaa18"/>
<circle cx="585.09" cy="86.9" r="3.35" fill="#000000"/>
<circle cx="261.9" cy="595.2" r="5.05" fill="#dcaa18"/>
<circle cx="261.9" cy="595.2" r="3.35" fill="#000000"/>
<circle cx="261.9" cy="610.6" r="5.05" fill="#dcaa18"/>
<circle cx="261.9" cy="610.6" r="3.35" fill="#000000"/>
<circle cx="277.29" cy="595.2" r="5.05" fill="#dcaa18"/>
<circle cx="277.29" cy="595.2" r="3.35" fill="#000000"/>
<circle cx="277.29" cy="610.6" r="5.05" fill="#dcaa18"/>
<circle cx="277.29" cy="610.6" r="3.35" fill="#000000"/>
<circle cx="292.68" cy="595.2" r="5.05" fill="#dcaa18"/>
<circle cx="292.68" cy="595.2" r="3.35" fill="#000000"/>
<circle cx="292.68" cy="610.6" r="5.05" fill="#dcaa18"/>
<circle cx="292.68" cy="610.6" r="3.35" fill="#000000"/>
<circle cx="308.07" cy="595.2" r="5.05" fill="#dcaa18"/>
<circle cx="308.07" cy="595.2" r="3.35" fill="#000000"/>
<circle cx="308.07" cy="610.6" r="5.05" fill="#dcaa18"/>
<circle cx="308.07" cy="610.6" r="3.35" fill="#000000"/>
<circle cx="323.46" cy="595.2" r="5.05" fill="#dcaa18"/>
<circle cx="323.46" cy="595.2" r="3.35" fill="#000000"/>
<circle cx="323.46" cy="610.6" r="5.05" fill="#dcaa18"/>
<circle cx="323.46" cy="610.6" r="3.35" fill="#000000"/>
<circle cx="338.85" cy="595.2" r="5.05" fill="#dcaa18"/>
<circle cx="338.85" cy="595.2" r="3.35" fill="#000000"/>
<circle cx="338.85" cy="610.6" r="5.05" fill="#dcaa18"/>
<circle cx="338.85" cy="610.6" r="3.35" fill="#000000"/>
<circle cx="354.24" cy="595.2" r="5.05" fill="#dcaa18"/>
<circle cx="354.24" cy="595.2" r="3.35" fill="#000000"/>
<circle cx="354.24" cy="610.6" r="5.05" fill="#dcaa18"/>
<circle cx="354.24" cy="610.6" r="3.35" fill="#000000"/>
<circle cx="369.63" cy="595.2" r="5.05" fill="#dcaa18"/>
<circle cx="369.63" cy="595.2" r="3.35" fill="#000000"/>
<circle cx="369.63" cy="610.6" r="5.05" fill="#dcaa18"/>
<circle cx="369.63" cy="610.6" r="3.35" fill="#000000"/>
<circle cx="385.02" cy="595.2" r="5.05" fill="#dcaa18"/>
<circle cx="385.02" cy="595.2" r="3.35" fill="#000000"/>
<circle cx="385.02" cy="610.6" r="5.05" fill="#dcaa18"/>
<circle cx="385.02" cy="610.6" r="3.35" fill="#000000"/>
<circle cx="400.41" cy="595.2" r="5.05" fill="#dcaa18"/>
<circle cx="400.41" cy="595.2" r="3.35" fill="#000000"/>
<circle cx="400.41" cy="610.6" r="5.05" fill="#dcaa18"/>
<circle cx="400.41" cy="610.6" r="3.35" fill="#000000"/>
<circle cx="415.8" cy="595.2" r="5.05" fill="#dcaa18"/>
<circle cx="415.8" cy="595.2" r="3.35" fill="#000000"/>
<circle cx="415.8" cy="610.6" r="5.05" fill="#dcaa18"/>
<circle cx="415.8" cy="610.6" r="3.35" fill="#000000"/>
<circle cx="431.19" cy="595.2" r="5.05" fill="#dcaa18"/>
<circle cx="431.19" cy="595.2" r="3.35" fill="#000000"/>
<circle cx="431.19" cy="610.6" r="5.05" fill="#dcaa18"/>
<circle cx="431.19" cy="610.6" r="3.35" fill="#000000"/>
<circle cx="446.58" cy="595.2" r="5.05" fill="#dcaa18"/>
<circle cx="446.58" cy="595.2" r="3.35" fill="#000000"/>
<circle cx="446.58" cy="610.6" r="5.05" fill="#dcaa18"/>
<circle cx="446.58" cy="610.6" r="3.35" fill="#000000"/>
<circle cx="461.97" cy="595.2" r="5.05" fill="#dcaa18"/>
<circle cx="461.97" cy="595.2" r="3.35" fill="#000000"/>
<circle cx="461.97" cy="610.6" r="5.05" fill="#dcaa18"/>
<circle cx="461.97" cy="610.6" r="3.35" fill="#000000"/>
<circle cx="477.36" cy="595.2" r="5.05" fill="#dcaa18"/>
<circle cx="477.36" cy="595.2" r="3.35" fill="#000000"/>
<circle cx="477.36" cy="610.6" r="5.05" fill="#dcaa18"/>
<circle cx="477.36" cy="610.6" r="3.35" fill="#000000"/>
<circle cx="492.75" cy="595.2" r="5.05" fill="#dcaa18"/>
<circle cx="492.75" cy="595.2" r="3.35" fill="#000000"/>
<circle cx="492.75" cy="610.6" r="5.05" fill="#dcaa18"/>
<circle cx="492.75" cy="610.6" r="3.35" fill="#000000"/>
<circle cx="508.14" cy="595.2" r="5.05" fill="#dcaa18"/>
<circle cx="508.14" cy="595.2" r="3.35" fill="#000000"/>
<circle cx="508.14" cy="610.6" r="5.05" fill="#dcaa18"/>
<circle cx="508.14" cy="610.6" r="3.35" fill="#000000"/>
<circle cx="523.53" cy="595.2" r="5.05" fill="#dcaa18"/>
<circle cx="523.53" cy="595.2" r="3.35" fill="#000000"/>
<circle cx="523.53" cy="610.6" r="5.05" fill="#dcaa18"/>
<circle cx="523.53" cy="610.6" r="3.35" fill="#000000"/>
<circle cx="538.92" cy="595.2" r="5.05" fill="#dcaa18"/>
<circle cx="538.92" cy="595.2" r="3.35" fill="#000000"/>
<circle cx="538.92" cy="610.6" r="5.05" fill="#dcaa18"/>
<circle cx="538.92" cy="610.6" r="3.35" fill="#000000"/>
<circle cx="554.31" cy="595.2" r="5.05" fill="#dcaa18"/>
<circle cx="554.31" cy="595.2" r="3.35" fill="#000000"/>
<circle cx="554.31" cy="610.6" r="5.05" fill="#dcaa18"/>
<circle cx="554.31" cy="610.6" r="3.35" fill="#000000"/>
<circle cx="569.7" cy="595.2" r="5.05" fill="#dcaa18"/>
<circle cx="569.7" cy="595.2" r="3.35" fill="#000000"/>
<circle cx="569.7" cy="610.6" r="5.05" fill="#dcaa18"/>
<circle cx="569.7" cy="610.6" r="3.35" fill="#000000"/>
<rect x="580.04" y="590.15" width="10.1" height="10.1" fill="#dcaa18"/>
<circle cx="585.09" cy="595.2" r="3.35" fill="#000000"/>
<circle cx="585.09" cy="610.6" r="5.05" fill="#dcaa18"/>
<circle cx="585.09" cy="610.6" r="3.35" fill="#000000"/>
<circle cx="25.8" cy="66.8" r="6" fill="#000"/>
<circle cx="26" cy="624.2" r="6" fill="#000"/>
<circle cx="625.7" cy="66.9" r="6" fill="#000"/>
<circle cx="625.7" cy="624.2" r="6" fill="#000"/>
<circle cx="38.4" cy="86.8" r="4.35" fill="#dcaa18"/>
<circle cx="38.4" cy="86.8" r="2" fill="#000000"/>
<circle cx="130.7" cy="86.8" r="4.35" fill="#dcaa18"/>
<circle cx="130.7" cy="86.8" r="2" fill="#000000"/>
<circle cx="38.4" cy="102.19" r="4.35" fill="#dcaa18"/>
<circle cx="38.4" cy="102.19" r="2" fill="#000000"/>
<circle cx="130.7" cy="102.19" r="4.35" fill="#dcaa18"/>
<circle cx="130.7" cy="102.19" r="2" fill="#000000"/>
<rect x="33.2" y="112.38" width="10.4" height="10.4" fill="#dcaa18"/>
<circle cx="38.4" cy="117.58" r="2.2" fill="#000000"/>
<rect x="124.95" y="112.98" width="11.5" height="9.2" rx="4.6" fill="#dcaa18"/>
<circle cx="130.7" cy="117.58" r="2.2" fill="#000000"/>
<rect x="32.85" y="128.37" width="11.1" height="9.2" rx="4.6" fill="#dcaa18"/>
<circle cx="38.4" cy="132.97" r="2.2" fill="#000000"/>
<rect x="124.95" y="128.37" width="11.5" height="9.2" rx="4.6" fill="#dcaa18"/>
<circle cx="130.7" cy="132.97" r="2.2" fill="#000000"/>
<rect x="32.85" y="143.76" width="11.1" height="9.2" rx="4.6" fill="#dcaa18"/>
<circle cx="38.4" cy="148.36" r="2.2" fill="#000000"/>
<rect x="124.95" y="143.76" width="11.5" height="9.2" rx="4.6" fill="#dcaa18"/>
<circle cx="130.7" cy="148.36" r="2.2" fill="#000000"/>
<rect x="32.85" y="159.15" width="11.1" height="9.2" rx="4.6" fill="#dcaa18"/>
<circle cx="38.4" cy="163.75" r="2.2" fill="#000000"/>
<rect x="124.95" y="159.15" width="11.5" height="9.2" rx="4.6" fill="#dcaa18"/>
<circle cx="130.7" cy="163.75" r="2.2" fill="#000000"/>
<rect x="32.85" y="174.54" width="11.1" height="9.2" rx="4.6" fill="#dcaa18"/>
<circle cx="38.4" cy="179.14" r="2.2" fill="#000000"/>
<rect x="124.95" y="174.54" width="11.5" height="9.2" rx="4.6" fill="#dcaa18"/>
<circle cx="130.7" cy="179.14" r="2.2" fill="#000000"/>
<rect x="32.85" y="189.93" width="11.1" height="9.2" rx="4.6" fill="#dcaa18"/>
<circle cx="38.4" cy="194.53" r="2.2" fill="#000000"/>
<rect x="124.95" y="189.93" width="11.5" height="9.2" rx="4.6" fill="#dcaa18"/>
<circle cx="130.7" cy="194.53" r="2.2" fill="#000000"/>
<rect x="32.85" y="205.32" width="11.1" height="9.2" rx="4.6" fill="#dcaa18"/>
<circle cx="38.4" cy="209.92" r="2.2" fill="#000000"/>
<rect x="124.95" y="205.32" width="11.5" height="9.2" rx="4.6" fill="#dcaa18"/>
<circle cx="130.7" cy="209.92" r="2.2" fill="#000000"/>
<rect x="32.85" y="220.71" width="11.1" height="9.2" rx="4.6" fill="#dcaa18"/>
<circle cx="38.4" cy="225.31" r="2.2" fill="#000000"/>
<rect x="124.95" y="220.71" width="11.5" height="9.2" rx="4.6" fill="#dcaa18"/>
<circle cx="130.7" cy="225.31" r="2.2" fill="#000000"/>
<rect x="32.85" y="236.1" width="11.1" height="9.2" rx="4.6" fill="#dcaa18"/>
<circle cx="38.4" cy="240.7" r="2.2" fill="#000000"/>
<rect x="124.95" y="236.1" width="11.5" height="9.2" rx="4.6" fill="#dcaa18"/>
<circle cx="130.7" cy="240.7" r="2.2" fill="#000000"/>
<rect x="32.85" y="251.49" width="11.1" height="9.2" rx="4.6" fill="#dcaa18"/>
<circle cx="38.4" cy="256.09" r="2.2" fill="#000000"/>
<rect x="124.95" y="251.49" width="11.5" height="9.2" rx="4.6" fill="#dcaa18"/>
<circle cx="130.7" cy="256.09" r="2.2" fill="#000000"/>
<rect x="32.85" y="266.88" width="11.1" height="9.2" rx="4.6" fill="#dcaa18"/>
<circle cx="38.4" cy="271.48" r="2.2" fill="#000000"/>
<rect x="124.95" y="266.88" width="11.5" height="9.2" rx="4.6" fill="#dcaa18"/>
<circle cx="130.7" cy="271.48" r="2.2" fill="#000000"/>
<rect x="32.85" y="282.27" width="11.1" height="9.2" rx="4.6" fill="#dcaa18"/>
<circle cx="38.4" cy="286.87" r="2.2" fill="#000000"/>
<rect x="124.95" y="282.27" width="11.5" height="9.2" rx="4.6" fill="#dcaa18"/>
<circle cx="130.7" cy="286.87" r="2.2" fill="#000000"/>
<circle cx="146" cy="64.2" r="4.2" fill="#dcaa18"/>
<circle cx="146" cy="64.2" r="2.3" fill="#000000"/>
<circle cx="146" cy="79.3" r="4.2" fill="#dcaa18"/>
<circle cx="146" cy="79.3" r="2.3" fill="#000000"/>
<circle cx="169.2" cy="64" r="5.45" fill="#dcaa18"/>
<circle cx="169.2" cy="64" r="3.2" fill="#000000"/>
<circle cx="215.3" cy="64" r="5.45" fill="#dcaa18"/>
<circle cx="215.3" cy="64" r="3.2" fill="#000000"/>
<circle cx="169.2" cy="79.39" r="5.45" fill="#dcaa18"/>
<circle cx="169.2" cy="79.39" r="3.2" fill="#000000"/>
<circle cx="215.3" cy="79.39" r="5.45" fill="#dcaa18"/>
<circle cx="215.3" cy="79.39" r="3.2" fill="#000000"/>
<circle cx="169.2" cy="94.78" r="5.45" fill="#dcaa18"/>
<circle cx="169.2" cy="94.78" r="3.2" fill="#000000"/>
<circle cx="215.3" cy="94.78" r="5.45" fill="#dcaa18"/>
<circle cx="215.3" cy="94.78" r="3.2" fill="#000000"/>
<circle cx="169.2" cy="110.17" r="5.45" fill="#dcaa18"/>
<circle cx="169.2" cy="110.17" r="3.2" fill="#000000"/>
<circle cx="215.3" cy="110.17" r="5.45" fill="#dcaa18"/>
<circle cx="215.3" cy="110.17" r="3.2" fill="#000000"/>
<circle cx="169.2" cy="125.56" r="5.45" fill="#dcaa18"/>
<circle cx="169.2" cy="125.56" r="3.2" fill="#000000"/>
<circle cx="215.3" cy="125.56" r="5.45" fill="#dcaa18"/>
<circle cx="215.3" cy="125.56" r="3.2" fill="#000000"/>
<circle cx="169.2" cy="140.95" r="5.45" fill="#dcaa18"/>
<circle cx="169.2" cy="140.95" r="3.2" fill="#000000"/>
<circle cx="215.3" cy="140.95" r="5.45" fill="#dcaa18"/>
<circle cx="215.3" cy="140.95" r="3.2" fill="#000000"/>
<circle cx="169.2" cy="156.34" r="5.45" fill="#dcaa18"/>
<circle cx="169.2" cy="156.34" r="3.2" fill="#000000"/>
<circle cx="215.3" cy="156.34" r="5.45" fill="#dcaa18"/>
<circle cx="215.3" cy="156.34" r="3.2" fill="#000000"/>
<circle cx="169.2" cy="171.73" r="5.45" fill="#dcaa18"/>
<circle cx="169.2" cy="171.73" r="3.2" fill="#000000"/>
<circle cx="215.3" cy="171.73" r="5.45" fill="#dcaa18"/>
<circle cx="215.3" cy="171.73" r="3.2" fill="#000000"/>
<circle cx="169.2" cy="187.12" r="5.45" fill="#dcaa18"/>
<circle cx="169.2" cy="187.12" r="3.2" fill="#000000"/>
<circle cx="215.3" cy="187.12" r="5.45" fill="#dcaa18"/>
<circle cx="215.3" cy="187.12" r="3.2" fill="#000000"/>
<circle cx="169.2" cy="202.51" r="5.45" fill="#dcaa18"/>
<circle cx="169.2" cy="202.51" r="3.2" fill="#000000"/>
<circle cx="215.3" cy="202.51" r="5.45" fill="#dcaa18"/>
<circle cx="215.3" cy="202.51" r="3.2" fill="#000000"/>
<circle cx="169.2" cy="248.8" r="5.45" fill="#dcaa18"/>
<circle cx="169.2" cy="248.8" r="3.2" fill="#000000"/>
<circle cx="215.3" cy="248.8" r="5.45" fill="#dcaa18"/>
<circle cx="215.3" cy="248.8" r="3.2" fill="#000000"/>
<circle cx="169.2" cy="264.19" r="5.45" fill="#dcaa18"/>
<circle cx="169.2" cy="264.19" r="3.2" fill="#000000"/>
<circle cx="215.3" cy="264.19" r="5.45" fill="#dcaa18"/>
<circle cx="215.3" cy="264.19" r="3.2" fill="#000000"/>
<circle cx="169.2" cy="279.58" r="5.45" fill="#dcaa18"/>
<circle cx="169.2" cy="279.58" r="3.2" fill="#000000"/>
<circle cx="215.3" cy="279.58" r="5.45" fill="#dcaa18"/>
<circle cx="215.3" cy="279.58" r="3.2" fill="#000000"/>
<circle cx="169.2" cy="294.97" r="5.45" fill="#dcaa18"/>
<circle cx="169.2" cy="294.97" r="3.2" fill="#000000"/>
<circle cx="215.3" cy="294.97" r="5.45" fill="#dcaa18"/>
<circle cx="215.3" cy="294.97" r="3.2" fill="#000000"/>
<circle cx="169.2" cy="310.36" r="5.45" fill="#dcaa18"/>
<circle cx="169.2" cy="310.36" r="3.2" fill="#000000"/>
<circle cx="215.3" cy="310.36" r="5.45" fill="#dcaa18"/>
<circle cx="215.3" cy="310.36" r="3.2" fill="#000000"/>
<circle cx="169.2" cy="325.75" r="5.45" fill="#dcaa18"/>
<circle cx="169.2" cy="325.75" r="3.2" fill="#000000"/>
<circle cx="215.3" cy="325.75" r="5.45" fill="#dcaa18"/>
<circle cx="215.3" cy="325.75" r="3.2" fill="#000000"/>
<circle cx="169.2" cy="341.14" r="5.45" fill="#dcaa18"/>
<circle cx="169.2" cy="341.14" r="3.2" fill="#000000"/>
<circle cx="215.3" cy="341.14" r="5.45" fill="#dcaa18"/>
<circle cx="215.3" cy="341.14" r="3.2" fill="#000000"/>
<circle cx="169.2" cy="356.53" r="5.45" fill="#dcaa18"/>
<circle cx="169.2" cy="356.53" r="3.2" fill="#000000"/>
<circle cx="215.3" cy="356.53" r="5.45" fill="#dcaa18"/>
<circle cx="215.3" cy="356.53" r="3.2" fill="#000000"/>
<circle cx="169.2" cy="371.92" r="5.45" fill="#dcaa18"/>
<circle cx="169.2" cy="371.92" r="3.2" fill="#000000"/>
<circle cx="215.3" cy="371.92" r="5.45" fill="#dcaa18"/>
<circle cx="215.3" cy="371.92" r="3.2" fill="#000000"/>
<circle cx="169.2" cy="387.31" r="5.45" fill="#dcaa18"/>
<circle cx="169.2" cy="387.31" r="3.2" fill="#000000"/>
<circle cx="215.3" cy="387.31" r="5.45" fill="#dcaa18"/>
<circle cx="215.3" cy="387.31" r="3.2" fill="#000000"/>
<circle cx="169.2" cy="425.4" r="5.45" fill="#dcaa18"/>
<circle cx="169.2" cy="425.4" r="3.2" fill="#000000"/>
<circle cx="215.3" cy="425.4" r="5.45" fill="#dcaa18"/>
<circle cx="215.3" cy="425.4" r="3.2" fill="#000000"/>
<circle cx="169.2" cy="440.79" r="5.45" fill="#dcaa18"/>
<circle cx="169.2" cy="440.79" r="3.2" fill="#000000"/>
<circle cx="215.3" cy="440.79" r="5.45" fill="#dcaa18"/>
<circle cx="215.3" cy="440.79" r="3.2" fill="#000000"/>
<circle cx="169.2" cy="456.18" r="5.45" fill="#dcaa18"/>
<circle cx="169.2" cy="456.18" r="3.2" fill="#000000"/>
<circle cx="215.3" cy="456.18" r="5.45" fill="#dcaa18"/>
<circle cx="215.3" cy="456.18" r="3.2" fill="#000000"/>
<circle cx="169.2" cy="471.57" r="5.45" fill="#dcaa18"/>
<circle cx="169.2" cy="471.57" r="3.2" fill="#000000"/>
<circle cx="215.3" cy="471.57" r="5.45" fill="#dcaa18"/>
<circle cx="215.3" cy="471.57" r="3.2" fill="#000000"/>
<circle cx="169.2" cy="486.96" r="5.45" fill="#dcaa18"/>
<circle cx="169.2" cy="486.96" r="3.2" fill="#000000"/>
<circle cx="215.3" cy="486.96" r="5.45" fill="#dcaa18"/>
<circle cx="215.3" cy="486.96" r="3.2" fill="#000000"/>
<circle cx="169.2" cy="502.35" r="5.45" fill="#dcaa18"/>
<circle cx="169.2" cy="502.35" r="3.2" fill="#000000"/>
<circle cx="215.3" cy="502.35" r="5.45" fill="#dcaa18"/>
<circle cx="215.3" cy="502.35" r="3.2" fill="#000000"/>
<circle cx="169.2" cy="517.74" r="5.45" fill="#dcaa18"/>
<circle cx="169.2" cy="517.74" r="3.2" fill="#000000"/>
<circle cx="215.3" cy="517.74" r="5.45" fill="#dcaa18"/>
<circle cx="215.3" cy="517.74" r="3.2" fill="#000000"/>
<circle cx="169.2" cy="533.13" r="5.45" fill="#dcaa18"/>
<circle cx="169.2" cy="533.13" r="3.2" fill="#000000"/>
<circle cx="215.3" cy="533.13" r="5.45" fill="#dcaa18"/>
<circle cx="215.3" cy="533.13" r="3.2" fill="#000000"/>
<circle cx="169.2" cy="548.52" r="5.45" fill="#dcaa18"/>
<circle cx="169.2" cy="548.52" r="3.2" fill="#000000"/>
<circle cx="215.3" cy="548.52" r="5.45" fill="#dcaa18"/>
<circle cx="215.3" cy="548.52" r="3.2" fill="#000000"/>
<circle cx="169.2" cy="563.91" r="5.45" fill="#dcaa18"/>
<circle cx="169.2" cy="563.91" r="3.2" fill="#000000"/>
<circle cx="215.3" cy="563.91" r="5.45" fill="#dcaa18"/>
<circle cx="215.3" cy="563.91" r="3.2" fill="#000000"/>
<rect x="29" y="320.25" width="12.2" height="28.5" rx="6.1" fill="#dcaa18"/>
<rect x="32.05" y="323.25" width="6.1" height="22.5" rx="3.05" fill="#000000"/>
<rect x="66.8" y="320.25" width="12.2" height="28.5" rx="6.1" fill="#dcaa18"/>
<rect x="69.85" y="323.25" width="6.1" height="22.5" rx="3.05" fill="#000000"/>
<rect x="40.95" y="357.05" width="27.3" height="11.9" rx="5.95" fill="#dcaa18"/>
<rect x="43.8" y="359.85" width="21.6" height="6.3" rx="3.15" fill="#000000"/>
<line x1="32.1" y1="336.7" x2="38.1" y2="336.7" stroke="#555" stroke-width="0.5"/>
<line x1="69.9" y1="336.7" x2="75.9" y2="336.7" stroke="#555" stroke-width="0.5"/>
<line x1="54.5" y1="359.9" x2="54.5" y2="366.1" stroke="#777" stroke-width="0.6"/>
<rect x="29" y="389.5" width="12.2" height="28.5" rx="6.1" fill="#dcaa18"/>
<rect x="32.05" y="392.5" width="6.1" height="22.5" rx="3.05" fill="#000000"/>
<rect x="66.8" y="389.5" width="12.2" height="28.5" rx="6.1" fill="#dcaa18"/>
<rect x="69.85" y="392.5" width="6.1" height="22.5" rx="3.05" fill="#000000"/>
<rect x="40.95" y="426.3" width="27.3" height="11.9" rx="5.95" fill="#dcaa18"/>
<rect x="43.8" y="429.1" width="21.6" height="6.3" rx="3.15" fill="#000000"/>
<line x1="32.1" y1="405.95" x2="38.1" y2="405.95" stroke="#555" stroke-width="0.5"/>
<line x1="69.9" y1="405.95" x2="75.9" y2="405.95" stroke="#555" stroke-width="0.5"/>
<line x1="54.5" y1="429.15" x2="54.5" y2="435.35" stroke="#777" stroke-width="0.6"/>
<rect x="29" y="458.75" width="12.2" height="28.5" rx="6.1" fill="#dcaa18"/>
<rect x="32.05" y="461.75" width="6.1" height="22.5" rx="3.05" fill="#000000"/>
<rect x="66.8" y="458.75" width="12.2" height="28.5" rx="6.1" fill="#dcaa18"/>
<rect x="69.85" y="461.75" width="6.1" height="22.5" rx="3.05" fill="#000000"/>
<rect x="40.95" y="495.55" width="27.3" height="11.9" rx="5.95" fill="#dcaa18"/>
<rect x="43.8" y="498.35" width="21.6" height="6.3" rx="3.15" fill="#000000"/>
<line x1="32.1" y1="475.2" x2="38.1" y2="475.2" stroke="#555" stroke-width="0.5"/>
<line x1="69.9" y1="475.2" x2="75.9" y2="475.2" stroke="#555" stroke-width="0.5"/>
<line x1="54.5" y1="498.4" x2="54.5" y2="504.6" stroke="#777" stroke-width="0.6"/>
<rect x="29" y="528" width="12.2" height="28.5" rx="6.1" fill="#dcaa18"/>
<rect x="32.05" y="531" width="6.1" height="22.5" rx="3.05" fill="#000000"/>
<rect x="66.8" y="528" width="12.2" height="28.5" rx="6.1" fill="#dcaa18"/>
<rect x="69.85" y="531" width="6.1" height="22.5" rx="3.05" fill="#000000"/>
<rect x="40.95" y="564.8" width="27.3" height="11.9" rx="5.95" fill="#dcaa18"/>
<rect x="43.8" y="567.6" width="21.6" height="6.3" rx="3.15" fill="#000000"/>
<line x1="32.1" y1="544.45" x2="38.1" y2="544.45" stroke="#555" stroke-width="0.5"/>
<line x1="69.9" y1="544.45" x2="75.9" y2="544.45" stroke="#555" stroke-width="0.5"/>
<line x1="54.5" y1="567.65" x2="54.5" y2="573.85" stroke="#777" stroke-width="0.6"/>
<circle cx="107.8" cy="417.5" r="4.25" fill="#dcaa18"/>
<circle cx="107.8" cy="417.5" r="2.4" fill="#000000"/>
<circle cx="107.8" cy="464.9" r="4.25" fill="#dcaa18"/>
<circle cx="107.8" cy="464.9" r="2.4" fill="#000000"/>
<circle cx="107.8" cy="479.4" r="4.25" fill="#dcaa18"/>
<circle cx="107.8" cy="479.4" r="2.4" fill="#000000"/>
<circle cx="107.8" cy="526.8" r="4.25" fill="#dcaa18"/>
<circle cx="107.8" cy="526.8" r="2.4" fill="#000000"/>
<circle cx="146.4" cy="402.8" r="4.2" fill="#dcaa18"/>
<circle cx="146.4" cy="402.8" r="2.3" fill="#000000"/>
<circle cx="146.4" cy="418.2" r="4.2" fill="#dcaa18"/>
<circle cx="146.4" cy="418.2" r="2.3" fill="#000000"/>
<circle cx="54" cy="595.2" r="4.2" fill="#dcaa18"/>
<circle cx="54" cy="595.2" r="2.3" fill="#000000"/>
<circle cx="54" cy="610.1" r="4.2" fill="#dcaa18"/>
<circle cx="54" cy="610.1" r="2.3" fill="#000000"/>
<rect x="94.55" y="558.55" width="11.3" height="11.3" fill="#dcaa18"/>
<circle cx="100.2" cy="564.2" r="3.2" fill="#000000"/>
<circle cx="146.3" cy="564.2" r="5.65" fill="#dcaa18"/>
<circle cx="146.3" cy="564.2" r="3.2" fill="#000000"/>
<circle cx="100.2" cy="579.59" r="5.65" fill="#dcaa18"/>
<circle cx="100.2" cy="579.59" r="3.2" fill="#000000"/>
<circle cx="146.3" cy="579.59" r="5.65" fill="#dcaa18"/>
<circle cx="146.3" cy="579.59" r="3.2" fill="#000000"/>
<circle cx="100.2" cy="594.98" r="5.65" fill="#dcaa18"/>
<circle cx="100.2" cy="594.98" r="3.2" fill="#000000"/>
<circle cx="146.3" cy="594.98" r="5.65" fill="#dcaa18"/>
<circle cx="146.3" cy="594.98" r="3.2" fill="#000000"/>
<circle cx="100.2" cy="610.37" r="5.65" fill="#dcaa18"/>
<circle cx="100.2" cy="610.37" r="3.2" fill="#000000"/>
<circle cx="146.3" cy="610.37" r="5.65" fill="#dcaa18"/>
<circle cx="146.3" cy="610.37" r="3.2" fill="#000000"/>
<circle cx="176.9" cy="595.2" r="4.2" fill="#dcaa18"/>
<circle cx="176.9" cy="595.2" r="2.3" fill="#000000"/>
<circle cx="176.9" cy="610.1" r="4.2" fill="#dcaa18"/>
<circle cx="176.9" cy="610.1" r="2.3" fill="#000000"/>
<circle cx="646.8" cy="79.4" r="4.2" fill="#dcaa18"/>
<circle cx="646.8" cy="79.4" r="2.3" fill="#000000"/>
<circle cx="662.1" cy="79.4" r="4.2" fill="#dcaa18"/>
<circle cx="662.1" cy="79.4" r="2.3" fill="#000000"/>
<circle cx="615.8" cy="102.3" r="5.45" fill="#dcaa18"/>
<circle cx="615.8" cy="102.3" r="3.2" fill="#000000"/>
<circle cx="662.1" cy="102.3" r="5.45" fill="#dcaa18"/>
<circle cx="662.1" cy="102.3" r="3.2" fill="#000000"/>
<circle cx="615.8" cy="117.69" r="5.45" fill="#dcaa18"/>
<circle cx="615.8" cy="117.69" r="3.2" fill="#000000"/>
<circle cx="662.1" cy="117.69" r="5.45" fill="#dcaa18"/>
<circle cx="662.1" cy="117.69" r="3.2" fill="#000000"/>
<circle cx="615.8" cy="133.08" r="5.45" fill="#dcaa18"/>
<circle cx="615.8" cy="133.08" r="3.2" fill="#000000"/>
<circle cx="662.1" cy="133.08" r="5.45" fill="#dcaa18"/>
<circle cx="662.1" cy="133.08" r="3.2" fill="#000000"/>
<circle cx="615.8" cy="148.47" r="5.45" fill="#dcaa18"/>
<circle cx="615.8" cy="148.47" r="3.2" fill="#000000"/>
<circle cx="662.1" cy="148.47" r="5.45" fill="#dcaa18"/>
<circle cx="662.1" cy="148.47" r="3.2" fill="#000000"/>
<circle cx="615.8" cy="163.86" r="5.45" fill="#dcaa18"/>
<circle cx="615.8" cy="163.86" r="3.2" fill="#000000"/>
<circle cx="662.1" cy="163.86" r="5.45" fill="#dcaa18"/>
<circle cx="662.1" cy="163.86" r="3.2" fill="#000000"/>
<circle cx="615.8" cy="179.25" r="5.45" fill="#dcaa18"/>
<circle cx="615.8" cy="179.25" r="3.2" fill="#000000"/>
<circle cx="662.1" cy="179.25" r="5.45" fill="#dcaa18"/>
<circle cx="662.1" cy="179.25" r="3.2" fill="#000000"/>
<circle cx="615.8" cy="194.64" r="5.45" fill="#dcaa18"/>
<circle cx="615.8" cy="194.64" r="3.2" fill="#000000"/>
<circle cx="662.1" cy="194.64" r="5.45" fill="#dcaa18"/>
<circle cx="662.1" cy="194.64" r="3.2" fill="#000000"/>
<circle cx="615.8" cy="210.03" r="5.45" fill="#dcaa18"/>
<circle cx="615.8" cy="210.03" r="3.2" fill="#000000"/>
<circle cx="662.1" cy="210.03" r="5.45" fill="#dcaa18"/>
<circle cx="662.1" cy="210.03" r="3.2" fill="#000000"/>
<circle cx="717" cy="171.4" r="4.2" fill="#dcaa18"/>
<circle cx="717" cy="171.4" r="2.3" fill="#000000"/>
<circle cx="732" cy="171.4" r="4.2" fill="#dcaa18"/>
<circle cx="732" cy="171.4" r="2.3" fill="#000000"/>
<rect x="678.6" y="190.3" width="10.8" height="9" rx="4.5" fill="#dcaa18"/>
<circle cx="684" cy="194.8" r="2.2" fill="#000000"/>
<rect x="727" y="190.3" width="10.8" height="9" rx="4.5" fill="#dcaa18"/>
<circle cx="732.4" cy="194.8" r="2.2" fill="#000000"/>
<rect x="678.6" y="205.69" width="10.8" height="9" rx="4.5" fill="#dcaa18"/>
<circle cx="684" cy="210.19" r="2.2" fill="#000000"/>
<rect x="727" y="205.69" width="10.8" height="9" rx="4.5" fill="#dcaa18"/>
<circle cx="732.4" cy="210.19" r="2.2" fill="#000000"/>
<rect x="678.6" y="221.08" width="10.8" height="9" rx="4.5" fill="#dcaa18"/>
<circle cx="684" cy="225.58" r="2.2" fill="#000000"/>
<rect x="727" y="221.08" width="10.8" height="9" rx="4.5" fill="#dcaa18"/>
<circle cx="732.4" cy="225.58" r="2.2" fill="#000000"/>
<rect x="678.6" y="236.47" width="10.8" height="9" rx="4.5" fill="#dcaa18"/>
<circle cx="684" cy="240.97" r="2.2" fill="#000000"/>
<rect x="727" y="236.47" width="10.8" height="9" rx="4.5" fill="#dcaa18"/>
<circle cx="732.4" cy="240.97" r="2.2" fill="#000000"/>
<rect x="678.6" y="251.86" width="10.8" height="9" rx="4.5" fill="#dcaa18"/>
<circle cx="684" cy="256.36" r="2.2" fill="#000000"/>
<rect x="727" y="251.86" width="10.8" height="9" rx="4.5" fill="#dcaa18"/>
<circle cx="732.4" cy="256.36" r="2.2" fill="#000000"/>
<rect x="678.6" y="267.25" width="10.8" height="9" rx="4.5" fill="#dcaa18"/>
<circle cx="684" cy="271.75" r="2.2" fill="#000000"/>
<rect x="727" y="267.25" width="10.8" height="9" rx="4.5" fill="#dcaa18"/>
<circle cx="732.4" cy="271.75" r="2.2" fill="#000000"/>
<rect x="678.6" y="282.64" width="10.8" height="9" rx="4.5" fill="#dcaa18"/>
<circle cx="684" cy="287.14" r="2.2" fill="#000000"/>
<rect x="727" y="282.64" width="10.8" height="9" rx="4.5" fill="#dcaa18"/>
<circle cx="732.4" cy="287.14" r="2.2" fill="#000000"/>
<rect x="678.6" y="298.03" width="10.8" height="9" rx="4.5" fill="#dcaa18"/>
<circle cx="684" cy="302.53" r="2.2" fill="#000000"/>
<rect x="727" y="298.03" width="10.8" height="9" rx="4.5" fill="#dcaa18"/>
<circle cx="732.4" cy="302.53" r="2.2" fill="#000000"/>
<circle cx="646.8" cy="264" r="4.2" fill="#dcaa18"/>
<circle cx="646.8" cy="264" r="2.3" fill="#000000"/>
<circle cx="662.1" cy="264" r="4.2" fill="#dcaa18"/>
<circle cx="662.1" cy="264" r="2.3" fill="#000000"/>
<rect x="609.65" y="290.3" width="12.3" height="9" fill="#dcaa18"/>
<circle cx="615.8" cy="294.8" r="3" fill="#000000"/>
<rect x="655.95" y="290.3" width="12.3" height="9" rx="4.5" fill="#dcaa18"/>
<circle cx="662.1" cy="294.8" r="3" fill="#000000"/>
<rect x="609.65" y="305.69" width="12.3" height="9" rx="4.5" fill="#dcaa18"/>
<circle cx="615.8" cy="310.19" r="3" fill="#000000"/>
<rect x="655.95" y="305.69" width="12.3" height="9" rx="4.5" fill="#dcaa18"/>
<circle cx="662.1" cy="310.19" r="3" fill="#000000"/>
<rect x="609.65" y="321.08" width="12.3" height="9" rx="4.5" fill="#dcaa18"/>
<circle cx="615.8" cy="325.58" r="3" fill="#000000"/>
<rect x="655.95" y="321.08" width="12.3" height="9" rx="4.5" fill="#dcaa18"/>
<circle cx="662.1" cy="325.58" r="3" fill="#000000"/>
<rect x="609.65" y="336.47" width="12.3" height="9" rx="4.5" fill="#dcaa18"/>
<circle cx="615.8" cy="340.97" r="3" fill="#000000"/>
<rect x="655.95" y="336.47" width="12.3" height="9" rx="4.5" fill="#dcaa18"/>
<circle cx="662.1" cy="340.97" r="3" fill="#000000"/>
<rect x="609.65" y="351.86" width="12.3" height="9" rx="4.5" fill="#dcaa18"/>
<circle cx="615.8" cy="356.36" r="3" fill="#000000"/>
<rect x="655.95" y="351.86" width="12.3" height="9" rx="4.5" fill="#dcaa18"/>
<circle cx="662.1" cy="356.36" r="3" fill="#000000"/>
<rect x="609.65" y="367.25" width="12.3" height="9" rx="4.5" fill="#dcaa18"/>
<circle cx="615.8" cy="371.75" r="3" fill="#000000"/>
<rect x="655.95" y="367.25" width="12.3" height="9" rx="4.5" fill="#dcaa18"/>
<circle cx="662.1" cy="371.75" r="3" fill="#000000"/>
<rect x="609.65" y="382.64" width="12.3" height="9" rx="4.5" fill="#dcaa18"/>
<circle cx="615.8" cy="387.14" r="3" fill="#000000"/>
<rect x="655.95" y="382.64" width="12.3" height="9" rx="4.5" fill="#dcaa18"/>
<circle cx="662.1" cy="387.14" r="3" fill="#000000"/>
<rect x="733.45" y="320.55" width="10.3" height="10.3" fill="#dcaa18"/>
<circle cx="738.6" cy="325.7" r="2.75" fill="#000000"/>
<rect x="733.45" y="343.45" width="10.3" height="10.3" fill="#dcaa18"/>
<circle cx="738.6" cy="348.6" r="2.75" fill="#000000"/>
<rect x="764.55" y="343.45" width="10.3" height="10.3" fill="#dcaa18"/>
<circle cx="769.7" cy="348.6" r="2.75" fill="#000000"/>
<rect x="677.55" y="375.2" width="12.3" height="9" fill="#dcaa18"/>
<circle cx="683.7" cy="379.7" r="3" fill="#000000"/>
<rect x="726.25" y="375.2" width="12.3" height="9" rx="4.5" fill="#dcaa18"/>
<circle cx="732.4" cy="379.7" r="3" fill="#000000"/>
<rect x="677.55" y="390.59" width="12.3" height="9" rx="4.5" fill="#dcaa18"/>
<circle cx="683.7" cy="395.09" r="3" fill="#000000"/>
<rect x="726.25" y="390.59" width="12.3" height="9" rx="4.5" fill="#dcaa18"/>
<circle cx="732.4" cy="395.09" r="3" fill="#000000"/>
<rect x="677.55" y="405.98" width="12.3" height="9" rx="4.5" fill="#dcaa18"/>
<circle cx="683.7" cy="410.48" r="3" fill="#000000"/>
<rect x="726.25" y="405.98" width="12.3" height="9" rx="4.5" fill="#dcaa18"/>
<circle cx="732.4" cy="410.48" r="3" fill="#000000"/>
<rect x="677.55" y="421.37" width="12.3" height="9" rx="4.5" fill="#dcaa18"/>
<circle cx="683.7" cy="425.87" r="3" fill="#000000"/>
<rect x="726.25" y="421.37" width="12.3" height="9" rx="4.5" fill="#dcaa18"/>
<circle cx="732.4" cy="425.87" r="3" fill="#000000"/>
<rect x="677.55" y="436.76" width="12.3" height="9" rx="4.5" fill="#dcaa18"/>
<circle cx="683.7" cy="441.26" r="3" fill="#000000"/>
<rect x="726.25" y="436.76" width="12.3" height="9" rx="4.5" fill="#dcaa18"/>
<circle cx="732.4" cy="441.26" r="3" fill="#000000"/>
<rect x="677.55" y="452.15" width="12.3" height="9" rx="4.5" fill="#dcaa18"/>
<circle cx="683.7" cy="456.65" r="3" fill="#000000"/>
<rect x="726.25" y="452.15" width="12.3" height="9" rx="4.5" fill="#dcaa18"/>
<circle cx="732.4" cy="456.65" r="3" fill="#000000"/>
<rect x="677.55" y="467.54" width="12.3" height="9" rx="4.5" fill="#dcaa18"/>
<circle cx="683.7" cy="472.04" r="3" fill="#000000"/>
<rect x="726.25" y="467.54" width="12.3" height="9" rx="4.5" fill="#dcaa18"/>
<circle cx="732.4" cy="472.04" r="3" fill="#000000"/>
<circle cx="638.9" cy="441.1" r="4.2" fill="#dcaa18"/>
<circle cx="638.9" cy="441.1" r="2.3" fill="#000000"/>
<circle cx="654" cy="441.1" r="4.2" fill="#dcaa18"/>
<circle cx="654" cy="441.1" r="2.3" fill="#000000"/>
<rect x="608.65" y="475.2" width="12.3" height="9" fill="#dcaa18"/>
<circle cx="614.8" cy="479.7" r="3" fill="#000000"/>
<rect x="656.85" y="475.2" width="12.3" height="9" rx="4.5" fill="#dcaa18"/>
<circle cx="663" cy="479.7" r="3" fill="#000000"/>
<rect x="608.65" y="490.59" width="12.3" height="9" rx="4.5" fill="#dcaa18"/>
<circle cx="614.8" cy="495.09" r="3" fill="#000000"/>
<rect x="656.85" y="490.59" width="12.3" height="9" rx="4.5" fill="#dcaa18"/>
<circle cx="663" cy="495.09" r="3" fill="#000000"/>
<rect x="608.65" y="505.98" width="12.3" height="9" rx="4.5" fill="#dcaa18"/>
<circle cx="614.8" cy="510.48" r="3" fill="#000000"/>
<rect x="656.85" y="505.98" width="12.3" height="9" rx="4.5" fill="#dcaa18"/>
<circle cx="663" cy="510.48" r="3" fill="#000000"/>
<rect x="608.65" y="521.37" width="12.3" height="9" rx="4.5" fill="#dcaa18"/>
<circle cx="614.8" cy="525.87" r="3" fill="#000000"/>
<rect x="656.85" y="521.37" width="12.3" height="9" rx="4.5" fill="#dcaa18"/>
<circle cx="663" cy="525.87" r="3" fill="#000000"/>
<rect x="608.65" y="536.76" width="12.3" height="9" rx="4.5" fill="#dcaa18"/>
<circle cx="614.8" cy="541.26" r="3" fill="#000000"/>
<rect x="656.85" y="536.76" width="12.3" height="9" rx="4.5" fill="#dcaa18"/>
<circle cx="663" cy="541.26" r="3" fill="#000000"/>
<rect x="608.65" y="552.15" width="12.3" height="9" rx="4.5" fill="#dcaa18"/>
<circle cx="614.8" cy="556.65" r="3" fill="#000000"/>
<rect x="656.85" y="552.15" width="12.3" height="9" rx="4.5" fill="#dcaa18"/>
<circle cx="663" cy="556.65" r="3" fill="#000000"/>
<rect x="608.65" y="567.54" width="12.3" height="9" rx="4.5" fill="#dcaa18"/>
<circle cx="614.8" cy="572.04" r="3" fill="#000000"/>
<rect x="656.85" y="567.54" width="12.3" height="9" rx="4.5" fill="#dcaa18"/>
<circle cx="663" cy="572.04" r="3" fill="#000000"/>
<rect x="702.85" y="497.45" width="10.3" height="10.3" fill="#dcaa18"/>
<circle cx="708" cy="502.6" r="2.75" fill="#000000"/>
<rect x="733.45" y="497.45" width="10.3" height="10.3" fill="#dcaa18"/>
<circle cx="738.6" cy="502.6" r="2.75" fill="#000000"/>
<rect x="764.55" y="497.45" width="10.3" height="10.3" fill="#dcaa18"/>
<circle cx="769.7" cy="502.6" r="2.75" fill="#000000"/>
<rect x="702.85" y="520.55" width="10.3" height="10.3" fill="#dcaa18"/>
<circle cx="708" cy="525.7" r="2.75" fill="#000000"/>
<rect x="733.45" y="520.55" width="10.3" height="10.3" fill="#dcaa18"/>
<circle cx="738.6" cy="525.7" r="2.75" fill="#000000"/>
<rect x="764.55" y="520.55" width="10.3" height="10.3" fill="#dcaa18"/>
<circle cx="769.7" cy="525.7" r="2.75" fill="#000000"/>
<rect x="733.45" y="543.75" width="10.3" height="10.3" fill="#dcaa18"/>
<circle cx="738.6" cy="548.9" r="2.75" fill="#000000"/>
<rect x="764.55" y="543.75" width="10.3" height="10.3" fill="#dcaa18"/>
<circle cx="769.7" cy="548.9" r="2.75" fill="#000000"/>
<rect x="702.85" y="566.75" width="10.3" height="10.3" fill="#dcaa18"/>
<circle cx="708" cy="571.9" r="2.75" fill="#000000"/>
<rect x="733.45" y="566.75" width="10.3" height="10.3" fill="#dcaa18"/>
<circle cx="738.6" cy="571.9" r="2.75" fill="#000000"/>
<rect x="764.55" y="566.75" width="10.3" height="10.3" fill="#dcaa18"/>
<circle cx="769.7" cy="571.9" r="2.75" fill="#000000"/>
<rect x="702.85" y="589.75" width="10.3" height="10.3" fill="#dcaa18"/>
<circle cx="708" cy="594.9" r="2.75" fill="#000000"/>
<circle cx="777.6" cy="85.4" r="4.25" fill="#dcaa18"/>
<circle cx="777.6" cy="85.4" r="2.4" fill="#000000"/>
<circle cx="777.6" cy="132.8" r="4.25" fill="#dcaa18"/>
<circle cx="777.6" cy="132.8" r="2.4" fill="#000000"/>
<circle cx="777.6" cy="201.8" r="4.25" fill="#dcaa18"/>
<circle cx="777.6" cy="201.8" r="2.4" fill="#000000"/>
<circle cx="777.6" cy="248.8" r="4.25" fill="#dcaa18"/>
<circle cx="777.6" cy="248.8" r="2.4" fill="#000000"/>
<circle cx="777.6" cy="263.5" r="4.25" fill="#dcaa18"/>
<circle cx="777.6" cy="263.5" r="2.4" fill="#000000"/>
<circle cx="777.6" cy="310.5" r="4.25" fill="#dcaa18"/>
<circle cx="777.6" cy="310.5" r="2.4" fill="#000000"/>
<circle cx="777.6" cy="363.5" r="4.25" fill="#dcaa18"/>
<circle cx="777.6" cy="363.5" r="2.4" fill="#000000"/>
<circle cx="777.6" cy="411" r="4.25" fill="#dcaa18"/>
<circle cx="777.6" cy="411" r="2.4" fill="#000000"/>
<circle cx="777.6" cy="440.6" r="4.25" fill="#dcaa18"/>
<circle cx="777.6" cy="440.6" r="2.4" fill="#000000"/>
<circle cx="777.6" cy="487.8" r="4.25" fill="#dcaa18"/>
<circle cx="777.6" cy="487.8" r="2.4" fill="#000000"/>
<circle cx="800.1" cy="71.6" r="4.25" fill="#dcaa18"/>
<circle cx="800.1" cy="71.6" r="2.4" fill="#000000"/>
<circle cx="847.1" cy="71.6" r="4.25" fill="#dcaa18"/>
<circle cx="847.1" cy="71.6" r="2.4" fill="#000000"/>
<circle cx="800.5" cy="87.1" r="5.65" fill="#dcaa18"/>
<circle cx="800.5" cy="87.1" r="3.5" fill="#000000"/>
<circle cx="846.8" cy="87.1" r="5.65" fill="#dcaa18"/>
<circle cx="846.8" cy="87.1" r="3.5" fill="#000000"/>
<circle cx="800.5" cy="102.49" r="5.65" fill="#dcaa18"/>
<circle cx="800.5" cy="102.49" r="3.5" fill="#000000"/>
<circle cx="846.8" cy="102.49" r="5.65" fill="#dcaa18"/>
<circle cx="846.8" cy="102.49" r="3.5" fill="#000000"/>
<circle cx="800.5" cy="117.88" r="5.65" fill="#dcaa18"/>
<circle cx="800.5" cy="117.88" r="3.5" fill="#000000"/>
<circle cx="846.8" cy="117.88" r="5.65" fill="#dcaa18"/>
<circle cx="846.8" cy="117.88" r="3.5" fill="#000000"/>
<circle cx="800.5" cy="133.27" r="5.65" fill="#dcaa18"/>
<circle cx="800.5" cy="133.27" r="3.5" fill="#000000"/>
<circle cx="846.8" cy="133.27" r="5.65" fill="#dcaa18"/>
<circle cx="846.8" cy="133.27" r="3.5" fill="#000000"/>
<circle cx="862.2" cy="87.1" r="4.25" fill="#dcaa18"/>
<circle cx="862.2" cy="87.1" r="2.4" fill="#000000"/>
<circle cx="909.8" cy="87.1" r="4.25" fill="#dcaa18"/>
<circle cx="909.8" cy="87.1" r="2.4" fill="#000000"/>
<circle cx="862.2" cy="102.3" r="4.25" fill="#dcaa18"/>
<circle cx="862.2" cy="102.3" r="2.4" fill="#000000"/>
<circle cx="909.8" cy="102.3" r="4.25" fill="#dcaa18"/>
<circle cx="909.8" cy="102.3" r="2.4" fill="#000000"/>
<circle cx="931.3" cy="71.7" r="5.8" fill="#dcaa18"/>
<circle cx="931.3" cy="71.7" r="2.9" fill="#000000"/>
<circle cx="931.3" cy="87.2" r="5.8" fill="#dcaa18"/>
<circle cx="931.3" cy="87.2" r="2.9" fill="#000000"/>
<circle cx="931.3" cy="102.4" r="5.8" fill="#dcaa18"/>
<circle cx="931.3" cy="102.4" r="2.9" fill="#000000"/>
<circle cx="862.2" cy="132.8" r="4.2" fill="#dcaa18"/>
<circle cx="862.2" cy="132.8" r="2.3" fill="#000000"/>
<circle cx="877.2" cy="132.8" r="4.2" fill="#dcaa18"/>
<circle cx="877.2" cy="132.8" r="2.3" fill="#000000"/>
<circle cx="901.1" cy="132.8" r="4.2" fill="#dcaa18"/>
<circle cx="901.1" cy="132.8" r="2.3" fill="#000000"/>
<circle cx="916.2" cy="132.8" r="4.2" fill="#dcaa18"/>
<circle cx="916.2" cy="132.8" r="2.3" fill="#000000"/>
<circle cx="800.1" cy="148.4" r="4.25" fill="#dcaa18"/>
<circle cx="800.1" cy="148.4" r="2.4" fill="#000000"/>
<circle cx="847.1" cy="148.4" r="4.25" fill="#dcaa18"/>
<circle cx="847.1" cy="148.4" r="2.4" fill="#000000"/>
<circle cx="802.9" cy="168.7" r="4.2" fill="#dcaa18"/>
<circle cx="802.9" cy="168.7" r="2.3" fill="#000000"/>
<circle cx="818" cy="168.7" r="4.2" fill="#dcaa18"/>
<circle cx="818" cy="168.7" r="2.3" fill="#000000"/>
<circle cx="864" cy="171.6" r="3.95" fill="#dcaa18"/>
<circle cx="864" cy="171.6" r="2.05" fill="#000000"/>
<circle cx="876" cy="171.6" r="3.95" fill="#dcaa18"/>
<circle cx="876" cy="171.6" r="2.05" fill="#000000"/>
<circle cx="902.3" cy="171.6" r="3.95" fill="#dcaa18"/>
<circle cx="902.3" cy="171.6" r="2.05" fill="#000000"/>
<circle cx="914.3" cy="171.6" r="3.95" fill="#dcaa18"/>
<circle cx="914.3" cy="171.6" r="2.05" fill="#000000"/>
<circle cx="937" cy="184.8" r="4.2" fill="#dcaa18"/>
<circle cx="937" cy="184.8" r="2.3" fill="#000000"/>
<circle cx="952" cy="184.8" r="4.2" fill="#dcaa18"/>
<circle cx="952" cy="184.8" r="2.3" fill="#000000"/>
<circle cx="961.8" cy="79.3" r="4.25" fill="#dcaa18"/>
<circle cx="961.8" cy="79.3" r="2.4" fill="#000000"/>
<circle cx="1008.9" cy="79.3" r="4.25" fill="#dcaa18"/>
<circle cx="1008.9" cy="79.3" r="2.4" fill="#000000"/>
<circle cx="961.8" cy="110" r="4.25" fill="#dcaa18"/>
<circle cx="961.8" cy="110" r="2.4" fill="#000000"/>
<circle cx="1008.9" cy="110" r="4.25" fill="#dcaa18"/>
<circle cx="1008.9" cy="110" r="2.4" fill="#000000"/>
<circle cx="961.8" cy="140.7" r="4.25" fill="#dcaa18"/>
<circle cx="961.8" cy="140.7" r="2.4" fill="#000000"/>
<circle cx="1008.9" cy="140.7" r="4.25" fill="#dcaa18"/>
<circle cx="1008.9" cy="140.7" r="2.4" fill="#000000"/>
<rect x="1020.15" y="76" width="7.5" height="6.6" rx="3.3" fill="#dcaa18"/>
<circle cx="1023.9" cy="79.3" r="1.7" fill="#000000"/>
<rect x="1035.65" y="76" width="7.5" height="6.6" rx="3.3" fill="#dcaa18"/>
<circle cx="1039.4" cy="79.3" r="1.7" fill="#000000"/>
<rect x="1020.15" y="106.7" width="7.5" height="6.6" rx="3.3" fill="#dcaa18"/>
<circle cx="1023.9" cy="110" r="1.7" fill="#000000"/>
<rect x="1035.65" y="106.7" width="7.5" height="6.6" rx="3.3" fill="#dcaa18"/>
<circle cx="1039.4" cy="110" r="1.7" fill="#000000"/>
<rect x="1020.15" y="137.4" width="7.5" height="6.6" rx="3.3" fill="#dcaa18"/>
<circle cx="1023.9" cy="140.7" r="1.7" fill="#000000"/>
<rect x="1035.65" y="137.4" width="7.5" height="6.6" rx="3.3" fill="#dcaa18"/>
<circle cx="1039.4" cy="140.7" r="1.7" fill="#000000"/>
<circle cx="962" cy="167.2" r="4.25" fill="#dcaa18"/>
<circle cx="962" cy="167.2" r="2.4" fill="#000000"/>
<circle cx="1009.6" cy="167.2" r="4.25" fill="#dcaa18"/>
<circle cx="1009.6" cy="167.2" r="2.4" fill="#000000"/>
<circle cx="1023.9" cy="181" r="3.95" fill="#dcaa18"/>
<circle cx="1023.9" cy="181" r="2.05" fill="#000000"/>
<circle cx="1023.9" cy="193.2" r="3.95" fill="#dcaa18"/>
<circle cx="1023.9" cy="193.2" r="2.05" fill="#000000"/>
<circle cx="800.5" cy="194.6" r="5.65" fill="#dcaa18"/>
<circle cx="800.5" cy="194.6" r="3.5" fill="#000000"/>
<circle cx="846.8" cy="194.6" r="5.65" fill="#dcaa18"/>
<circle cx="846.8" cy="194.6" r="3.5" fill="#000000"/>
<circle cx="800.5" cy="209.99" r="5.65" fill="#dcaa18"/>
<circle cx="800.5" cy="209.99" r="3.5" fill="#000000"/>
<circle cx="846.8" cy="209.99" r="5.65" fill="#dcaa18"/>
<circle cx="846.8" cy="209.99" r="3.5" fill="#000000"/>
<circle cx="800.5" cy="225.38" r="5.65" fill="#dcaa18"/>
<circle cx="800.5" cy="225.38" r="3.5" fill="#000000"/>
<circle cx="846.8" cy="225.38" r="5.65" fill="#dcaa18"/>
<circle cx="846.8" cy="225.38" r="3.5" fill="#000000"/>
<circle cx="800.5" cy="240.77" r="5.65" fill="#dcaa18"/>
<circle cx="800.5" cy="240.77" r="3.5" fill="#000000"/>
<circle cx="846.8" cy="240.77" r="5.65" fill="#dcaa18"/>
<circle cx="846.8" cy="240.77" r="3.5" fill="#000000"/>
<circle cx="869.3" cy="210.2" r="5.65" fill="#dcaa18"/>
<circle cx="869.3" cy="210.2" r="3.2" fill="#000000"/>
<circle cx="918.1" cy="210.2" r="5.65" fill="#dcaa18"/>
<circle cx="918.1" cy="210.2" r="3.2" fill="#000000"/>
<circle cx="869.3" cy="225.3" r="5.65" fill="#dcaa18"/>
<circle cx="869.3" cy="225.3" r="3.2" fill="#000000"/>
<circle cx="918.1" cy="225.3" r="5.65" fill="#dcaa18"/>
<circle cx="918.1" cy="225.3" r="3.2" fill="#000000"/>
<circle cx="931.7" cy="210.3" r="4.25" fill="#dcaa18"/>
<circle cx="931.7" cy="210.3" r="2.4" fill="#000000"/>
<circle cx="978.8" cy="210.3" r="4.25" fill="#dcaa18"/>
<circle cx="978.8" cy="210.3" r="2.4" fill="#000000"/>
<circle cx="931.7" cy="225.4" r="4.25" fill="#dcaa18"/>
<circle cx="931.7" cy="225.4" r="2.4" fill="#000000"/>
<circle cx="978.8" cy="225.4" r="4.25" fill="#dcaa18"/>
<circle cx="978.8" cy="225.4" r="2.4" fill="#000000"/>
<circle cx="931.7" cy="240.9" r="4.25" fill="#dcaa18"/>
<circle cx="931.7" cy="240.9" r="2.4" fill="#000000"/>
<circle cx="978.8" cy="240.9" r="4.25" fill="#dcaa18"/>
<circle cx="978.8" cy="240.9" r="2.4" fill="#000000"/>
<circle cx="869.2" cy="240.9" r="4.25" fill="#dcaa18"/>
<circle cx="869.2" cy="240.9" r="2.4" fill="#000000"/>
<circle cx="916.8" cy="240.9" r="4.25" fill="#dcaa18"/>
<circle cx="916.8" cy="240.9" r="2.4" fill="#000000"/>
<circle cx="869.2" cy="256.3" r="4.25" fill="#dcaa18"/>
<circle cx="869.2" cy="256.3" r="2.4" fill="#000000"/>
<circle cx="916.8" cy="256.3" r="4.25" fill="#dcaa18"/>
<circle cx="916.8" cy="256.3" r="2.4" fill="#000000"/>
<circle cx="869.2" cy="271.7" r="4.25" fill="#dcaa18"/>
<circle cx="869.2" cy="271.7" r="2.4" fill="#000000"/>
<circle cx="916.8" cy="271.7" r="4.25" fill="#dcaa18"/>
<circle cx="916.8" cy="271.7" r="2.4" fill="#000000"/>
<circle cx="800.1" cy="256.3" r="4.25" fill="#dcaa18"/>
<circle cx="800.1" cy="256.3" r="2.4" fill="#000000"/>
<circle cx="847.1" cy="256.3" r="4.25" fill="#dcaa18"/>
<circle cx="847.1" cy="256.3" r="2.4" fill="#000000"/>
<circle cx="1000.6" cy="203.3" r="4.25" fill="#dcaa18"/>
<circle cx="1000.6" cy="203.3" r="2.4" fill="#000000"/>
<circle cx="1000.6" cy="250.7" r="4.25" fill="#dcaa18"/>
<circle cx="1000.6" cy="250.7" r="2.4" fill="#000000"/>
<rect x="1025.6" y="251.1" width="10.2" height="10.2" fill="#dcaa18"/>
<circle cx="1030.7" cy="256.2" r="2.5" fill="#000000"/>
<rect x="1025.6" y="266.3" width="10.2" height="10.2" fill="#dcaa18"/>
<circle cx="1030.7" cy="271.4" r="2.5" fill="#000000"/>
<circle cx="992.9" cy="271" r="4.25" fill="#dcaa18"/>
<circle cx="992.9" cy="271" r="2.4" fill="#000000"/>
<circle cx="992.9" cy="318.6" r="4.25" fill="#dcaa18"/>
<circle cx="992.9" cy="318.6" r="2.4" fill="#000000"/>
<circle cx="831.5" cy="275.4" r="3.5" fill="#dcaa18"/>
<circle cx="831.5" cy="275.4" r="1.5" fill="#000000"/>
<circle cx="839.2" cy="275.4" r="3.5" fill="#dcaa18"/>
<circle cx="839.2" cy="275.4" r="1.5" fill="#000000"/>
<rect x="843.2" y="271.9" width="7" height="7" fill="#dcaa18"/>
<circle cx="846.7" cy="275.4" r="1.5" fill="#000000"/>
<circle cx="894.6" cy="297" r="3.95" fill="#dcaa18"/>
<circle cx="894.6" cy="297" r="2.05" fill="#000000"/>
<circle cx="906.8" cy="297" r="3.95" fill="#dcaa18"/>
<circle cx="906.8" cy="297" r="2.05" fill="#000000"/>
<circle cx="870.1" cy="301.7" r="4.2" fill="#dcaa18"/>
<circle cx="870.1" cy="301.7" r="2.3" fill="#000000"/>
<circle cx="870.1" cy="316.8" r="4.2" fill="#dcaa18"/>
<circle cx="870.1" cy="316.8" r="2.3" fill="#000000"/>
<circle cx="892.9" cy="325.6" r="4.2" fill="#dcaa18"/>
<circle cx="892.9" cy="325.6" r="2.3" fill="#000000"/>
<circle cx="908.3" cy="325.6" r="4.2" fill="#dcaa18"/>
<circle cx="908.3" cy="325.6" r="2.3" fill="#000000"/>
<circle cx="931.7" cy="295.1" r="4.25" fill="#dcaa18"/>
<circle cx="931.7" cy="295.1" r="2.4" fill="#000000"/>
<circle cx="979.1" cy="295.1" r="4.25" fill="#dcaa18"/>
<circle cx="979.1" cy="295.1" r="2.4" fill="#000000"/>
<circle cx="931.7" cy="310.2" r="4.25" fill="#dcaa18"/>
<circle cx="931.7" cy="310.2" r="2.4" fill="#000000"/>
<circle cx="979.1" cy="310.2" r="4.25" fill="#dcaa18"/>
<circle cx="979.1" cy="310.2" r="2.4" fill="#000000"/>
<circle cx="931.7" cy="332.6" r="4.25" fill="#dcaa18"/>
<circle cx="931.7" cy="332.6" r="2.4" fill="#000000"/>
<circle cx="979.1" cy="332.6" r="4.25" fill="#dcaa18"/>
<circle cx="979.1" cy="332.6" r="2.4" fill="#000000"/>
<rect x="794.35" y="305.6" width="12.3" height="9.2" fill="#dcaa18"/>
<circle cx="800.5" cy="310.2" r="3" fill="#000000"/>
<rect x="840.65" y="305.6" width="12.3" height="9.2" rx="4.6" fill="#dcaa18"/>
<circle cx="846.8" cy="310.2" r="3" fill="#000000"/>
<rect x="794.35" y="320.99" width="12.3" height="9.2" rx="4.6" fill="#dcaa18"/>
<circle cx="800.5" cy="325.59" r="3" fill="#000000"/>
<rect x="840.65" y="320.99" width="12.3" height="9.2" rx="4.6" fill="#dcaa18"/>
<circle cx="846.8" cy="325.59" r="3" fill="#000000"/>
<rect x="794.35" y="336.38" width="12.3" height="9.2" rx="4.6" fill="#dcaa18"/>
<circle cx="800.5" cy="340.98" r="3" fill="#000000"/>
<rect x="840.65" y="336.38" width="12.3" height="9.2" rx="4.6" fill="#dcaa18"/>
<circle cx="846.8" cy="340.98" r="3" fill="#000000"/>
<rect x="794.35" y="351.77" width="12.3" height="9.2" rx="4.6" fill="#dcaa18"/>
<circle cx="800.5" cy="356.37" r="3" fill="#000000"/>
<rect x="840.65" y="351.77" width="12.3" height="9.2" rx="4.6" fill="#dcaa18"/>
<circle cx="846.8" cy="356.37" r="3" fill="#000000"/>
<rect x="794.35" y="367.16" width="12.3" height="9.2" rx="4.6" fill="#dcaa18"/>
<circle cx="800.5" cy="371.76" r="3" fill="#000000"/>
<rect x="840.65" y="367.16" width="12.3" height="9.2" rx="4.6" fill="#dcaa18"/>
<circle cx="846.8" cy="371.76" r="3" fill="#000000"/>
<rect x="794.35" y="382.55" width="12.3" height="9.2" rx="4.6" fill="#dcaa18"/>
<circle cx="800.5" cy="387.15" r="3" fill="#000000"/>
<rect x="840.65" y="382.55" width="12.3" height="9.2" rx="4.6" fill="#dcaa18"/>
<circle cx="846.8" cy="387.15" r="3" fill="#000000"/>
<rect x="794.35" y="397.94" width="12.3" height="9.2" rx="4.6" fill="#dcaa18"/>
<circle cx="800.5" cy="402.54" r="3" fill="#000000"/>
<rect x="840.65" y="397.94" width="12.3" height="9.2" rx="4.6" fill="#dcaa18"/>
<circle cx="846.8" cy="402.54" r="3" fill="#000000"/>
<circle cx="861.6" cy="341.3" r="4.25" fill="#dcaa18"/>
<circle cx="861.6" cy="341.3" r="2.4" fill="#000000"/>
<circle cx="908.9" cy="341.3" r="4.25" fill="#dcaa18"/>
<circle cx="908.9" cy="341.3" r="2.4" fill="#000000"/>
<circle cx="931.4" cy="348.8" r="4.2" fill="#dcaa18"/>
<circle cx="931.4" cy="348.8" r="2.3" fill="#000000"/>
<circle cx="931.4" cy="363.8" r="4.2" fill="#dcaa18"/>
<circle cx="931.4" cy="363.8" r="2.3" fill="#000000"/>
<circle cx="977.8" cy="356.4" r="4.2" fill="#dcaa18"/>
<circle cx="977.8" cy="356.4" r="2.3" fill="#000000"/>
<circle cx="992.9" cy="356.4" r="4.2" fill="#dcaa18"/>
<circle cx="992.9" cy="356.4" r="2.3" fill="#000000"/>
<rect x="1014.85" y="323.25" width="18.1" height="9.7" rx="4.85" fill="#dcaa18"/>
<rect x="1017.5" y="325.4" width="12.8" height="5.4" rx="2.7" fill="#000000"/>
<line x1="1023.9" y1="325.5" x2="1023.9" y2="330.7" stroke="#777" stroke-width="0.6"/>
<rect x="1014.85" y="351.55" width="18.1" height="9.7" rx="4.85" fill="#dcaa18"/>
<rect x="1017.5" y="353.7" width="12.8" height="5.4" rx="2.7" fill="#000000"/>
<line x1="1023.9" y1="353.8" x2="1023.9" y2="359" stroke="#777" stroke-width="0.6"/>
<rect x="1014.85" y="380.05" width="18.1" height="9.7" rx="4.85" fill="#dcaa18"/>
<rect x="1017.5" y="382.2" width="12.8" height="5.4" rx="2.7" fill="#000000"/>
<line x1="1023.9" y1="382.3" x2="1023.9" y2="387.5" stroke="#777" stroke-width="0.6"/>
<circle cx="869.7" cy="355.6" r="4.25" fill="#dcaa18"/>
<circle cx="869.7" cy="355.6" r="2.4" fill="#000000"/>
<circle cx="869.7" cy="403.2" r="4.25" fill="#dcaa18"/>
<circle cx="869.7" cy="403.2" r="2.4" fill="#000000"/>
<circle cx="900.4" cy="363.7" r="5.8" fill="#dcaa18"/>
<circle cx="900.4" cy="363.7" r="2.9" fill="#000000"/>
<circle cx="900.4" cy="379.2" r="5.8" fill="#dcaa18"/>
<circle cx="900.4" cy="379.2" r="2.9" fill="#000000"/>
<circle cx="900.4" cy="394.6" r="5.8" fill="#dcaa18"/>
<circle cx="900.4" cy="394.6" r="2.9" fill="#000000"/>
<circle cx="931.2" cy="387.3" r="4.25" fill="#dcaa18"/>
<circle cx="931.2" cy="387.3" r="2.4" fill="#000000"/>
<circle cx="978.3" cy="387.3" r="4.25" fill="#dcaa18"/>
<circle cx="978.3" cy="387.3" r="2.4" fill="#000000"/>
<circle cx="992.9" cy="387.2" r="4.2" fill="#dcaa18"/>
<circle cx="992.9" cy="387.2" r="2.3" fill="#000000"/>
<circle cx="992.9" cy="402.6" r="4.2" fill="#dcaa18"/>
<circle cx="992.9" cy="402.6" r="2.3" fill="#000000"/>
<circle cx="1008.4" cy="402.1" r="4.25" fill="#dcaa18"/>
<circle cx="1008.4" cy="402.1" r="2.4" fill="#000000"/>
<circle cx="1008.4" cy="449.3" r="4.25" fill="#dcaa18"/>
<circle cx="1008.4" cy="449.3" r="2.4" fill="#000000"/>
<circle cx="777.5" cy="426.2" r="4.25" fill="#dcaa18"/>
<circle cx="777.5" cy="426.2" r="2.4" fill="#000000"/>
<circle cx="824.9" cy="426.2" r="4.25" fill="#dcaa18"/>
<circle cx="824.9" cy="426.2" r="2.4" fill="#000000"/>
<circle cx="801.4" cy="441.8" r="4.2" fill="#dcaa18"/>
<circle cx="801.4" cy="441.8" r="2.3" fill="#000000"/>
<circle cx="816.5" cy="441.8" r="4.2" fill="#dcaa18"/>
<circle cx="816.5" cy="441.8" r="2.3" fill="#000000"/>
<circle cx="864.1" cy="425.6" r="5.65" fill="#dcaa18"/>
<circle cx="864.1" cy="425.6" r="3.2" fill="#000000"/>
<circle cx="912.4" cy="425.6" r="5.65" fill="#dcaa18"/>
<circle cx="912.4" cy="425.6" r="3.2" fill="#000000"/>
<circle cx="864.1" cy="441.3" r="5.65" fill="#dcaa18"/>
<circle cx="864.1" cy="441.3" r="3.2" fill="#000000"/>
<circle cx="912.4" cy="441.3" r="5.65" fill="#dcaa18"/>
<circle cx="912.4" cy="441.3" r="3.2" fill="#000000"/>
<circle cx="931.4" cy="425.6" r="4.25" fill="#dcaa18"/>
<circle cx="931.4" cy="425.6" r="2.4" fill="#000000"/>
<circle cx="978.8" cy="425.6" r="4.25" fill="#dcaa18"/>
<circle cx="978.8" cy="425.6" r="2.4" fill="#000000"/>
<circle cx="930.2" cy="441" r="5.65" fill="#dcaa18"/>
<circle cx="930.2" cy="441" r="3.2" fill="#000000"/>
<circle cx="978.8" cy="441" r="5.65" fill="#dcaa18"/>
<circle cx="978.8" cy="441" r="3.2" fill="#000000"/>
<circle cx="930.2" cy="456.4" r="5.65" fill="#dcaa18"/>
<circle cx="930.2" cy="456.4" r="3.2" fill="#000000"/>
<circle cx="978.8" cy="456.4" r="5.65" fill="#dcaa18"/>
<circle cx="978.8" cy="456.4" r="3.2" fill="#000000"/>
<circle cx="863.5" cy="456.7" r="4.2" fill="#dcaa18"/>
<circle cx="863.5" cy="456.7" r="2.3" fill="#000000"/>
<circle cx="879.1" cy="456.7" r="4.2" fill="#dcaa18"/>
<circle cx="879.1" cy="456.7" r="2.3" fill="#000000"/>
<circle cx="800.5" cy="456.3" r="5.65" fill="#dcaa18"/>
<circle cx="800.5" cy="456.3" r="3.5" fill="#000000"/>
<circle cx="846.8" cy="456.3" r="5.65" fill="#dcaa18"/>
<circle cx="846.8" cy="456.3" r="3.5" fill="#000000"/>
<circle cx="800.5" cy="471.69" r="5.65" fill="#dcaa18"/>
<circle cx="800.5" cy="471.69" r="3.5" fill="#000000"/>
<circle cx="846.8" cy="471.69" r="5.65" fill="#dcaa18"/>
<circle cx="846.8" cy="471.69" r="3.5" fill="#000000"/>
<circle cx="800.5" cy="487.08" r="5.65" fill="#dcaa18"/>
<circle cx="800.5" cy="487.08" r="3.5" fill="#000000"/>
<circle cx="846.8" cy="487.08" r="5.65" fill="#dcaa18"/>
<circle cx="846.8" cy="487.08" r="3.5" fill="#000000"/>
<circle cx="800.5" cy="502.47" r="5.65" fill="#dcaa18"/>
<circle cx="800.5" cy="502.47" r="3.5" fill="#000000"/>
<circle cx="846.8" cy="502.47" r="5.65" fill="#dcaa18"/>
<circle cx="846.8" cy="502.47" r="3.5" fill="#000000"/>
<circle cx="863.1" cy="472.7" r="4.25" fill="#dcaa18"/>
<circle cx="863.1" cy="472.7" r="2.4" fill="#000000"/>
<circle cx="910.5" cy="472.7" r="4.25" fill="#dcaa18"/>
<circle cx="910.5" cy="472.7" r="2.4" fill="#000000"/>
<circle cx="863.1" cy="487.3" r="4.25" fill="#dcaa18"/>
<circle cx="863.1" cy="487.3" r="2.4" fill="#000000"/>
<circle cx="910.5" cy="487.3" r="4.25" fill="#dcaa18"/>
<circle cx="910.5" cy="487.3" r="2.4" fill="#000000"/>
<circle cx="930.9" cy="487.3" r="4.25" fill="#dcaa18"/>
<circle cx="930.9" cy="487.3" r="2.4" fill="#000000"/>
<circle cx="978.3" cy="487.3" r="4.25" fill="#dcaa18"/>
<circle cx="978.3" cy="487.3" r="2.4" fill="#000000"/>
<rect x="1026.2" y="451.3" width="10.2" height="10.2" fill="#dcaa18"/>
<circle cx="1031.3" cy="456.4" r="2.5" fill="#000000"/>
<rect x="1026.2" y="466.5" width="10.2" height="10.2" fill="#dcaa18"/>
<circle cx="1031.3" cy="471.6" r="2.5" fill="#000000"/>
<circle cx="892.9" cy="510.6" r="4.2" fill="#dcaa18"/>
<circle cx="892.9" cy="510.6" r="2.3" fill="#000000"/>
<circle cx="908.3" cy="510.6" r="4.2" fill="#dcaa18"/>
<circle cx="908.3" cy="510.6" r="2.3" fill="#000000"/>
<circle cx="800.7" cy="525.8" r="4.2" fill="#dcaa18"/>
<circle cx="800.7" cy="525.8" r="2.3" fill="#000000"/>
<circle cx="816.1" cy="525.8" r="4.2" fill="#dcaa18"/>
<circle cx="816.1" cy="525.8" r="2.3" fill="#000000"/>
<circle cx="845.8" cy="525.8" r="4.25" fill="#dcaa18"/>
<circle cx="845.8" cy="525.8" r="2.4" fill="#000000"/>
<circle cx="893.2" cy="525.8" r="4.25" fill="#dcaa18"/>
<circle cx="893.2" cy="525.8" r="2.4" fill="#000000"/>
<circle cx="862.2" cy="548.8" r="4.25" fill="#dcaa18"/>
<circle cx="862.2" cy="548.8" r="2.4" fill="#000000"/>
<circle cx="909.8" cy="548.8" r="4.25" fill="#dcaa18"/>
<circle cx="909.8" cy="548.8" r="2.4" fill="#000000"/>
<rect x="795.7" y="544" width="9.6" height="9.6" fill="#dcaa18"/>
<circle cx="800.5" cy="548.8" r="2.4" fill="#000000"/>
<circle cx="846.8" cy="548.8" r="4.8" fill="#dcaa18"/>
<circle cx="846.8" cy="548.8" r="2.4" fill="#000000"/>
<circle cx="800.5" cy="564.19" r="4.8" fill="#dcaa18"/>
<circle cx="800.5" cy="564.19" r="2.4" fill="#000000"/>
<circle cx="846.8" cy="564.19" r="4.8" fill="#dcaa18"/>
<circle cx="846.8" cy="564.19" r="2.4" fill="#000000"/>
<circle cx="800.5" cy="579.58" r="4.8" fill="#dcaa18"/>
<circle cx="800.5" cy="579.58" r="2.4" fill="#000000"/>
<circle cx="846.8" cy="579.58" r="4.8" fill="#dcaa18"/>
<circle cx="846.8" cy="579.58" r="2.4" fill="#000000"/>
<circle cx="800.5" cy="594.97" r="4.8" fill="#dcaa18"/>
<circle cx="800.5" cy="594.97" r="2.4" fill="#000000"/>
<circle cx="846.8" cy="594.97" r="4.8" fill="#dcaa18"/>
<circle cx="846.8" cy="594.97" r="2.4" fill="#000000"/>
<circle cx="900.4" cy="571.8" r="5.8" fill="#dcaa18"/>
<circle cx="900.4" cy="571.8" r="2.9" fill="#000000"/>
<circle cx="900.4" cy="587.4" r="5.8" fill="#dcaa18"/>
<circle cx="900.4" cy="587.4" r="2.9" fill="#000000"/>
<circle cx="900.4" cy="602.8" r="5.8" fill="#dcaa18"/>
<circle cx="900.4" cy="602.8" r="2.9" fill="#000000"/>
<circle cx="866.9" cy="606.6" r="3.95" fill="#dcaa18"/>
<circle cx="866.9" cy="606.6" r="2.05" fill="#000000"/>
<circle cx="866.9" cy="618.4" r="3.95" fill="#dcaa18"/>
<circle cx="866.9" cy="618.4" r="2.05" fill="#000000"/>
<circle cx="801" cy="618" r="4.2" fill="#dcaa18"/>
<circle cx="801" cy="618" r="2.3" fill="#000000"/>
<circle cx="816.1" cy="618" r="4.2" fill="#dcaa18"/>
<circle cx="816.1" cy="618" r="2.3" fill="#000000"/>
<circle cx="923.3" cy="587.4" r="4.25" fill="#dcaa18"/>
<circle cx="923.3" cy="587.4" r="2.4" fill="#000000"/>
<circle cx="970.8" cy="587.4" r="4.25" fill="#dcaa18"/>
<circle cx="970.8" cy="587.4" r="2.4" fill="#000000"/>
<circle cx="939.8" cy="556.7" r="4.2" fill="#dcaa18"/>
<circle cx="939.8" cy="556.7" r="2.3" fill="#000000"/>
<circle cx="939.8" cy="571.9" r="4.2" fill="#dcaa18"/>
<circle cx="939.8" cy="571.9" r="2.3" fill="#000000"/>
<circle cx="977.8" cy="544.1" r="4.2" fill="#dcaa18"/>
<circle cx="977.8" cy="544.1" r="2.3" fill="#000000"/>
<circle cx="992.9" cy="544.1" r="4.2" fill="#dcaa18"/>
<circle cx="992.9" cy="544.1" r="2.3" fill="#000000"/>
<circle cx="977.8" cy="600.2" r="4.2" fill="#dcaa18"/>
<circle cx="977.8" cy="600.2" r="2.3" fill="#000000"/>
<circle cx="992.9" cy="600.2" r="4.2" fill="#dcaa18"/>
<circle cx="992.9" cy="600.2" r="2.3" fill="#000000"/>
<rect x="1014.85" y="538.75" width="18.1" height="9.7" rx="4.85" fill="#dcaa18"/>
<rect x="1017.5" y="540.9" width="12.8" height="5.4" rx="2.7" fill="#000000"/>
<line x1="1023.9" y1="541" x2="1023.9" y2="546.2" stroke="#777" stroke-width="0.6"/>
<rect x="1014.85" y="567.55" width="18.1" height="9.7" rx="4.85" fill="#dcaa18"/>
<rect x="1017.5" y="569.7" width="12.8" height="5.4" rx="2.7" fill="#000000"/>
<line x1="1023.9" y1="569.8" x2="1023.9" y2="575" stroke="#777" stroke-width="0.6"/>
<rect x="1014.85" y="595.65" width="18.1" height="9.7" rx="4.85" fill="#dcaa18"/>
<rect x="1017.5" y="597.8" width="12.8" height="5.4" rx="2.7" fill="#000000"/>
<line x1="1023.9" y1="597.9" x2="1023.9" y2="603.1" stroke="#777" stroke-width="0.6"/>
</g>
<clipPath id="mh"><circle cx="25.8" cy="66.8" r="6"/><circle cx="26" cy="624.2" r="6"/><circle cx="625.7" cy="66.9" r="6"/><circle cx="625.7" cy="624.2" r="6"/></clipPath>
<g stroke="#fff" stroke-opacity="0.3" stroke-width="1" clip-path="url(#mh)">
<line x1="8.55" y1="0" x2="8.55" y2="677"/>
<line x1="23.94" y1="0" x2="23.94" y2="677"/>
<line x1="39.33" y1="0" x2="39.33" y2="677"/>
<line x1="54.72" y1="0" x2="54.72" y2="677"/>
<line x1="70.11" y1="0" x2="70.11" y2="677"/>
<line x1="85.5" y1="0" x2="85.5" y2="677"/>
<line x1="100.89" y1="0" x2="100.89" y2="677"/>
<line x1="116.28" y1="0" x2="116.28" y2="677"/>
<line x1="131.67" y1="0" x2="131.67" y2="677"/>
<line x1="147.06" y1="0" x2="147.06" y2="677"/>
<line x1="162.45" y1="0" x2="162.45" y2="677"/>
<line x1="177.84" y1="0" x2="177.84" y2="677"/>
<line x1="193.23" y1="0" x2="193.23" y2="677"/>
<line x1="208.62" y1="0" x2="208.62" y2="677"/>
<line x1="224.01" y1="0" x2="224.01" y2="677"/>
<line x1="239.4" y1="0" x2="239.4" y2="677"/>
<line x1="254.79" y1="0" x2="254.79" y2="677"/>
<line x1="270.18" y1="0" x2="270.18" y2="677"/>
<line x1="285.57" y1="0" x2="285.57" y2="677"/>
<line x1="300.96" y1="0" x2="300.96" y2="677"/>
<line x1="316.35" y1="0" x2="316.35" y2="677"/>
<line x1="331.74" y1="0" x2="331.74" y2="677"/>
<line x1="347.13" y1="0" x2="347.13" y2="677"/>
<line x1="362.52" y1="0" x2="362.52" y2="677"/>
<line x1="377.91" y1="0" x2="377.91" y2="677"/>
<line x1="393.3" y1="0" x2="393.3" y2="677"/>
<line x1="408.69" y1="0" x2="408.69" y2="677"/>
<line x1="424.08" y1="0" x2="424.08" y2="677"/>
<line x1="439.47" y1="0" x2="439.47" y2="677"/>
<line x1="454.86" y1="0" x2="454.86" y2="677"/>
<line x1="470.25" y1="0" x2="470.25" y2="677"/>
<line x1="485.64" y1="0" x2="485.64" y2="677"/>
<line x1="501.03" y1="0" x2="501.03" y2="677"/>
<line x1="516.42" y1="0" x2="516.42" y2="677"/>
<line x1="531.81" y1="0" x2="531.81" y2="677"/>
<line x1="547.2" y1="0" x2="547.2" y2="677"/>
<line x1="562.59" y1="0" x2="562.59" y2="677"/>
<line x1="577.98" y1="0" x2="577.98" y2="677"/>
<line x1="593.37" y1="0" x2="593.37" y2="677"/>
<line x1="608.76" y1="0" x2="608.76" y2="677"/>
<line x1="624.15" y1="0" x2="624.15" y2="677"/>
<line x1="639.54" y1="0" x2="639.54" y2="677"/>
<line x1="654.93" y1="0" x2="654.93" y2="677"/>
<line x1="670.32" y1="0" x2="670.32" y2="677"/>
<line x1="685.71" y1="0" x2="685.71" y2="677"/>
<line x1="701.1" y1="0" x2="701.1" y2="677"/>
<line x1="716.49" y1="0" x2="716.49" y2="677"/>
<line x1="731.88" y1="0" x2="731.88" y2="677"/>
<line x1="747.27" y1="0" x2="747.27" y2="677"/>
<line x1="762.66" y1="0" x2="762.66" y2="677"/>
<line x1="778.05" y1="0" x2="778.05" y2="677"/>
<line x1="793.44" y1="0" x2="793.44" y2="677"/>
<line x1="808.83" y1="0" x2="808.83" y2="677"/>
<line x1="824.22" y1="0" x2="824.22" y2="677"/>
<line x1="839.61" y1="0" x2="839.61" y2="677"/>
<line x1="855" y1="0" x2="855" y2="677"/>
<line x1="870.39" y1="0" x2="870.39" y2="677"/>
<line x1="885.78" y1="0" x2="885.78" y2="677"/>
<line x1="901.17" y1="0" x2="901.17" y2="677"/>
<line x1="916.56" y1="0" x2="916.56" y2="677"/>
<line x1="931.95" y1="0" x2="931.95" y2="677"/>
<line x1="947.34" y1="0" x2="947.34" y2="677"/>
<line x1="962.73" y1="0" x2="962.73" y2="677"/>
<line x1="978.12" y1="0" x2="978.12" y2="677"/>
<line x1="993.51" y1="0" x2="993.51" y2="677"/>
<line x1="1008.9" y1="0" x2="1008.9" y2="677"/>
<line x1="1024.29" y1="0" x2="1024.29" y2="677"/>
<line x1="1039.68" y1="0" x2="1039.68" y2="677"/>
<line x1="1055.07" y1="0" x2="1055.07" y2="677"/>
<line x1="0" y1="0" x2="1063" y2="0"/>
<line x1="0" y1="15.39" x2="1063" y2="15.39"/>
<line x1="0" y1="30.78" x2="1063" y2="30.78"/>
<line x1="0" y1="46.17" x2="1063" y2="46.17"/>
<line x1="0" y1="61.56" x2="1063" y2="61.56"/>
<line x1="0" y1="76.95" x2="1063" y2="76.95"/>
<line x1="0" y1="92.34" x2="1063" y2="92.34"/>
<line x1="0" y1="107.73" x2="1063" y2="107.73"/>
<line x1="0" y1="123.12" x2="1063" y2="123.12"/>
<line x1="0" y1="138.51" x2="1063" y2="138.51"/>
<line x1="0" y1="153.9" x2="1063" y2="153.9"/>
<line x1="0" y1="169.29" x2="1063" y2="169.29"/>
<line x1="0" y1="184.68" x2="1063" y2="184.68"/>
<line x1="0" y1="200.07" x2="1063" y2="200.07"/>
<line x1="0" y1="215.46" x2="1063" y2="215.46"/>
<line x1="0" y1="230.85" x2="1063" y2="230.85"/>
<line x1="0" y1="246.24" x2="1063" y2="246.24"/>
<line x1="0" y1="261.63" x2="1063" y2="261.63"/>
<line x1="0" y1="277.02" x2="1063" y2="277.02"/>
<line x1="0" y1="292.41" x2="1063" y2="292.41"/>
<line x1="0" y1="307.8" x2="1063" y2="307.8"/>
<line x1="0" y1="323.19" x2="1063" y2="323.19"/>
<line x1="0" y1="338.58" x2="1063" y2="338.58"/>
<line x1="0" y1="353.97" x2="1063" y2="353.97"/>
<line x1="0" y1="369.36" x2="1063" y2="369.36"/>
<line x1="0" y1="384.75" x2="1063" y2="384.75"/>
<line x1="0" y1="400.14" x2="1063" y2="400.14"/>
<line x1="0" y1="415.53" x2="1063" y2="415.53"/>
<line x1="0" y1="430.92" x2="1063" y2="430.92"/>
<line x1="0" y1="446.31" x2="1063" y2="446.31"/>
<line x1="0" y1="461.7" x2="1063" y2="461.7"/>
<line x1="0" y1="477.09" x2="1063" y2="477.09"/>
<line x1="0" y1="492.48" x2="1063" y2="492.48"/>
<line x1="0" y1="507.87" x2="1063" y2="507.87"/>
<line x1="0" y1="523.26" x2="1063" y2="523.26"/>
<line x1="0" y1="538.65" x2="1063" y2="538.65"/>
<line x1="0" y1="554.04" x2="1063" y2="554.04"/>
<line x1="0" y1="569.43" x2="1063" y2="569.43"/>
<line x1="0" y1="584.82" x2="1063" y2="584.82"/>
<line x1="0" y1="600.21" x2="1063" y2="600.21"/>
<line x1="0" y1="615.6" x2="1063" y2="615.6"/>
<line x1="0" y1="630.99" x2="1063" y2="630.99"/>
<line x1="0" y1="646.38" x2="1063" y2="646.38"/>
<line x1="0" y1="661.77" x2="1063" y2="661.77"/>
<line x1="0" y1="677.16" x2="1063" y2="677.16"/>
</g>
<g id="labels2" fill="#fff" font-family="'Liberation Sans', Arial, sans-serif">
<text font-size="10.5" textLength="9" lengthAdjust="spacingAndGlyphs" transform="translate(425 625.8) rotate(180)">E1</text>
</g>
</svg>
</body></html>
